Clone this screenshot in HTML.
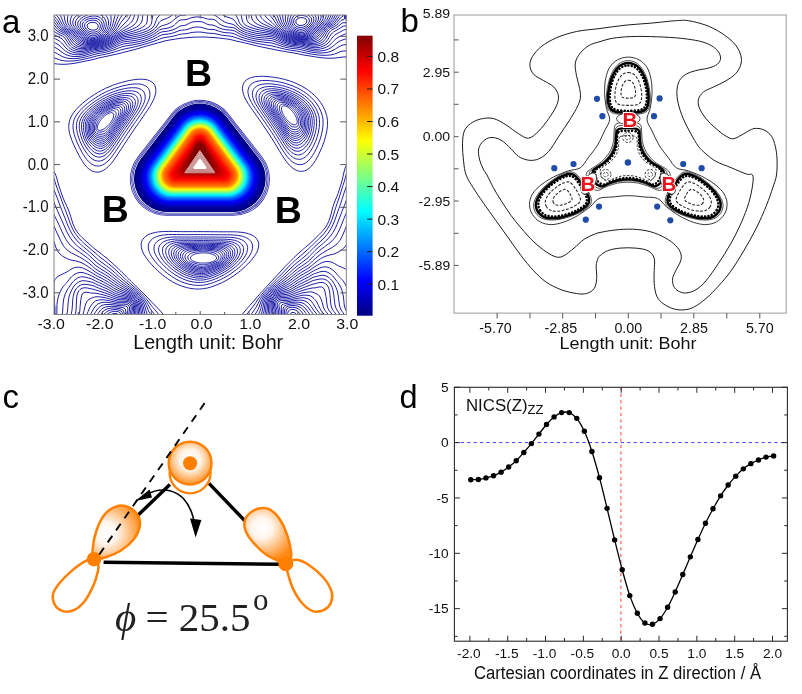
<!DOCTYPE html>
<html><head><meta charset="utf-8"><title>Figure</title>
<style>html,body{margin:0;padding:0;background:#fff;overflow:hidden}svg{display:block;position:absolute;left:0;top:0;will-change:transform;opacity:0.9999}</style>
</head><body>
<svg width="802" height="694" viewBox="0 0 802 694">
<rect width="802" height="694" fill="#fff"/>
<clipPath id="ca"><rect x="54.0" y="15.0" width="292.3" height="299.5"/></clipPath>
<g clip-path="url(#ca)" fill="none" stroke="#2020a8" stroke-width="1">
<path d="M99.69 121.5C99.86 121.24 100.02 121.02 100.17 120.8C100.33 120.58 100.47 120.38 100.62 120.19C100.76 120 100.9 119.82 101.04 119.65C101.18 119.48 101.31 119.32 101.44 119.16C101.58 119 101.71 118.84 101.84 118.69C101.97 118.54 102.11 118.39 102.24 118.24C102.38 118.09 102.52 117.95 102.66 117.8C102.8 117.65 102.95 117.5 103.1 117.35C103.26 117.19 103.42 117.04 103.59 116.88C103.76 116.72 103.93 116.55 104.13 116.38C104.32 116.21 104.53 116.03 104.75 115.84C104.98 115.65 105.22 115.45 105.5 115.25C105.78 115.04 106.07 114.82 106.41 114.59C106.75 114.36 107.12 114.11 107.54 113.88C107.96 113.65 108.44 113.38 108.94 113.19C109.45 112.99 110.04 112.77 110.58 112.69C111.13 112.62 111.75 112.59 112.22 112.75C112.68 112.9 113.11 113.23 113.37 113.63C113.62 114.04 113.72 114.64 113.74 115.18C113.76 115.72 113.62 116.35 113.5 116.88C113.37 117.42 113.16 117.94 112.98 118.4C112.8 118.86 112.59 119.27 112.39 119.65C112.2 120.03 112.01 120.36 111.83 120.67C111.65 120.97 111.47 121.24 111.31 121.5C111.14 121.76 110.98 121.98 110.83 122.2C110.67 122.42 110.53 122.62 110.38 122.81C110.24 123 110.1 123.18 109.96 123.35C109.82 123.52 109.69 123.68 109.56 123.84C109.42 124 109.29 124.16 109.16 124.31C109.03 124.46 108.89 124.61 108.76 124.76C108.62 124.91 108.48 125.05 108.34 125.2C108.2 125.35 108.05 125.5 107.9 125.65C107.74 125.81 107.58 125.96 107.41 126.12C107.24 126.28 107.07 126.45 106.87 126.62C106.68 126.79 106.47 126.97 106.25 127.16C106.02 127.35 105.78 127.55 105.5 127.75C105.22 127.96 104.93 128.18 104.59 128.41C104.25 128.64 103.88 128.89 103.46 129.12C103.04 129.35 102.56 129.62 102.06 129.81C101.55 130.01 100.96 130.23 100.42 130.31C99.87 130.38 99.25 130.41 98.78 130.25C98.32 130.1 97.89 129.77 97.63 129.37C97.38 128.96 97.28 128.36 97.26 127.82C97.24 127.28 97.38 126.65 97.5 126.12C97.63 125.58 97.84 125.06 98.02 124.6C98.2 124.14 98.41 123.73 98.61 123.35C98.8 122.97 98.99 122.64 99.17 122.33C99.35 122.03 99.53 121.76 99.69 121.5Z"/>
<path d="M97.87 121.5C98.05 121.17 98.24 120.86 98.42 120.57C98.61 120.28 98.8 120.01 98.99 119.75C99.18 119.5 99.36 119.26 99.55 119.04C99.74 118.81 99.92 118.6 100.11 118.39C100.29 118.18 100.48 117.98 100.66 117.79C100.85 117.59 101.03 117.4 101.22 117.22C101.41 117.03 101.59 116.85 101.79 116.66C101.98 116.48 102.18 116.3 102.39 116.11C102.6 115.92 102.81 115.74 103.03 115.54C103.26 115.35 103.49 115.15 103.74 114.95C104 114.74 104.26 114.54 104.55 114.32C104.85 114.1 105.15 113.87 105.5 113.63C105.85 113.39 106.21 113.15 106.63 112.89C107.05 112.64 107.5 112.37 108.02 112.11C108.53 111.85 109.1 111.56 109.71 111.34C110.32 111.11 111.02 110.87 111.7 110.77C112.37 110.67 113.14 110.6 113.76 110.74C114.37 110.88 114.99 111.18 115.39 111.61C115.79 112.04 116.05 112.68 116.16 113.32C116.27 113.95 116.17 114.73 116.03 115.42C115.9 116.1 115.6 116.81 115.35 117.42C115.09 118.03 114.77 118.59 114.5 119.09C114.23 119.59 113.96 120.02 113.71 120.42C113.46 120.82 113.23 121.17 113.01 121.5C112.79 121.83 112.58 122.12 112.39 122.41C112.19 122.69 112 122.94 111.82 123.19C111.63 123.44 111.46 123.67 111.29 123.9C111.12 124.12 110.95 124.34 110.78 124.55C110.62 124.76 110.45 124.97 110.29 125.17C110.12 125.38 109.95 125.58 109.78 125.78C109.61 125.99 109.44 126.19 109.26 126.4C109.08 126.61 108.9 126.82 108.7 127.04C108.5 127.27 108.3 127.49 108.08 127.74C107.86 127.98 107.63 128.23 107.38 128.5C107.12 128.77 106.85 129.06 106.53 129.35C106.22 129.64 105.88 129.95 105.5 130.23C105.12 130.51 104.7 130.79 104.25 131.03C103.79 131.26 103.3 131.47 102.78 131.64C102.26 131.81 101.71 131.95 101.13 132.04C100.56 132.13 99.93 132.21 99.34 132.17C98.75 132.13 98.1 132.04 97.61 131.79C97.11 131.53 96.65 131.12 96.36 130.64C96.07 130.15 95.94 129.49 95.87 128.89C95.81 128.28 95.89 127.6 95.98 127C96.06 126.4 96.22 125.82 96.36 125.29C96.5 124.76 96.68 124.27 96.84 123.82C97 123.37 97.17 122.96 97.35 122.57C97.52 122.19 97.69 121.83 97.87 121.5Z"/>
<path d="M96.02 121.5C96.22 121.09 96.43 120.7 96.64 120.33C96.86 119.97 97.1 119.63 97.33 119.31C97.56 118.99 97.8 118.69 98.04 118.41C98.28 118.13 98.51 117.86 98.75 117.6C98.99 117.35 99.22 117.1 99.46 116.87C99.7 116.63 99.93 116.4 100.17 116.17C100.41 115.95 100.65 115.73 100.9 115.51C101.15 115.29 101.4 115.07 101.66 114.85C101.92 114.63 102.19 114.41 102.47 114.18C102.75 113.96 103.04 113.73 103.35 113.49C103.67 113.26 103.99 113.02 104.35 112.77C104.71 112.52 105.08 112.26 105.5 111.99C105.92 111.73 106.36 111.45 106.86 111.17C107.36 110.89 107.9 110.59 108.5 110.3C109.1 110.02 109.77 109.71 110.49 109.46C111.21 109.21 112.02 108.93 112.83 108.81C113.63 108.68 114.55 108.58 115.32 108.7C116.09 108.82 116.9 109.09 117.45 109.55C118 110 118.43 110.7 118.63 111.43C118.82 112.16 118.76 113.1 118.61 113.93C118.47 114.76 118.08 115.66 117.75 116.42C117.42 117.19 116.99 117.89 116.64 118.52C116.28 119.14 115.94 119.67 115.62 120.17C115.3 120.67 115.02 121.09 114.74 121.5C114.47 121.91 114.21 122.27 113.97 122.62C113.73 122.96 113.5 123.28 113.28 123.58C113.06 123.89 112.85 124.18 112.64 124.46C112.43 124.74 112.23 125 112.03 125.27C111.83 125.54 111.63 125.79 111.43 126.05C111.23 126.31 111.03 126.57 110.83 126.83C110.62 127.09 110.41 127.35 110.2 127.62C109.98 127.89 109.76 128.17 109.52 128.46C109.28 128.75 109.04 129.05 108.76 129.38C108.49 129.71 108.21 130.05 107.89 130.42C107.57 130.78 107.22 131.19 106.83 131.57C106.43 131.96 105.99 132.4 105.5 132.75C105.01 133.1 104.46 133.45 103.9 133.69C103.33 133.93 102.71 134.1 102.1 134.2C101.48 134.3 100.84 134.33 100.2 134.31C99.55 134.28 98.88 134.23 98.24 134.07C97.61 133.91 96.94 133.7 96.41 133.34C95.88 132.99 95.4 132.49 95.07 131.93C94.75 131.37 94.57 130.64 94.46 129.97C94.35 129.3 94.39 128.56 94.42 127.9C94.46 127.23 94.57 126.58 94.67 125.98C94.78 125.39 94.91 124.83 95.04 124.3C95.18 123.77 95.33 123.28 95.49 122.82C95.65 122.35 95.83 121.91 96.02 121.5Z"/>
<path d="M94.48 121.5C94.68 121.02 94.91 120.57 95.16 120.14C95.4 119.71 95.67 119.31 95.94 118.94C96.21 118.56 96.5 118.22 96.77 117.89C97.05 117.55 97.34 117.25 97.62 116.95C97.9 116.65 98.18 116.37 98.46 116.1C98.74 115.82 99.02 115.56 99.3 115.3C99.59 115.04 99.87 114.79 100.16 114.54C100.45 114.29 100.75 114.05 101.05 113.8C101.36 113.55 101.67 113.3 102 113.05C102.33 112.79 102.67 112.54 103.03 112.28C103.39 112.01 103.77 111.75 104.18 111.47C104.59 111.19 105.02 110.91 105.5 110.62C105.98 110.33 106.48 110.03 107.05 109.73C107.62 109.42 108.22 109.1 108.9 108.8C109.59 108.49 110.33 108.16 111.14 107.89C111.95 107.62 112.86 107.32 113.77 107.17C114.69 107.02 115.73 106.88 116.63 106.99C117.53 107.1 118.5 107.35 119.18 107.82C119.85 108.3 120.42 109.04 120.69 109.85C120.95 110.66 120.92 111.73 120.77 112.68C120.62 113.64 120.16 114.7 119.76 115.59C119.37 116.48 118.85 117.31 118.43 118.04C118 118.76 117.59 119.38 117.22 119.96C116.85 120.53 116.51 121.03 116.19 121.5C115.87 121.97 115.58 122.39 115.3 122.79C115.01 123.19 114.75 123.56 114.5 123.91C114.24 124.27 114 124.6 113.77 124.92C113.53 125.25 113.3 125.56 113.07 125.87C112.84 126.18 112.62 126.48 112.39 126.79C112.16 127.09 111.93 127.39 111.7 127.7C111.46 128.01 111.23 128.32 110.98 128.64C110.73 128.96 110.48 129.29 110.2 129.64C109.93 130 109.65 130.36 109.33 130.75C109.02 131.15 108.69 131.57 108.32 132.02C107.94 132.46 107.54 132.96 107.07 133.44C106.6 133.91 106.08 134.44 105.5 134.85C104.92 135.27 104.27 135.67 103.6 135.91C102.94 136.16 102.22 136.3 101.52 136.34C100.82 136.39 100.11 136.31 99.41 136.2C98.71 136.08 98 135.91 97.33 135.65C96.66 135.39 95.97 135.09 95.41 134.64C94.86 134.2 94.35 133.63 93.99 133.01C93.64 132.38 93.43 131.6 93.28 130.88C93.14 130.15 93.13 129.36 93.13 128.64C93.12 127.93 93.19 127.23 93.26 126.57C93.33 125.91 93.43 125.29 93.54 124.7C93.66 124.11 93.79 123.56 93.94 123.02C94.1 122.49 94.27 121.98 94.48 121.5Z"/>
<path d="M93.11 121.5C93.32 120.96 93.58 120.45 93.84 119.97C94.11 119.48 94.42 119.03 94.72 118.61C95.02 118.19 95.34 117.8 95.66 117.42C95.98 117.05 96.3 116.71 96.62 116.37C96.94 116.04 97.25 115.72 97.57 115.42C97.89 115.11 98.21 114.82 98.53 114.53C98.85 114.24 99.18 113.97 99.51 113.69C99.84 113.41 100.17 113.14 100.52 112.87C100.86 112.59 101.21 112.32 101.58 112.05C101.95 111.77 102.33 111.49 102.74 111.2C103.15 110.92 103.57 110.63 104.03 110.33C104.49 110.03 104.97 109.72 105.5 109.41C106.03 109.1 106.59 108.78 107.22 108.45C107.84 108.13 108.51 107.79 109.26 107.47C110.01 107.14 110.82 106.79 111.71 106.5C112.6 106.21 113.6 105.89 114.61 105.72C115.62 105.55 116.77 105.39 117.79 105.49C118.8 105.59 119.91 105.81 120.7 106.3C121.48 106.8 122.18 107.57 122.5 108.45C122.83 109.33 122.83 110.52 122.67 111.59C122.51 112.65 121.98 113.85 121.54 114.86C121.1 115.86 120.49 116.79 120.01 117.61C119.52 118.43 119.05 119.12 118.63 119.77C118.21 120.42 117.83 120.97 117.47 121.5C117.11 122.03 116.78 122.49 116.47 122.94C116.15 123.39 115.86 123.8 115.58 124.2C115.29 124.6 115.03 124.97 114.76 125.34C114.5 125.7 114.24 126.05 113.99 126.4C113.73 126.75 113.49 127.09 113.23 127.43C112.98 127.78 112.73 128.12 112.47 128.47C112.21 128.82 111.95 129.17 111.67 129.54C111.39 129.91 111.11 130.28 110.8 130.69C110.5 131.09 110.19 131.51 109.83 131.96C109.48 132.42 109.12 132.91 108.7 133.43C108.27 133.95 107.82 134.53 107.29 135.08C106.75 135.62 106.16 136.24 105.5 136.71C104.84 137.18 104.09 137.62 103.34 137.88C102.6 138.13 101.79 138.24 101.02 138.23C100.25 138.23 99.47 138.07 98.72 137.87C97.97 137.67 97.22 137.4 96.52 137.05C95.82 136.7 95.11 136.31 94.53 135.79C93.95 135.28 93.42 134.65 93.04 133.96C92.66 133.27 92.42 132.45 92.24 131.68C92.06 130.9 92.02 130.07 91.98 129.31C91.94 128.54 91.98 127.79 92.02 127.08C92.06 126.38 92.13 125.71 92.22 125.06C92.31 124.41 92.42 123.8 92.57 123.2C92.72 122.61 92.9 122.04 93.11 121.5Z"/>
<path d="M91.69 121.5C91.91 120.9 92.18 120.32 92.47 119.79C92.77 119.25 93.1 118.74 93.44 118.27C93.78 117.79 94.14 117.36 94.49 116.94C94.85 116.52 95.21 116.14 95.57 115.77C95.93 115.4 96.29 115.05 96.65 114.71C97.01 114.37 97.37 114.05 97.73 113.73C98.09 113.41 98.45 113.1 98.82 112.8C99.19 112.49 99.57 112.2 99.96 111.9C100.34 111.6 100.74 111.3 101.15 111C101.56 110.7 101.99 110.39 102.44 110.08C102.89 109.77 103.36 109.46 103.87 109.13C104.38 108.81 104.91 108.48 105.5 108.15C106.09 107.81 106.7 107.47 107.39 107.13C108.08 106.78 108.81 106.42 109.63 106.08C110.45 105.73 111.34 105.37 112.31 105.05C113.29 104.74 114.37 104.4 115.48 104.21C116.59 104.02 117.86 103.83 118.99 103.92C120.13 104 121.38 104.2 122.29 104.71C123.19 105.23 124.01 106.04 124.4 106.99C124.8 107.95 124.83 109.26 124.66 110.44C124.49 111.62 123.89 112.97 123.39 114.09C122.89 115.21 122.2 116.26 121.66 117.17C121.11 118.09 120.58 118.86 120.1 119.58C119.63 120.3 119.21 120.91 118.8 121.5C118.4 122.09 118.04 122.6 117.69 123.1C117.34 123.6 117.02 124.06 116.7 124.5C116.39 124.95 116.09 125.36 115.8 125.77C115.51 126.18 115.23 126.56 114.95 126.96C114.67 127.35 114.4 127.73 114.12 128.11C113.84 128.5 113.56 128.88 113.27 129.27C112.99 129.67 112.7 130.06 112.39 130.48C112.08 130.9 111.77 131.32 111.43 131.78C111.1 132.24 110.75 132.71 110.36 133.23C109.97 133.75 109.57 134.31 109.09 134.9C108.62 135.5 108.11 136.17 107.51 136.79C106.91 137.42 106.24 138.13 105.5 138.65C104.76 139.17 103.91 139.67 103.07 139.93C102.24 140.19 101.33 140.26 100.49 140.21C99.64 140.16 98.8 139.9 98 139.61C97.2 139.33 96.41 138.95 95.68 138.51C94.95 138.07 94.22 137.59 93.61 136.99C93.01 136.4 92.46 135.7 92.05 134.95C91.64 134.21 91.36 133.34 91.15 132.51C90.94 131.68 90.86 130.81 90.79 130C90.71 129.18 90.71 128.38 90.72 127.62C90.73 126.86 90.77 126.13 90.84 125.43C90.91 124.72 91 124.05 91.14 123.39C91.28 122.74 91.46 122.1 91.69 121.5Z"/>
<path d="M90.32 121.5C90.55 120.84 90.85 120.21 91.16 119.61C91.48 119.02 91.85 118.46 92.22 117.94C92.59 117.42 92.99 116.94 93.38 116.48C93.77 116.02 94.17 115.6 94.57 115.19C94.97 114.78 95.37 114.4 95.76 114.03C96.16 113.66 96.56 113.31 96.96 112.96C97.36 112.61 97.76 112.28 98.17 111.95C98.58 111.62 98.99 111.29 99.42 110.97C99.85 110.64 100.28 110.32 100.73 110C101.19 109.67 101.65 109.34 102.15 109.01C102.65 108.67 103.16 108.33 103.72 107.99C104.28 107.64 104.86 107.29 105.5 106.94C106.14 106.58 106.81 106.22 107.56 105.85C108.31 105.49 109.1 105.11 109.99 104.75C110.88 104.38 111.83 104 112.89 103.67C113.94 103.34 115.1 102.98 116.31 102.77C117.52 102.56 118.9 102.34 120.15 102.41C121.4 102.48 122.79 102.66 123.81 103.19C124.82 103.73 125.76 104.58 126.22 105.6C126.68 106.62 126.74 108.05 126.56 109.34C126.39 110.63 125.72 112.12 125.17 113.35C124.61 114.59 123.84 115.74 123.23 116.75C122.62 117.75 122.04 118.6 121.51 119.39C120.99 120.18 120.52 120.86 120.08 121.5C119.64 122.14 119.24 122.71 118.86 123.26C118.47 123.81 118.12 124.3 117.78 124.79C117.44 125.28 117.11 125.73 116.8 126.18C116.48 126.63 116.17 127.06 115.87 127.49C115.56 127.92 115.27 128.33 114.96 128.76C114.66 129.19 114.36 129.61 114.04 130.04C113.73 130.48 113.42 130.92 113.08 131.38C112.75 131.84 112.41 132.31 112.04 132.82C111.67 133.33 111.29 133.86 110.86 134.44C110.43 135.02 109.99 135.65 109.47 136.31C108.95 136.98 108.39 137.74 107.73 138.43C107.07 139.13 106.32 139.93 105.5 140.51C104.68 141.08 103.74 141.63 102.82 141.89C101.9 142.16 100.9 142.2 99.98 142.1C99.06 142 98.16 141.65 97.3 141.28C96.45 140.92 95.63 140.43 94.87 139.91C94.11 139.39 93.36 138.81 92.73 138.14C92.1 137.48 91.53 136.71 91.09 135.91C90.66 135.1 90.35 134.18 90.11 133.31C89.87 132.43 89.75 131.52 89.64 130.66C89.53 129.79 89.5 128.95 89.47 128.14C89.45 127.33 89.46 126.54 89.51 125.78C89.56 125.02 89.64 124.28 89.77 123.57C89.91 122.86 90.09 122.16 90.32 121.5Z"/>
<path d="M88.96 121.5C89.2 120.78 89.51 120.09 89.85 119.44C90.19 118.79 90.59 118.18 90.99 117.61C91.4 117.04 91.83 116.52 92.26 116.02C92.69 115.52 93.13 115.06 93.57 114.61C94.01 114.17 94.44 113.75 94.88 113.35C95.32 112.95 95.75 112.56 96.19 112.19C96.63 111.81 97.07 111.45 97.52 111.09C97.96 110.74 98.42 110.39 98.88 110.04C99.35 109.69 99.82 109.34 100.32 108.99C100.82 108.64 101.32 108.29 101.86 107.93C102.41 107.58 102.96 107.21 103.57 106.85C104.18 106.48 104.81 106.1 105.5 105.73C106.19 105.35 106.92 104.97 107.73 104.58C108.53 104.2 109.39 103.8 110.34 103.42C111.3 103.04 112.33 102.63 113.46 102.28C114.59 101.93 115.84 101.55 117.15 101.32C118.46 101.09 119.94 100.85 121.3 100.91C122.66 100.96 124.2 101.12 125.33 101.67C126.45 102.22 127.52 103.11 128.04 104.2C128.56 105.3 128.65 106.84 128.46 108.24C128.28 109.64 127.55 111.27 126.94 112.62C126.34 113.96 125.48 115.23 124.81 116.33C124.14 117.42 123.5 118.34 122.92 119.21C122.35 120.07 121.84 120.8 121.36 121.5C120.88 122.2 120.44 122.82 120.03 123.41C119.61 124.01 119.23 124.55 118.86 125.08C118.48 125.61 118.14 126.1 117.79 126.59C117.45 127.08 117.12 127.55 116.79 128.02C116.46 128.49 116.14 128.94 115.81 129.41C115.48 129.87 115.15 130.33 114.81 130.81C114.47 131.29 114.13 131.77 113.77 132.28C113.41 132.79 113.04 133.3 112.64 133.87C112.24 134.43 111.83 135.01 111.36 135.65C110.9 136.3 110.42 136.99 109.85 137.73C109.28 138.46 108.67 139.3 107.95 140.08C107.22 140.85 106.4 141.73 105.5 142.36C104.6 142.99 103.56 143.58 102.56 143.85C101.55 144.12 100.47 144.14 99.47 143.99C98.48 143.84 97.51 143.4 96.61 142.96C95.71 142.51 94.86 141.92 94.06 141.31C93.27 140.7 92.5 140.03 91.85 139.29C91.19 138.55 90.6 137.72 90.14 136.86C89.68 136 89.34 135.03 89.07 134.11C88.79 133.19 88.64 132.23 88.5 131.32C88.36 130.41 88.28 129.52 88.23 128.65C88.18 127.79 88.16 126.96 88.19 126.14C88.22 125.32 88.28 124.52 88.41 123.75C88.53 122.98 88.71 122.22 88.96 121.5Z"/>
<path d="M87.44 121.5C87.69 120.72 88.02 119.96 88.39 119.25C88.76 118.54 89.19 117.87 89.63 117.25C90.07 116.62 90.55 116.05 91.02 115.5C91.49 114.96 91.98 114.45 92.46 113.97C92.94 113.49 93.42 113.04 93.9 112.6C94.38 112.16 94.85 111.74 95.33 111.33C95.82 110.93 96.3 110.54 96.79 110.15C97.28 109.76 97.78 109.38 98.29 109.01C98.8 108.63 99.32 108.26 99.86 107.88C100.4 107.5 100.95 107.12 101.55 106.74C102.14 106.36 102.74 105.97 103.4 105.58C104.06 105.18 104.75 104.78 105.5 104.38C106.25 103.98 107.04 103.58 107.91 103.17C108.79 102.76 109.71 102.35 110.74 101.94C111.77 101.54 112.88 101.11 114.1 100.74C115.32 100.37 116.66 99.97 118.08 99.72C119.49 99.47 121.1 99.19 122.59 99.23C124.07 99.28 125.77 99.42 127.01 99.99C128.26 100.56 129.47 101.48 130.06 102.65C130.65 103.83 130.77 105.5 130.58 107.02C130.39 108.55 129.58 110.33 128.92 111.8C128.25 113.27 127.3 114.66 126.57 115.86C125.83 117.06 125.12 118.06 124.49 119C123.86 119.94 123.31 120.74 122.78 121.5C122.25 122.26 121.78 122.93 121.33 123.58C120.87 124.23 120.46 124.82 120.05 125.4C119.65 125.98 119.27 126.51 118.9 127.05C118.52 127.58 118.17 128.09 117.81 128.61C117.45 129.12 117.1 129.62 116.75 130.13C116.39 130.64 116.04 131.14 115.67 131.67C115.3 132.19 114.93 132.72 114.54 133.28C114.15 133.84 113.75 134.41 113.31 135.03C112.87 135.65 112.43 136.29 111.92 137C111.41 137.71 110.89 138.48 110.27 139.3C109.65 140.11 108.98 141.05 108.19 141.9C107.39 142.76 106.49 143.74 105.5 144.43C104.51 145.12 103.37 145.76 102.27 146.03C101.17 146.31 99.98 146.29 98.91 146.09C97.84 145.88 96.8 145.35 95.84 144.81C94.89 144.27 94 143.57 93.17 142.86C92.34 142.15 91.55 141.39 90.87 140.57C90.19 139.74 89.58 138.85 89.08 137.92C88.59 136.99 88.22 135.98 87.91 135C87.6 134.02 87.4 133.01 87.22 132.05C87.05 131.09 86.93 130.15 86.85 129.23C86.76 128.31 86.71 127.41 86.72 126.53C86.72 125.65 86.76 124.79 86.88 123.95C87 123.11 87.19 122.28 87.44 121.5Z"/>
<path d="M85.89 121.5C86.15 120.65 86.51 119.82 86.9 119.05C87.3 118.28 87.77 117.56 88.25 116.88C88.72 116.2 89.25 115.57 89.76 114.98C90.27 114.39 90.8 113.84 91.32 113.32C91.85 112.79 92.37 112.3 92.89 111.83C93.42 111.35 93.94 110.9 94.46 110.46C94.99 110.02 95.51 109.6 96.05 109.18C96.58 108.76 97.12 108.36 97.68 107.95C98.24 107.55 98.8 107.15 99.39 106.74C99.98 106.34 100.58 105.93 101.22 105.52C101.86 105.11 102.52 104.7 103.23 104.28C103.95 103.86 104.69 103.44 105.5 103.01C106.31 102.59 107.16 102.16 108.1 101.73C109.04 101.3 110.04 100.86 111.14 100.43C112.25 100.01 113.44 99.56 114.75 99.17C116.06 98.78 117.5 98.35 119.02 98.08C120.55 97.81 122.27 97.5 123.89 97.53C125.51 97.56 127.37 97.67 128.74 98.26C130.11 98.85 131.46 99.82 132.12 101.07C132.79 102.33 132.93 104.13 132.73 105.78C132.53 107.43 131.66 109.37 130.93 110.97C130.2 112.57 129.16 114.07 128.35 115.38C127.55 116.68 126.78 117.77 126.09 118.79C125.4 119.81 124.8 120.67 124.23 121.5C123.66 122.33 123.14 123.05 122.65 123.76C122.16 124.46 121.71 125.1 121.27 125.73C120.84 126.35 120.43 126.94 120.03 127.52C119.62 128.1 119.24 128.65 118.85 129.21C118.46 129.77 118.09 130.31 117.7 130.86C117.32 131.42 116.94 131.97 116.54 132.54C116.14 133.11 115.75 133.69 115.32 134.3C114.9 134.91 114.47 135.53 113.99 136.21C113.52 136.89 113.04 137.59 112.49 138.37C111.94 139.16 111.37 140 110.7 140.9C110.02 141.79 109.3 142.82 108.43 143.76C107.56 144.7 106.58 145.78 105.5 146.53C104.42 147.28 103.17 147.98 101.98 148.26C100.78 148.54 99.49 148.49 98.34 148.23C97.18 147.97 96.07 147.34 95.06 146.7C94.05 146.07 93.12 145.25 92.25 144.45C91.39 143.64 90.58 142.78 89.87 141.87C89.16 140.96 88.53 139.99 88 139C87.48 138 87.08 136.94 86.73 135.9C86.38 134.87 86.14 133.82 85.93 132.8C85.71 131.79 85.56 130.79 85.44 129.81C85.32 128.83 85.23 127.88 85.22 126.93C85.2 125.99 85.22 125.06 85.33 124.15C85.45 123.25 85.63 122.35 85.89 121.5Z"/>
<path d="M84.04 121.5C84.31 120.57 84.7 119.66 85.12 118.82C85.55 117.97 86.07 117.18 86.59 116.43C87.11 115.69 87.68 115 88.25 114.35C88.81 113.7 89.39 113.11 89.97 112.53C90.54 111.96 91.12 111.42 91.69 110.91C92.27 110.39 92.84 109.9 93.42 109.42C94 108.94 94.57 108.48 95.16 108.03C95.75 107.57 96.34 107.13 96.95 106.69C97.56 106.25 98.18 105.82 98.82 105.38C99.47 104.95 100.13 104.51 100.83 104.07C101.53 103.63 102.25 103.18 103.03 102.73C103.81 102.28 104.62 101.83 105.5 101.37C106.38 100.92 107.31 100.46 108.33 100C109.35 99.55 110.43 99.08 111.63 98.63C112.83 98.18 114.11 97.71 115.53 97.29C116.95 96.87 118.5 96.42 120.15 96.12C121.81 95.82 123.69 95.47 125.46 95.49C127.23 95.5 129.28 95.59 130.8 96.2C132.32 96.82 133.83 97.83 134.59 99.18C135.34 100.53 135.52 102.49 135.31 104.29C135.1 106.09 134.14 108.22 133.33 109.97C132.53 111.72 131.38 113.37 130.49 114.8C129.61 116.23 128.75 117.42 128 118.54C127.24 119.65 126.59 120.6 125.96 121.5C125.33 122.4 124.78 123.2 124.24 123.97C123.7 124.74 123.21 125.43 122.73 126.12C122.26 126.8 121.81 127.44 121.37 128.08C120.93 128.71 120.52 129.32 120.1 129.93C119.68 130.54 119.27 131.13 118.85 131.74C118.43 132.35 118.02 132.96 117.58 133.58C117.15 134.21 116.72 134.85 116.26 135.52C115.79 136.19 115.33 136.88 114.81 137.63C114.3 138.38 113.77 139.15 113.17 140.02C112.57 140.88 111.95 141.82 111.21 142.81C110.47 143.81 109.68 144.95 108.72 145.99C107.77 147.03 106.68 148.23 105.5 149.05C104.32 149.87 102.93 150.63 101.63 150.92C100.32 151.21 98.9 151.12 97.65 150.79C96.4 150.47 95.2 149.71 94.12 148.97C93.04 148.23 92.07 147.27 91.16 146.34C90.25 145.42 89.42 144.44 88.68 143.43C87.93 142.42 87.27 141.36 86.71 140.29C86.15 139.21 85.71 138.09 85.32 136.99C84.93 135.89 84.64 134.78 84.37 133.7C84.11 132.62 83.91 131.56 83.75 130.51C83.59 129.46 83.47 128.43 83.42 127.42C83.38 126.4 83.38 125.39 83.48 124.4C83.58 123.41 83.77 122.43 84.04 121.5Z"/>
<path d="M82.1 121.5C82.39 120.49 82.8 119.49 83.26 118.57C83.72 117.65 84.28 116.78 84.85 115.97C85.42 115.15 86.04 114.41 86.66 113.7C87.28 112.99 87.92 112.34 88.54 111.71C89.17 111.08 89.81 110.5 90.43 109.94C91.06 109.38 91.69 108.84 92.32 108.32C92.96 107.8 93.59 107.31 94.23 106.81C94.88 106.32 95.52 105.85 96.19 105.37C96.86 104.9 97.53 104.43 98.23 103.96C98.94 103.49 99.66 103.02 100.42 102.54C101.18 102.06 101.97 101.59 102.81 101.1C103.66 100.62 104.54 100.14 105.5 99.65C106.46 99.17 107.46 98.68 108.57 98.19C109.67 97.71 110.84 97.22 112.13 96.74C113.43 96.26 114.81 95.77 116.34 95.32C117.88 94.87 119.55 94.39 121.34 94.06C123.13 93.74 125.17 93.35 127.1 93.35C129.04 93.34 131.28 93.4 132.96 94.04C134.64 94.68 136.33 95.75 137.17 97.2C138.01 98.65 138.24 100.77 138.02 102.73C137.8 104.68 136.74 107.01 135.86 108.93C134.98 110.84 133.71 112.64 132.74 114.2C131.76 115.76 130.83 117.06 130.01 118.27C129.18 119.49 128.46 120.51 127.78 121.5C127.1 122.49 126.49 123.35 125.9 124.19C125.32 125.02 124.78 125.78 124.27 126.53C123.75 127.27 123.27 127.97 122.79 128.66C122.31 129.35 121.86 130.01 121.4 130.68C120.95 131.35 120.5 132 120.05 132.67C119.6 133.33 119.15 133.99 118.68 134.68C118.21 135.37 117.74 136.06 117.24 136.8C116.74 137.54 116.23 138.29 115.67 139.11C115.11 139.94 114.54 140.79 113.88 141.74C113.23 142.69 112.56 143.72 111.75 144.82C110.94 145.92 110.07 147.18 109.03 148.32C107.99 149.47 106.8 150.79 105.5 151.69C104.2 152.59 102.69 153.41 101.26 153.71C99.83 154.01 98.28 153.87 96.93 153.48C95.58 153.09 94.29 152.2 93.14 151.34C91.98 150.49 90.96 149.38 90.01 148.33C89.06 147.28 88.2 146.18 87.42 145.06C86.65 143.95 85.96 142.8 85.36 141.64C84.76 140.49 84.27 139.29 83.83 138.12C83.4 136.96 83.06 135.78 82.75 134.64C82.44 133.49 82.18 132.36 81.98 131.24C81.78 130.12 81.61 129.02 81.54 127.92C81.46 126.82 81.44 125.73 81.53 124.66C81.63 123.59 81.81 122.51 82.1 121.5Z"/>
<path d="M79.79 121.5C80.1 120.39 80.54 119.29 81.04 118.28C81.54 117.27 82.16 116.31 82.78 115.41C83.4 114.52 84.1 113.7 84.78 112.92C85.45 112.14 86.16 111.42 86.85 110.73C87.55 110.05 88.25 109.41 88.94 108.79C89.64 108.17 90.33 107.59 91.02 107.02C91.72 106.45 92.42 105.91 93.13 105.38C93.84 104.84 94.55 104.32 95.28 103.8C96.02 103.29 96.76 102.78 97.53 102.27C98.31 101.75 99.1 101.24 99.93 100.73C100.77 100.21 101.63 99.69 102.56 99.17C103.49 98.65 104.45 98.13 105.5 97.61C106.55 97.09 107.65 96.56 108.85 96.05C110.06 95.53 111.33 95.01 112.74 94.49C114.15 93.98 115.64 93.46 117.31 92.98C118.98 92.5 120.79 91.99 122.75 91.62C124.71 91.26 126.92 90.83 129.05 90.81C131.18 90.78 133.66 90.8 135.53 91.47C137.39 92.14 139.29 93.27 140.24 94.84C141.19 96.41 141.46 98.73 141.23 100.87C141 103.01 139.83 105.58 138.86 107.68C137.89 109.79 136.48 111.77 135.41 113.49C134.33 115.2 133.3 116.62 132.39 117.96C131.48 119.3 130.69 120.42 129.94 121.5C129.19 122.58 128.52 123.53 127.88 124.45C127.23 125.37 126.65 126.2 126.09 127.02C125.52 127.83 124.99 128.6 124.47 129.36C123.95 130.12 123.45 130.84 122.96 131.58C122.46 132.31 121.97 133.03 121.48 133.76C120.98 134.49 120.49 135.22 119.98 135.98C119.47 136.74 118.95 137.5 118.41 138.32C117.86 139.13 117.3 139.96 116.69 140.88C116.07 141.79 115.45 142.73 114.73 143.79C114.02 144.84 113.28 145.99 112.39 147.2C111.5 148.42 110.54 149.83 109.4 151.1C108.25 152.37 106.93 153.84 105.5 154.83C104.07 155.82 102.39 156.72 100.82 157.03C99.25 157.33 97.55 157.15 96.08 156.67C94.6 156.2 93.21 155.16 91.97 154.17C90.73 153.17 89.65 151.89 88.65 150.69C87.64 149.5 86.75 148.24 85.93 147C85.12 145.76 84.39 144.5 83.75 143.25C83.11 142 82.56 140.72 82.08 139.47C81.59 138.22 81.18 136.98 80.81 135.75C80.45 134.53 80.13 133.32 79.88 132.11C79.63 130.91 79.41 129.71 79.3 128.52C79.19 127.33 79.14 126.13 79.22 124.96C79.3 123.79 79.49 122.61 79.79 121.5Z"/>
<path d="M77 121.5C77.32 120.27 77.81 119.05 78.36 117.93C78.9 116.8 79.59 115.73 80.28 114.74C80.97 113.75 81.74 112.84 82.49 111.97C83.25 111.11 84.04 110.31 84.81 109.55C85.58 108.79 86.36 108.09 87.13 107.4C87.9 106.72 88.67 106.08 89.45 105.45C90.23 104.82 91 104.22 91.79 103.63C92.58 103.04 93.37 102.47 94.19 101.9C95 101.33 95.82 100.78 96.68 100.22C97.54 99.65 98.42 99.1 99.35 98.53C100.27 97.97 101.23 97.4 102.25 96.84C103.28 96.27 104.34 95.7 105.5 95.13C106.66 94.57 107.87 94 109.19 93.45C110.52 92.89 111.92 92.33 113.46 91.78C115.01 91.23 116.66 90.66 118.49 90.15C120.32 89.63 122.3 89.07 124.46 88.67C126.61 88.27 129.05 87.78 131.41 87.73C133.78 87.68 136.55 87.65 138.64 88.36C140.73 89.07 142.88 90.28 143.96 91.99C145.04 93.7 145.36 96.26 145.12 98.63C144.87 100.99 143.57 103.85 142.48 106.18C141.4 108.51 139.83 110.72 138.63 112.62C137.43 114.52 136.28 116.1 135.27 117.58C134.26 119.06 133.39 120.3 132.55 121.5C131.72 122.7 130.98 123.74 130.27 124.76C129.56 125.78 128.92 126.7 128.29 127.61C127.66 128.51 127.08 129.36 126.51 130.2C125.93 131.04 125.39 131.85 124.83 132.66C124.28 133.48 123.75 134.27 123.21 135.09C122.66 135.9 122.12 136.71 121.55 137.55C120.99 138.4 120.42 139.25 119.82 140.16C119.21 141.07 118.6 141.99 117.92 143.01C117.24 144.03 116.55 145.09 115.76 146.27C114.97 147.45 114.15 148.73 113.16 150.09C112.17 151.45 111.12 153.03 109.84 154.45C108.56 155.88 107.09 157.53 105.5 158.62C103.91 159.72 102.04 160.72 100.29 161.04C98.55 161.36 96.66 161.11 95.04 160.54C93.42 159.96 91.9 158.75 90.55 157.58C89.21 156.42 88.07 154.92 87 153.55C85.92 152.18 85 150.74 84.13 149.35C83.27 147.96 82.5 146.57 81.8 145.2C81.11 143.82 80.5 142.46 79.95 141.11C79.39 139.76 78.91 138.43 78.47 137.1C78.04 135.78 77.65 134.48 77.34 133.17C77.02 131.86 76.75 130.55 76.6 129.24C76.44 127.94 76.36 126.62 76.42 125.33C76.49 124.04 76.68 122.73 77 121.5Z"/>
<path d="M73.6 121.5C73.95 120.12 74.49 118.76 75.09 117.5C75.7 116.23 76.46 115.04 77.23 113.93C78.01 112.81 78.87 111.79 79.72 110.82C80.57 109.85 81.45 108.97 82.32 108.12C83.19 107.26 84.06 106.48 84.93 105.71C85.8 104.95 86.66 104.23 87.53 103.53C88.41 102.83 89.28 102.17 90.16 101.51C91.05 100.85 91.94 100.22 92.85 99.59C93.77 98.96 94.69 98.34 95.65 97.72C96.61 97.1 97.59 96.48 98.63 95.86C99.67 95.24 100.73 94.61 101.88 93.99C103.02 93.37 104.21 92.74 105.5 92.12C106.79 91.5 108.14 90.89 109.61 90.28C111.09 89.67 112.63 89.06 114.35 88.47C116.07 87.87 117.89 87.26 119.92 86.7C121.95 86.13 124.14 85.52 126.53 85.07C128.93 84.62 131.64 84.06 134.29 83.98C136.94 83.9 140.05 83.82 142.42 84.58C144.79 85.34 147.25 86.63 148.48 88.52C149.72 90.4 150.12 93.25 149.85 95.89C149.59 98.53 148.12 101.74 146.9 104.35C145.69 106.96 143.91 109.44 142.56 111.57C141.21 113.7 139.92 115.46 138.78 117.12C137.64 118.77 136.67 120.16 135.73 121.5C134.8 122.84 133.97 124.01 133.18 125.14C132.39 126.28 131.67 127.31 130.97 128.32C130.27 129.34 129.62 130.28 128.98 131.23C128.34 132.17 127.73 133.07 127.12 133.98C126.51 134.9 125.92 135.79 125.31 136.7C124.7 137.61 124.1 138.52 123.47 139.47C122.84 140.42 122.21 141.37 121.54 142.4C120.86 143.42 120.17 144.46 119.42 145.61C118.67 146.76 117.89 147.95 117.01 149.28C116.12 150.61 115.21 152.06 114.1 153.6C113 155.15 111.81 156.93 110.38 158.54C108.94 160.15 107.29 162.02 105.5 163.25C103.71 164.48 101.6 165.59 99.65 165.92C97.7 166.26 95.58 165.94 93.78 165.24C91.98 164.54 90.3 163.11 88.83 161.74C87.37 160.37 86.14 158.62 84.99 157.03C83.84 155.44 82.86 153.79 81.94 152.21C81.01 150.63 80.2 149.09 79.43 147.57C78.67 146.05 77.99 144.57 77.35 143.1C76.72 141.63 76.14 140.19 75.62 138.75C75.1 137.31 74.63 135.89 74.24 134.45C73.85 133.01 73.5 131.57 73.3 130.13C73.1 128.68 72.97 127.21 73.02 125.78C73.07 124.34 73.26 122.88 73.6 121.5Z"/>
<path d="M69.36 121.5C69.73 119.94 70.33 118.39 71.01 116.96C71.69 115.53 72.55 114.17 73.43 112.91C74.3 111.64 75.28 110.48 76.25 109.38C77.21 108.29 78.22 107.28 79.2 106.32C80.19 105.35 81.19 104.47 82.18 103.6C83.16 102.74 84.15 101.93 85.14 101.14C86.13 100.35 87.12 99.6 88.13 98.86C89.14 98.12 90.14 97.41 91.18 96.7C92.22 95.99 93.27 95.3 94.36 94.6C95.45 93.91 96.56 93.21 97.73 92.52C98.91 91.82 100.12 91.13 101.41 90.43C102.7 89.74 104.05 89.04 105.5 88.36C106.95 87.67 108.47 86.99 110.13 86.32C111.79 85.65 113.53 84.99 115.46 84.33C117.39 83.67 119.42 83.01 121.7 82.38C123.98 81.76 126.43 81.09 129.13 80.57C131.82 80.06 134.88 79.42 137.88 79.3C140.88 79.18 144.44 79.04 147.15 79.85C149.86 80.66 152.7 82.07 154.14 84.18C155.58 86.28 156.06 89.49 155.77 92.48C155.49 95.46 153.81 99.1 152.42 102.06C151.04 105.03 149.01 107.84 147.47 110.25C145.93 112.67 144.46 114.67 143.17 116.54C141.87 118.42 140.77 119.99 139.71 121.5C138.65 123.01 137.72 124.34 136.82 125.62C135.92 126.91 135.11 128.07 134.32 129.22C133.53 130.37 132.8 131.44 132.08 132.51C131.36 133.58 130.67 134.6 129.98 135.63C129.29 136.67 128.62 137.68 127.94 138.72C127.25 139.76 126.57 140.79 125.87 141.87C125.16 142.95 124.45 144.03 123.68 145.2C122.92 146.36 122.15 147.55 121.3 148.86C120.44 150.17 119.57 151.53 118.57 153.05C117.57 154.58 116.53 156.23 115.28 158C114.03 159.76 112.68 161.81 111.05 163.65C109.42 165.49 107.53 167.63 105.5 169.02C103.47 170.42 101.06 171.68 98.85 172.03C96.63 172.38 94.23 171.97 92.2 171.12C90.18 170.27 88.3 168.56 86.68 166.94C85.06 165.31 83.72 163.24 82.47 161.38C81.23 159.52 80.19 157.59 79.19 155.78C78.19 153.97 77.32 152.23 76.47 150.53C75.62 148.83 74.85 147.21 74.11 145.59C73.38 143.96 72.69 142.39 72.06 140.81C71.44 139.22 70.85 137.65 70.37 136.05C69.89 134.46 69.45 132.85 69.18 131.23C68.91 129.61 68.73 127.96 68.76 126.34C68.79 124.72 68.98 123.06 69.36 121.5Z"/>
<path d="M283.65 115.3C283.51 115.05 283.36 114.78 283.21 114.49C283.06 114.19 282.9 113.87 282.74 113.52C282.58 113.16 282.41 112.77 282.26 112.34C282.1 111.91 281.93 111.43 281.81 110.92C281.69 110.4 281.55 109.82 281.53 109.26C281.5 108.7 281.5 108.06 281.66 107.56C281.81 107.05 282.09 106.55 282.46 106.26C282.83 105.96 283.38 105.81 283.9 105.78C284.42 105.75 285.04 105.91 285.58 106.07C286.11 106.24 286.65 106.52 287.12 106.77C287.58 107.03 288 107.32 288.38 107.58C288.77 107.85 289.09 108.12 289.4 108.37C289.71 108.62 289.97 108.86 290.22 109.08C290.47 109.31 290.69 109.52 290.89 109.73C291.1 109.93 291.29 110.13 291.46 110.32C291.64 110.51 291.8 110.69 291.96 110.86C292.12 111.04 292.27 111.21 292.41 111.38C292.55 111.55 292.69 111.71 292.82 111.88C292.95 112.05 293.08 112.21 293.21 112.38C293.34 112.55 293.46 112.71 293.58 112.88C293.71 113.06 293.83 113.23 293.96 113.41C294.08 113.59 294.21 113.78 294.34 113.98C294.47 114.17 294.6 114.38 294.73 114.6C294.87 114.82 295 115.05 295.15 115.3C295.29 115.55 295.44 115.82 295.59 116.11C295.74 116.41 295.9 116.73 296.06 117.08C296.22 117.44 296.39 117.83 296.54 118.26C296.7 118.69 296.87 119.17 296.99 119.68C297.11 120.2 297.25 120.78 297.27 121.34C297.3 121.9 297.3 122.54 297.14 123.04C296.99 123.55 296.71 124.05 296.34 124.34C295.97 124.64 295.42 124.79 294.9 124.82C294.38 124.85 293.76 124.69 293.22 124.53C292.69 124.36 292.15 124.08 291.68 123.83C291.22 123.57 290.8 123.28 290.42 123.02C290.03 122.75 289.71 122.48 289.4 122.23C289.09 121.98 288.83 121.74 288.58 121.52C288.33 121.29 288.11 121.08 287.91 120.87C287.7 120.67 287.51 120.47 287.34 120.28C287.16 120.09 287 119.91 286.84 119.74C286.68 119.56 286.53 119.39 286.39 119.22C286.25 119.05 286.11 118.89 285.98 118.72C285.85 118.55 285.72 118.39 285.59 118.22C285.46 118.05 285.34 117.89 285.22 117.72C285.09 117.54 284.97 117.37 284.84 117.19C284.72 117.01 284.59 116.82 284.46 116.62C284.33 116.43 284.2 116.22 284.07 116C283.93 115.78 283.8 115.55 283.65 115.3Z"/>
<path d="M282.01 115.3C281.81 114.97 281.61 114.63 281.39 114.25C281.17 113.86 280.93 113.44 280.69 112.97C280.46 112.49 280.19 111.97 279.98 111.4C279.77 110.83 279.55 110.19 279.45 109.55C279.34 108.92 279.27 108.21 279.33 107.58C279.4 106.94 279.56 106.27 279.85 105.75C280.14 105.23 280.57 104.75 281.08 104.46C281.59 104.17 282.26 104.04 282.89 104.02C283.52 104 284.23 104.17 284.86 104.34C285.49 104.52 286.11 104.8 286.66 105.06C287.21 105.32 287.7 105.62 288.16 105.9C288.62 106.17 289.02 106.45 289.4 106.72C289.78 106.98 290.11 107.24 290.43 107.48C290.75 107.73 291.03 107.96 291.3 108.19C291.58 108.42 291.83 108.64 292.07 108.86C292.31 109.08 292.53 109.29 292.75 109.5C292.97 109.71 293.17 109.91 293.37 110.12C293.58 110.33 293.77 110.53 293.96 110.74C294.15 110.95 294.33 111.16 294.51 111.38C294.69 111.6 294.87 111.82 295.04 112.04C295.21 112.27 295.38 112.51 295.55 112.75C295.72 113 295.89 113.25 296.06 113.52C296.22 113.78 296.39 114.06 296.55 114.36C296.71 114.66 296.88 114.97 297.03 115.3C297.19 115.63 297.35 115.98 297.5 116.37C297.65 116.75 297.8 117.15 297.94 117.59C298.09 118.03 298.23 118.5 298.36 119.01C298.49 119.53 298.63 120.08 298.71 120.68C298.8 121.27 298.89 121.93 298.88 122.57C298.86 123.21 298.82 123.93 298.62 124.52C298.43 125.11 298.11 125.71 297.7 126.11C297.28 126.52 296.7 126.8 296.13 126.96C295.56 127.12 294.89 127.11 294.27 127.06C293.66 127.01 293.02 126.85 292.44 126.65C291.86 126.45 291.3 126.17 290.79 125.86C290.28 125.56 289.82 125.17 289.4 124.81C288.98 124.45 288.62 124.05 288.29 123.7C287.96 123.35 287.68 123.01 287.42 122.7C287.15 122.39 286.92 122.11 286.69 121.84C286.47 121.56 286.27 121.31 286.07 121.07C285.87 120.82 285.69 120.59 285.51 120.36C285.34 120.14 285.17 119.92 285 119.7C284.84 119.48 284.68 119.26 284.52 119.05C284.36 118.83 284.2 118.62 284.04 118.39C283.88 118.17 283.73 117.95 283.57 117.72C283.41 117.48 283.25 117.25 283.08 116.99C282.91 116.74 282.75 116.48 282.57 116.2C282.39 115.92 282.21 115.63 282.01 115.3Z"/>
<path d="M280.34 115.3C280.09 114.9 279.82 114.48 279.53 114C279.25 113.52 278.92 113 278.61 112.41C278.3 111.82 277.93 111.15 277.67 110.44C277.41 109.73 277.14 108.93 277.04 108.17C276.95 107.4 276.95 106.58 277.11 105.87C277.27 105.16 277.58 104.45 278.01 103.91C278.44 103.37 279.04 102.91 279.68 102.63C280.32 102.35 281.12 102.25 281.86 102.24C282.6 102.23 283.41 102.4 284.13 102.58C284.86 102.77 285.56 103.05 286.19 103.32C286.82 103.59 287.4 103.89 287.94 104.18C288.47 104.46 288.95 104.76 289.4 105.04C289.85 105.32 290.26 105.59 290.64 105.86C291.03 106.12 291.38 106.38 291.72 106.63C292.06 106.89 292.38 107.13 292.68 107.38C292.99 107.63 293.27 107.87 293.55 108.11C293.83 108.35 294.1 108.59 294.36 108.84C294.62 109.09 294.87 109.33 295.11 109.59C295.36 109.84 295.6 110.1 295.83 110.36C296.07 110.63 296.29 110.9 296.52 111.19C296.74 111.48 296.96 111.77 297.17 112.08C297.39 112.39 297.6 112.71 297.8 113.05C298.01 113.39 298.21 113.74 298.4 114.12C298.59 114.49 298.78 114.88 298.96 115.3C299.13 115.72 299.29 116.16 299.44 116.62C299.59 117.09 299.73 117.58 299.86 118.1C299.99 118.63 300.11 119.18 300.21 119.78C300.31 120.37 300.41 121.01 300.46 121.69C300.51 122.36 300.56 123.1 300.51 123.82C300.45 124.54 300.36 125.34 300.12 126.02C299.89 126.71 299.54 127.4 299.08 127.91C298.62 128.43 298.01 128.84 297.39 129.13C296.76 129.42 296.04 129.58 295.34 129.64C294.65 129.71 293.91 129.68 293.21 129.53C292.52 129.38 291.81 129.11 291.17 128.76C290.54 128.41 289.93 127.9 289.4 127.43C288.87 126.96 288.42 126.4 288 125.92C287.59 125.45 287.24 124.98 286.92 124.57C286.59 124.15 286.31 123.77 286.04 123.42C285.77 123.06 285.52 122.74 285.29 122.42C285.05 122.11 284.84 121.82 284.62 121.53C284.41 121.24 284.21 120.97 284.01 120.69C283.81 120.42 283.62 120.16 283.42 119.89C283.23 119.62 283.04 119.35 282.85 119.08C282.66 118.81 282.47 118.54 282.27 118.25C282.08 117.97 281.88 117.68 281.68 117.37C281.47 117.06 281.26 116.75 281.04 116.4C280.82 116.06 280.59 115.7 280.34 115.3Z"/>
<path d="M278.94 115.3C278.64 114.84 278.33 114.36 277.98 113.8C277.64 113.24 277.24 112.64 276.87 111.94C276.5 111.25 276.04 110.46 275.74 109.64C275.43 108.82 275.12 107.87 275.04 107.01C274.96 106.14 275.01 105.21 275.25 104.44C275.49 103.67 275.93 102.93 276.47 102.37C277.02 101.82 277.75 101.38 278.51 101.11C279.26 100.83 280.16 100.75 281 100.75C281.83 100.75 282.72 100.93 283.52 101.11C284.32 101.3 285.1 101.59 285.8 101.86C286.5 102.14 287.15 102.45 287.75 102.74C288.35 103.04 288.89 103.34 289.4 103.63C289.91 103.92 290.38 104.21 290.82 104.5C291.27 104.78 291.68 105.05 292.07 105.33C292.47 105.6 292.84 105.87 293.19 106.14C293.55 106.41 293.89 106.68 294.22 106.95C294.55 107.22 294.87 107.49 295.18 107.77C295.49 108.05 295.79 108.33 296.08 108.62C296.37 108.91 296.66 109.21 296.94 109.52C297.22 109.83 297.49 110.14 297.75 110.48C298.02 110.81 298.28 111.16 298.53 111.52C298.78 111.88 299.02 112.26 299.26 112.66C299.5 113.06 299.73 113.47 299.95 113.91C300.16 114.35 300.37 114.81 300.56 115.3C300.75 115.79 300.92 116.3 301.07 116.84C301.22 117.37 301.35 117.93 301.46 118.53C301.57 119.13 301.67 119.75 301.75 120.42C301.83 121.08 301.9 121.79 301.92 122.53C301.94 123.27 301.96 124.07 301.87 124.87C301.78 125.66 301.65 126.52 301.38 127.28C301.11 128.04 300.73 128.81 300.23 129.42C299.74 130.03 299.1 130.55 298.43 130.95C297.77 131.35 297 131.63 296.23 131.8C295.47 131.96 294.65 132.04 293.86 131.94C293.07 131.83 292.23 131.56 291.49 131.18C290.75 130.79 290.02 130.18 289.4 129.62C288.78 129.05 288.24 128.36 287.76 127.78C287.27 127.2 286.88 126.63 286.5 126.12C286.12 125.62 285.8 125.17 285.49 124.74C285.18 124.31 284.9 123.93 284.64 123.55C284.37 123.18 284.12 122.84 283.88 122.5C283.63 122.16 283.4 121.84 283.18 121.52C282.95 121.21 282.73 120.9 282.51 120.59C282.29 120.28 282.07 119.97 281.85 119.66C281.63 119.34 281.42 119.03 281.19 118.7C280.97 118.37 280.74 118.04 280.5 117.68C280.26 117.33 280.02 116.97 279.76 116.57C279.5 116.17 279.23 115.76 278.94 115.3Z"/>
<path d="M277.7 115.3C277.37 114.78 277.01 114.25 276.62 113.62C276.22 112.99 275.76 112.31 275.33 111.53C274.9 110.75 274.38 109.86 274.03 108.93C273.69 108.01 273.34 106.94 273.27 105.98C273.19 105.03 273.3 104.01 273.6 103.18C273.91 102.35 274.47 101.59 275.12 101.02C275.76 100.45 276.62 100.02 277.47 99.76C278.33 99.49 279.32 99.42 280.24 99.43C281.16 99.44 282.12 99.63 282.99 99.82C283.86 100.01 284.69 100.3 285.46 100.58C286.22 100.86 286.92 101.17 287.58 101.48C288.24 101.78 288.83 102.09 289.4 102.39C289.97 102.7 290.48 103 290.98 103.3C291.48 103.59 291.94 103.89 292.38 104.18C292.82 104.47 293.24 104.76 293.65 105.05C294.05 105.34 294.44 105.63 294.81 105.93C295.19 106.22 295.55 106.52 295.9 106.83C296.26 107.13 296.6 107.44 296.93 107.77C297.27 108.09 297.59 108.42 297.91 108.77C298.23 109.11 298.54 109.47 298.84 109.85C299.15 110.22 299.44 110.61 299.72 111.02C300.01 111.44 300.28 111.86 300.55 112.31C300.81 112.76 301.07 113.23 301.31 113.73C301.55 114.23 301.78 114.75 301.98 115.3C302.18 115.85 302.35 116.42 302.5 117.02C302.65 117.63 302.77 118.25 302.87 118.91C302.98 119.57 303.06 120.25 303.11 120.98C303.17 121.71 303.22 122.47 303.21 123.27C303.2 124.08 303.19 124.94 303.07 125.79C302.95 126.64 302.79 127.56 302.49 128.39C302.18 129.21 301.77 130.05 301.25 130.75C300.73 131.44 300.07 132.06 299.36 132.55C298.66 133.04 297.84 133.45 297.02 133.7C296.2 133.95 295.3 134.12 294.43 134.06C293.55 133.99 292.61 133.73 291.77 133.31C290.93 132.9 290.11 132.2 289.4 131.55C288.69 130.9 288.09 130.09 287.54 129.42C287 128.74 286.55 128.08 286.13 127.5C285.71 126.91 285.35 126.39 285.01 125.9C284.66 125.41 284.36 124.98 284.06 124.55C283.76 124.13 283.49 123.74 283.22 123.36C282.95 122.98 282.69 122.62 282.44 122.26C282.19 121.9 281.95 121.56 281.7 121.21C281.46 120.86 281.22 120.52 280.97 120.16C280.73 119.81 280.49 119.46 280.24 119.1C279.99 118.73 279.73 118.36 279.47 117.96C279.2 117.57 278.93 117.16 278.64 116.72C278.34 116.27 278.04 115.82 277.7 115.3Z"/>
<path d="M276.42 115.3C276.04 114.73 275.64 114.13 275.19 113.43C274.74 112.73 274.22 111.97 273.73 111.1C273.24 110.23 272.64 109.23 272.25 108.2C271.86 107.17 271.48 105.97 271.42 104.92C271.36 103.86 271.51 102.75 271.89 101.86C272.27 100.98 272.95 100.19 273.7 99.6C274.45 99.02 275.44 98.61 276.39 98.35C277.35 98.09 278.44 98.04 279.44 98.06C280.45 98.08 281.48 98.27 282.43 98.46C283.37 98.66 284.27 98.96 285.1 99.24C285.93 99.52 286.69 99.84 287.41 100.15C288.12 100.46 288.78 100.78 289.4 101.1C290.02 101.41 290.6 101.73 291.15 102.04C291.7 102.35 292.21 102.66 292.7 102.98C293.2 103.29 293.66 103.6 294.12 103.91C294.57 104.22 295.01 104.54 295.43 104.86C295.85 105.18 296.26 105.5 296.66 105.84C297.06 106.18 297.44 106.52 297.82 106.88C298.2 107.23 298.57 107.6 298.93 107.99C299.29 108.37 299.64 108.77 299.98 109.19C300.32 109.61 300.65 110.05 300.97 110.51C301.29 110.97 301.6 111.45 301.89 111.95C302.19 112.46 302.48 112.99 302.74 113.54C303 114.1 303.25 114.69 303.46 115.3C303.67 115.91 303.85 116.55 304 117.22C304.15 117.89 304.26 118.58 304.35 119.31C304.44 120.03 304.5 120.78 304.54 121.57C304.57 122.36 304.59 123.19 304.56 124.05C304.52 124.92 304.48 125.84 304.32 126.75C304.17 127.67 303.98 128.65 303.64 129.54C303.31 130.44 302.87 131.35 302.32 132.13C301.77 132.92 301.07 133.63 300.33 134.23C299.58 134.82 298.73 135.35 297.85 135.69C296.96 136.03 295.98 136.3 295.02 136.27C294.06 136.25 293 136 292.07 135.54C291.13 135.09 290.19 134.3 289.4 133.57C288.61 132.83 287.92 131.9 287.32 131.13C286.71 130.36 286.22 129.6 285.75 128.93C285.28 128.26 284.89 127.68 284.5 127.12C284.12 126.56 283.79 126.07 283.46 125.59C283.13 125.12 282.83 124.68 282.53 124.25C282.23 123.83 281.95 123.43 281.67 123.03C281.4 122.63 281.13 122.24 280.86 121.85C280.59 121.47 280.33 121.09 280.06 120.69C279.79 120.3 279.52 119.92 279.24 119.51C278.96 119.1 278.68 118.69 278.39 118.25C278.09 117.81 277.79 117.36 277.46 116.87C277.13 116.38 276.79 115.87 276.42 115.3Z"/>
<path d="M275.18 115.3C274.76 114.67 274.32 114.02 273.82 113.25C273.32 112.48 272.74 111.65 272.19 110.69C271.65 109.73 270.97 108.62 270.54 107.49C270.12 106.36 269.69 105.04 269.64 103.89C269.59 102.75 269.8 101.54 270.25 100.6C270.7 99.66 271.49 98.85 272.35 98.25C273.2 97.65 274.3 97.25 275.36 97C276.42 96.75 277.6 96.71 278.68 96.74C279.77 96.77 280.88 96.96 281.89 97.17C282.9 97.37 283.86 97.67 284.75 97.95C285.64 98.24 286.46 98.57 287.24 98.89C288.01 99.2 288.72 99.53 289.4 99.86C290.08 100.19 290.7 100.51 291.3 100.84C291.91 101.17 292.47 101.5 293.01 101.83C293.56 102.15 294.07 102.48 294.57 102.82C295.07 103.15 295.55 103.49 296.02 103.83C296.49 104.18 296.94 104.53 297.38 104.9C297.83 105.26 298.26 105.63 298.68 106.02C299.1 106.41 299.51 106.81 299.91 107.24C300.31 107.66 300.7 108.1 301.07 108.56C301.45 109.02 301.81 109.5 302.17 110.01C302.52 110.52 302.86 111.05 303.18 111.61C303.5 112.17 303.82 112.75 304.1 113.36C304.38 113.98 304.65 114.63 304.87 115.3C305.1 115.97 305.29 116.68 305.43 117.41C305.58 118.14 305.69 118.9 305.76 119.68C305.84 120.47 305.88 121.28 305.9 122.13C305.91 122.99 305.91 123.87 305.85 124.8C305.79 125.72 305.71 126.7 305.53 127.67C305.34 128.65 305.12 129.69 304.75 130.65C304.39 131.62 303.92 132.6 303.34 133.46C302.75 134.33 302.04 135.14 301.25 135.83C300.47 136.52 299.58 137.16 298.63 137.59C297.69 138.02 296.64 138.38 295.59 138.4C294.54 138.41 293.38 138.16 292.35 137.68C291.32 137.2 290.27 136.32 289.4 135.5C288.53 134.68 287.77 133.63 287.1 132.77C286.43 131.9 285.89 131.05 285.38 130.31C284.87 129.56 284.44 128.9 284.02 128.28C283.61 127.67 283.24 127.12 282.88 126.59C282.52 126.06 282.19 125.58 281.87 125.11C281.55 124.64 281.24 124.2 280.94 123.76C280.64 123.32 280.35 122.9 280.05 122.47C279.76 122.05 279.47 121.63 279.18 121.2C278.88 120.77 278.59 120.35 278.29 119.9C277.98 119.46 277.68 119.01 277.35 118.53C277.02 118.05 276.69 117.56 276.33 117.02C275.97 116.48 275.6 115.93 275.18 115.3Z"/>
<path d="M273.95 115.3C273.49 114.62 273 113.91 272.45 113.07C271.9 112.23 271.26 111.33 270.66 110.28C270.05 109.23 269.3 108.02 268.84 106.78C268.37 105.55 267.91 104.11 267.87 102.87C267.83 101.63 268.08 100.34 268.6 99.34C269.12 98.35 270.04 97.51 270.99 96.89C271.95 96.28 273.17 95.9 274.33 95.66C275.48 95.41 276.75 95.39 277.92 95.42C279.1 95.46 280.27 95.66 281.35 95.87C282.43 96.08 283.45 96.38 284.41 96.67C285.36 96.96 286.24 97.29 287.07 97.62C287.9 97.94 288.67 98.28 289.4 98.62C290.13 98.96 290.81 99.3 291.46 99.64C292.11 99.98 292.73 100.33 293.32 100.67C293.91 101.02 294.47 101.37 295.02 101.73C295.57 102.08 296.1 102.44 296.61 102.81C297.12 103.18 297.62 103.56 298.11 103.95C298.59 104.35 299.07 104.75 299.53 105.17C299.99 105.59 300.45 106.03 300.88 106.49C301.32 106.95 301.75 107.43 302.16 107.93C302.58 108.44 302.98 108.96 303.36 109.52C303.74 110.07 304.12 110.65 304.47 111.26C304.82 111.87 305.16 112.51 305.47 113.18C305.77 113.86 306.06 114.56 306.29 115.3C306.52 116.04 306.72 116.81 306.87 117.6C307.02 118.39 307.11 119.21 307.18 120.06C307.24 120.91 307.27 121.79 307.26 122.7C307.25 123.61 307.23 124.56 307.14 125.54C307.05 126.52 306.94 127.56 306.73 128.6C306.51 129.63 306.25 130.73 305.86 131.76C305.46 132.79 304.97 133.85 304.36 134.79C303.74 135.74 303 136.65 302.18 137.43C301.36 138.22 300.42 138.98 299.42 139.49C298.42 140.01 297.29 140.46 296.16 140.52C295.02 140.57 293.75 140.33 292.63 139.82C291.5 139.3 290.36 138.33 289.4 137.43C288.44 136.53 287.62 135.37 286.88 134.41C286.15 133.45 285.57 132.51 285.01 131.68C284.45 130.85 283.99 130.13 283.54 129.45C283.09 128.77 282.69 128.17 282.3 127.59C281.92 127.01 281.56 126.49 281.21 125.97C280.86 125.45 280.53 124.97 280.21 124.49C279.88 124.01 279.56 123.56 279.25 123.09C278.93 122.63 278.62 122.18 278.3 121.71C277.98 121.24 277.66 120.78 277.33 120.3C277 119.82 276.67 119.33 276.31 118.81C275.96 118.28 275.6 117.75 275.21 117.17C274.81 116.58 274.41 115.98 273.95 115.3Z"/>
<path d="M272.58 115.3C272.07 114.56 271.54 113.78 270.93 112.87C270.33 111.96 269.62 110.97 268.95 109.82C268.28 108.68 267.45 107.35 266.94 106C266.44 104.65 265.93 103.08 265.9 101.73C265.88 100.39 266.18 99 266.78 97.94C267.38 96.88 268.42 96.02 269.49 95.39C270.55 94.75 271.91 94.4 273.18 94.16C274.44 93.92 275.82 93.92 277.08 93.96C278.34 94.01 279.6 94.21 280.75 94.43C281.91 94.64 283 94.94 284.03 95.24C285.05 95.54 285.99 95.88 286.89 96.21C287.78 96.54 288.61 96.89 289.4 97.24C290.19 97.59 290.93 97.95 291.64 98.31C292.35 98.67 293.01 99.03 293.66 99.4C294.31 99.76 294.92 100.13 295.53 100.51C296.13 100.89 296.7 101.28 297.27 101.67C297.83 102.07 298.38 102.48 298.91 102.9C299.45 103.33 299.97 103.76 300.48 104.22C300.99 104.68 301.49 105.15 301.97 105.66C302.45 106.16 302.92 106.68 303.38 107.23C303.83 107.78 304.27 108.36 304.69 108.97C305.11 109.58 305.52 110.21 305.9 110.88C306.28 111.55 306.66 112.25 306.98 112.99C307.31 113.72 307.62 114.5 307.87 115.3C308.11 116.1 308.31 116.95 308.46 117.81C308.61 118.67 308.69 119.56 308.75 120.48C308.8 121.4 308.8 122.34 308.78 123.33C308.75 124.31 308.69 125.32 308.57 126.37C308.45 127.42 308.31 128.52 308.06 129.62C307.81 130.72 307.52 131.88 307.09 132.99C306.66 134.1 306.14 135.23 305.49 136.27C304.84 137.3 304.07 138.32 303.21 139.21C302.34 140.1 301.37 141 300.3 141.61C299.23 142.22 298.01 142.78 296.79 142.87C295.56 142.97 294.17 142.74 292.94 142.19C291.71 141.64 290.45 140.57 289.4 139.58C288.35 138.58 287.44 137.29 286.64 136.23C285.85 135.17 285.21 134.12 284.6 133.21C284 132.29 283.49 131.5 283 130.74C282.51 129.99 282.08 129.34 281.66 128.7C281.24 128.06 280.86 127.49 280.48 126.92C280.1 126.36 279.75 125.83 279.39 125.31C279.04 124.79 278.69 124.29 278.35 123.78C278 123.27 277.67 122.78 277.32 122.27C276.97 121.77 276.63 121.27 276.27 120.74C275.91 120.21 275.55 119.68 275.16 119.11C274.78 118.55 274.39 117.97 273.95 117.33C273.52 116.7 273.08 116.04 272.58 115.3Z"/>
<path d="M271.18 115.3C270.63 114.49 270.05 113.66 269.38 112.66C268.72 111.67 267.94 110.6 267.21 109.35C266.48 108.11 265.56 106.66 265.01 105.2C264.46 103.73 263.91 102.02 263.9 100.58C263.88 99.13 264.24 97.63 264.92 96.51C265.59 95.39 266.77 94.5 267.95 93.85C269.13 93.2 270.63 92.86 272.01 92.63C273.38 92.4 274.86 92.42 276.22 92.47C277.58 92.52 278.91 92.74 280.15 92.96C281.38 93.18 282.54 93.48 283.64 93.79C284.73 94.09 285.74 94.43 286.7 94.77C287.66 95.12 288.55 95.48 289.4 95.84C290.25 96.2 291.05 96.57 291.82 96.95C292.58 97.32 293.31 97.7 294.01 98.09C294.71 98.48 295.38 98.87 296.04 99.27C296.69 99.68 297.32 100.09 297.94 100.51C298.55 100.94 299.15 101.38 299.73 101.83C300.32 102.29 300.89 102.76 301.44 103.26C302 103.75 302.55 104.26 303.07 104.81C303.6 105.35 304.12 105.92 304.61 106.52C305.11 107.12 305.59 107.74 306.04 108.41C306.5 109.07 306.95 109.76 307.36 110.49C307.77 111.22 308.18 111.98 308.53 112.78C308.88 113.58 309.21 114.43 309.47 115.3C309.73 116.17 309.94 117.09 310.09 118.02C310.23 118.96 310.31 119.92 310.35 120.91C310.39 121.9 310.37 122.92 310.32 123.97C310.27 125.01 310.18 126.1 310.03 127.21C309.88 128.33 309.7 129.49 309.42 130.66C309.14 131.84 308.81 133.06 308.35 134.25C307.88 135.43 307.32 136.64 306.64 137.77C305.96 138.9 305.16 140.03 304.25 141.03C303.35 142.03 302.33 143.05 301.19 143.76C300.05 144.47 298.75 145.14 297.43 145.28C296.11 145.42 294.6 145.19 293.26 144.61C291.92 144.02 290.54 142.86 289.4 141.77C288.26 140.68 287.27 139.25 286.4 138.08C285.53 136.92 284.84 135.77 284.19 134.76C283.53 133.76 282.98 132.89 282.46 132.06C281.93 131.24 281.46 130.53 281.01 129.83C280.56 129.14 280.14 128.51 279.74 127.9C279.33 127.28 278.94 126.71 278.56 126.14C278.18 125.57 277.81 125.03 277.43 124.48C277.06 123.93 276.7 123.4 276.32 122.85C275.95 122.3 275.58 121.76 275.19 121.19C274.8 120.62 274.41 120.04 273.99 119.43C273.57 118.81 273.15 118.19 272.68 117.5C272.21 116.81 271.73 116.11 271.18 115.3Z"/>
<path d="M269.51 115.3C268.9 114.42 268.26 113.5 267.53 112.42C266.8 111.34 265.93 110.16 265.13 108.8C264.32 107.43 263.3 105.84 262.7 104.24C262.09 102.64 261.5 100.76 261.49 99.19C261.49 97.62 261.92 96 262.69 94.8C263.46 93.61 264.79 92.68 266.11 92.01C267.43 91.34 269.09 91.02 270.6 90.8C272.12 90.58 273.72 90.62 275.19 90.69C276.66 90.75 278.09 90.97 279.42 91.2C280.75 91.43 281.99 91.74 283.17 92.04C284.34 92.35 285.43 92.7 286.47 93.06C287.51 93.41 288.47 93.78 289.4 94.16C290.33 94.54 291.19 94.93 292.03 95.32C292.87 95.72 293.66 96.12 294.43 96.53C295.2 96.94 295.93 97.36 296.65 97.79C297.37 98.23 298.06 98.67 298.74 99.13C299.41 99.59 300.07 100.06 300.71 100.55C301.36 101.05 301.99 101.56 302.6 102.1C303.21 102.64 303.82 103.2 304.4 103.79C304.98 104.39 305.55 105.01 306.09 105.66C306.63 106.32 307.16 107.01 307.66 107.74C308.17 108.46 308.65 109.22 309.11 110.02C309.56 110.82 310 111.66 310.38 112.54C310.76 113.42 311.12 114.34 311.39 115.3C311.67 116.26 311.88 117.26 312.03 118.28C312.17 119.3 312.24 120.35 312.26 121.43C312.29 122.5 312.25 123.6 312.17 124.73C312.09 125.86 311.97 127.02 311.78 128.22C311.6 129.42 311.37 130.66 311.05 131.91C310.73 133.17 310.35 134.47 309.85 135.75C309.34 137.02 308.75 138.33 308.02 139.57C307.3 140.81 306.47 142.07 305.51 143.2C304.55 144.33 303.48 145.52 302.26 146.34C301.04 147.17 299.64 147.96 298.2 148.16C296.77 148.35 295.11 148.13 293.64 147.5C292.17 146.88 290.66 145.59 289.4 144.39C288.14 143.19 287.06 141.6 286.11 140.31C285.16 139.01 284.4 137.73 283.69 136.62C282.97 135.51 282.38 134.55 281.8 133.64C281.23 132.74 280.72 131.95 280.23 131.18C279.74 130.42 279.29 129.73 278.84 129.06C278.4 128.38 277.98 127.76 277.56 127.14C277.15 126.51 276.75 125.92 276.34 125.32C275.94 124.72 275.54 124.14 275.13 123.54C274.72 122.94 274.32 122.34 273.89 121.72C273.47 121.1 273.04 120.48 272.59 119.81C272.13 119.14 271.66 118.45 271.15 117.7C270.64 116.95 270.11 116.18 269.51 115.3Z"/>
<path d="M267.75 115.3C267.09 114.34 266.39 113.35 265.58 112.16C264.78 110.98 263.83 109.7 262.94 108.21C262.06 106.72 260.93 104.98 260.27 103.23C259.61 101.49 258.96 99.44 258.98 97.73C258.99 96.03 259.49 94.29 260.35 93.01C261.22 91.74 262.72 90.77 264.18 90.08C265.65 89.4 267.48 89.1 269.13 88.89C270.79 88.68 272.52 88.74 274.11 88.81C275.7 88.89 277.22 89.12 278.65 89.35C280.08 89.59 281.42 89.9 282.68 90.22C283.94 90.53 285.11 90.89 286.23 91.26C287.35 91.62 288.4 92 289.4 92.4C290.4 92.79 291.34 93.2 292.25 93.61C293.17 94.03 294.03 94.46 294.87 94.89C295.71 95.33 296.51 95.78 297.29 96.24C298.08 96.7 298.84 97.18 299.58 97.67C300.32 98.17 301.04 98.68 301.75 99.21C302.45 99.75 303.14 100.3 303.81 100.89C304.49 101.47 305.15 102.08 305.78 102.73C306.42 103.37 307.04 104.05 307.64 104.77C308.24 105.49 308.81 106.24 309.36 107.03C309.91 107.82 310.44 108.65 310.94 109.53C311.43 110.4 311.91 111.32 312.32 112.28C312.73 113.24 313.12 114.26 313.41 115.3C313.7 116.34 313.92 117.44 314.07 118.55C314.21 119.66 314.27 120.8 314.28 121.97C314.28 123.13 314.21 124.31 314.1 125.53C313.99 126.75 313.84 128 313.62 129.28C313.39 130.56 313.13 131.89 312.76 133.23C312.4 134.57 311.97 135.95 311.42 137.32C310.87 138.7 310.24 140.1 309.47 141.46C308.71 142.82 307.84 144.22 306.83 145.48C305.81 146.75 304.68 148.1 303.38 149.05C302.08 150 300.57 150.92 299.01 151.17C297.46 151.42 295.64 151.22 294.04 150.54C292.44 149.87 290.77 148.45 289.4 147.14C288.03 145.82 286.84 144.06 285.8 142.64C284.76 141.21 283.94 139.8 283.16 138.58C282.38 137.36 281.74 136.3 281.12 135.3C280.49 134.31 279.94 133.44 279.41 132.6C278.88 131.77 278.39 131.02 277.91 130.28C277.43 129.54 276.97 128.86 276.52 128.18C276.07 127.5 275.63 126.85 275.19 126.2C274.75 125.55 274.32 124.91 273.88 124.26C273.44 123.61 273 122.96 272.54 122.29C272.08 121.61 271.61 120.93 271.11 120.2C270.61 119.47 270.11 118.73 269.55 117.91C268.99 117.1 268.41 116.26 267.75 115.3Z"/>
<path d="M265.67 115.3C264.94 114.25 264.16 113.16 263.28 111.86C262.39 110.56 261.33 109.15 260.35 107.52C259.37 105.88 258.12 103.96 257.39 102.04C256.66 100.12 255.95 97.87 255.98 96.01C256.02 94.15 256.59 92.25 257.58 90.88C258.56 89.51 260.26 88.51 261.89 87.79C263.53 87.08 265.56 86.81 267.39 86.61C269.21 86.41 271.1 86.5 272.83 86.59C274.55 86.68 276.2 86.92 277.75 87.16C279.29 87.41 280.73 87.72 282.1 88.05C283.47 88.37 284.74 88.74 285.95 89.12C287.17 89.49 288.31 89.89 289.4 90.3C290.49 90.72 291.52 91.15 292.52 91.59C293.52 92.03 294.47 92.48 295.39 92.95C296.31 93.42 297.19 93.9 298.06 94.4C298.92 94.89 299.76 95.41 300.58 95.94C301.39 96.48 302.19 97.03 302.97 97.62C303.75 98.2 304.51 98.8 305.25 99.45C306 100.09 306.73 100.75 307.43 101.46C308.14 102.17 308.82 102.92 309.48 103.71C310.14 104.49 310.78 105.32 311.38 106.2C311.99 107.07 312.57 107.98 313.11 108.95C313.65 109.91 314.18 110.92 314.63 111.98C315.07 113.04 315.49 114.15 315.8 115.3C316.11 116.45 316.35 117.65 316.49 118.87C316.63 120.08 316.68 121.33 316.66 122.6C316.65 123.87 316.55 125.16 316.41 126.49C316.26 127.81 316.06 129.16 315.79 130.54C315.52 131.92 315.21 133.34 314.79 134.78C314.37 136.22 313.89 137.71 313.29 139.19C312.69 140.68 312.01 142.2 311.19 143.7C310.38 145.2 309.47 146.76 308.39 148.19C307.31 149.62 306.11 151.17 304.71 152.26C303.31 153.36 301.67 154.44 299.97 154.76C298.27 155.07 296.28 154.88 294.51 154.15C292.75 153.42 290.91 151.86 289.4 150.4C287.89 148.94 286.58 146.99 285.44 145.4C284.29 143.82 283.4 142.25 282.54 140.9C281.68 139.54 280.98 138.37 280.3 137.27C279.62 136.17 279.02 135.21 278.44 134.29C277.85 133.36 277.32 132.54 276.8 131.73C276.27 130.92 275.77 130.17 275.28 129.42C274.79 128.67 274.31 127.96 273.83 127.25C273.35 126.53 272.88 125.83 272.4 125.12C271.91 124.4 271.43 123.69 270.92 122.95C270.42 122.21 269.91 121.47 269.36 120.67C268.82 119.87 268.26 119.06 267.65 118.16C267.03 117.27 266.4 116.35 265.67 115.3Z"/>
<path d="M263.15 115.3C262.34 114.14 261.47 112.93 260.48 111.49C259.49 110.05 258.3 108.49 257.21 106.67C256.11 104.86 254.71 102.72 253.9 100.6C253.1 98.47 252.31 95.96 252.36 93.92C252.41 91.87 253.09 89.79 254.22 88.31C255.35 86.82 257.28 85.76 259.12 85.02C260.96 84.28 263.25 84.04 265.27 83.86C267.3 83.67 269.38 83.79 271.27 83.9C273.17 84.01 274.96 84.26 276.65 84.51C278.33 84.77 279.9 85.09 281.39 85.42C282.89 85.76 284.28 86.13 285.61 86.53C286.95 86.92 288.19 87.34 289.4 87.77C290.61 88.21 291.74 88.66 292.84 89.13C293.95 89.61 295 90.09 296.02 90.6C297.04 91.1 298.02 91.62 298.98 92.16C299.94 92.71 300.87 93.26 301.78 93.85C302.69 94.44 303.58 95.05 304.45 95.69C305.32 96.33 306.17 96.99 307 97.7C307.83 98.41 308.64 99.15 309.43 99.93C310.21 100.72 310.98 101.54 311.71 102.42C312.45 103.29 313.15 104.21 313.82 105.18C314.5 106.15 315.15 107.17 315.74 108.24C316.34 109.31 316.92 110.44 317.42 111.61C317.91 112.79 318.36 114.03 318.7 115.3C319.03 116.57 319.28 117.91 319.42 119.25C319.56 120.6 319.59 121.98 319.55 123.38C319.51 124.78 319.38 126.19 319.19 127.64C319 129.09 318.75 130.56 318.43 132.06C318.11 133.57 317.73 135.1 317.25 136.67C316.77 138.23 316.22 139.83 315.56 141.46C314.9 143.08 314.16 144.75 313.28 146.42C312.4 148.09 311.44 149.84 310.28 151.47C309.12 153.09 307.84 154.88 306.32 156.15C304.8 157.42 303.01 158.7 301.13 159.1C299.26 159.49 297.05 159.31 295.09 158.52C293.13 157.72 291.08 155.98 289.4 154.35C287.72 152.72 286.26 150.53 285 148.75C283.73 146.98 282.74 145.22 281.79 143.71C280.84 142.19 280.07 140.88 279.31 139.65C278.56 138.42 277.9 137.36 277.26 136.33C276.61 135.3 276.03 134.38 275.45 133.48C274.87 132.58 274.32 131.75 273.78 130.92C273.24 130.09 272.71 129.31 272.18 128.51C271.65 127.72 271.13 126.95 270.6 126.16C270.06 125.36 269.53 124.58 268.97 123.76C268.41 122.94 267.85 122.12 267.25 121.24C266.64 120.35 266.03 119.46 265.34 118.47C264.66 117.48 263.96 116.46 263.15 115.3Z"/>
<path d="M260.08 115.3C259.16 114 258.19 112.65 257.08 111.04C255.96 109.44 254.62 107.68 253.38 105.65C252.15 103.61 250.56 101.22 249.66 98.84C248.75 96.46 247.87 93.65 247.95 91.37C248.03 89.09 248.83 86.79 250.13 85.17C251.43 83.55 253.65 82.43 255.75 81.65C257.84 80.87 260.43 80.67 262.7 80.5C264.97 80.33 267.28 80.5 269.38 80.63C271.48 80.76 273.45 81.02 275.31 81.28C277.17 81.55 278.89 81.88 280.54 82.23C282.19 82.57 283.72 82.96 285.2 83.37C286.67 83.78 288.06 84.23 289.4 84.69C290.74 85.15 292.01 85.64 293.24 86.15C294.47 86.65 295.64 87.18 296.79 87.73C297.93 88.28 299.03 88.85 300.11 89.45C301.19 90.04 302.23 90.65 303.25 91.3C304.28 91.95 305.27 92.62 306.25 93.34C307.23 94.05 308.19 94.79 309.12 95.58C310.05 96.37 310.97 97.19 311.86 98.07C312.74 98.95 313.6 99.87 314.43 100.85C315.25 101.83 316.05 102.86 316.8 103.95C317.55 105.04 318.28 106.18 318.95 107.38C319.62 108.58 320.27 109.84 320.81 111.16C321.36 112.48 321.86 113.87 322.22 115.3C322.59 116.73 322.85 118.22 322.99 119.72C323.13 121.23 323.14 122.77 323.07 124.32C323 125.88 322.82 127.45 322.58 129.04C322.34 130.64 322.03 132.26 321.64 133.91C321.25 135.57 320.79 137.25 320.24 138.96C319.68 140.68 319.05 142.42 318.32 144.22C317.58 146.01 316.77 147.85 315.81 149.72C314.86 151.6 313.84 153.6 312.58 155.46C311.33 157.32 309.95 159.4 308.28 160.88C306.61 162.37 304.63 163.88 302.55 164.38C300.47 164.87 297.98 164.7 295.79 163.83C293.6 162.96 291.29 160.99 289.4 159.16C287.51 157.32 285.88 154.84 284.46 152.83C283.04 150.83 281.93 148.84 280.87 147.13C279.81 145.41 278.95 143.94 278.11 142.55C277.27 141.17 276.54 139.97 275.82 138.81C275.11 137.66 274.46 136.63 273.81 135.62C273.17 134.61 272.56 133.67 271.95 132.75C271.35 131.82 270.76 130.94 270.17 130.05C269.58 129.16 269 128.3 268.41 127.42C267.81 126.53 267.22 125.66 266.6 124.75C265.97 123.83 265.34 122.91 264.67 121.93C263.99 120.94 263.3 119.94 262.54 118.84C261.77 117.73 260.99 116.6 260.08 115.3Z"/>
<path d="M256.24 115.3C255.2 113.83 254.09 112.31 252.82 110.48C251.55 108.66 250.01 106.68 248.6 104.37C247.19 102.06 245.38 99.34 244.35 96.64C243.33 93.94 242.33 90.75 242.44 88.19C242.55 85.62 243.51 83.04 245.02 81.25C246.54 79.46 249.12 78.25 251.53 77.43C253.94 76.61 256.9 76.46 259.48 76.31C262.06 76.16 264.66 76.37 267.02 76.53C269.38 76.69 271.56 76.97 273.64 77.25C275.71 77.53 277.63 77.87 279.47 78.23C281.31 78.59 283.02 79 284.68 79.43C286.33 79.86 287.89 80.34 289.4 80.83C290.91 81.33 292.34 81.86 293.73 82.41C295.12 82.97 296.45 83.55 297.75 84.15C299.04 84.76 300.29 85.39 301.52 86.05C302.74 86.71 303.93 87.39 305.09 88.12C306.26 88.85 307.39 89.6 308.51 90.4C309.62 91.2 310.71 92.04 311.77 92.93C312.84 93.82 313.88 94.75 314.89 95.74C315.9 96.73 316.88 97.78 317.82 98.89C318.76 100 319.66 101.17 320.52 102.41C321.37 103.65 322.2 104.94 322.96 106.31C323.71 107.67 324.45 109.11 325.06 110.61C325.67 112.1 326.23 113.68 326.63 115.3C327.03 116.92 327.31 118.61 327.45 120.31C327.59 122.01 327.57 123.75 327.47 125.5C327.36 127.25 327.12 129.01 326.82 130.8C326.52 132.59 326.13 134.39 325.65 136.23C325.18 138.07 324.62 139.93 323.97 141.83C323.33 143.74 322.59 145.66 321.76 147.66C320.93 149.67 320.03 151.73 318.98 153.86C317.93 155.99 316.84 158.28 315.46 160.44C314.09 162.6 312.59 165.05 310.73 166.8C308.88 168.56 306.66 170.37 304.32 170.98C301.97 171.59 299.15 171.44 296.66 170.48C294.18 169.51 291.55 167.26 289.4 165.17C287.25 163.08 285.4 160.22 283.79 157.93C282.18 155.63 280.92 153.36 279.73 151.4C278.53 149.44 277.56 147.76 276.61 146.18C275.66 144.6 274.84 143.23 274.03 141.92C273.22 140.6 272.49 139.43 271.76 138.29C271.04 137.14 270.35 136.08 269.67 135.03C268.99 133.98 268.33 132.98 267.66 131.98C267 130.97 266.35 130 265.67 129C265 128 264.33 127.01 263.63 125.98C262.92 124.94 262.21 123.9 261.45 122.79C260.68 121.68 259.9 120.55 259.03 119.3C258.16 118.05 257.27 116.77 256.24 115.3Z"/>
<path d="M190.4 258C190.4 257.46 190.71 256.85 191.09 256.37C191.48 255.88 192.14 255.46 192.71 255.11C193.28 254.76 193.95 254.51 194.53 254.28C195.11 254.06 195.67 253.91 196.18 253.77C196.68 253.63 197.14 253.54 197.57 253.45C198 253.36 198.38 253.3 198.75 253.25C199.11 253.19 199.44 253.15 199.75 253.11C200.06 253.08 200.35 253.05 200.63 253.02C200.9 253 201.16 252.98 201.41 252.97C201.67 252.95 201.91 252.94 202.14 252.93C202.38 252.92 202.6 252.91 202.83 252.91C203.06 252.9 203.28 252.9 203.5 252.9C203.72 252.9 203.94 252.9 204.17 252.91C204.4 252.91 204.62 252.92 204.86 252.93C205.09 252.94 205.33 252.95 205.59 252.97C205.84 252.98 206.1 253 206.37 253.02C206.65 253.05 206.94 253.08 207.25 253.11C207.56 253.15 207.89 253.19 208.25 253.25C208.62 253.3 209 253.36 209.43 253.45C209.86 253.54 210.32 253.63 210.82 253.77C211.33 253.91 211.89 254.06 212.47 254.28C213.05 254.51 213.72 254.76 214.29 255.11C214.86 255.46 215.52 255.88 215.91 256.37C216.29 256.85 216.6 257.46 216.6 258C216.6 258.54 216.29 259.15 215.91 259.63C215.52 260.12 214.86 260.54 214.29 260.89C213.72 261.24 213.05 261.49 212.47 261.72C211.89 261.94 211.33 262.09 210.82 262.23C210.32 262.37 209.86 262.46 209.43 262.55C209 262.64 208.62 262.7 208.25 262.75C207.89 262.81 207.56 262.85 207.25 262.89C206.94 262.92 206.65 262.95 206.37 262.98C206.1 263 205.84 263.02 205.59 263.03C205.33 263.05 205.09 263.06 204.86 263.07C204.62 263.08 204.4 263.09 204.17 263.09C203.94 263.1 203.72 263.1 203.5 263.1C203.28 263.1 203.06 263.1 202.83 263.09C202.6 263.09 202.38 263.08 202.14 263.07C201.91 263.06 201.67 263.05 201.41 263.03C201.16 263.02 200.9 263 200.63 262.98C200.35 262.95 200.06 262.92 199.75 262.89C199.44 262.85 199.11 262.81 198.75 262.75C198.38 262.7 198 262.64 197.57 262.55C197.14 262.46 196.68 262.37 196.18 262.23C195.67 262.09 195.11 261.94 194.53 261.72C193.95 261.49 193.28 261.24 192.71 260.89C192.14 260.54 191.48 260.12 191.09 259.63C190.71 259.15 190.4 258.54 190.4 258Z"/>
<path d="M187.76 258C187.66 257.34 187.83 256.6 188.14 255.98C188.46 255.36 189.05 254.76 189.65 254.29C190.24 253.81 191.01 253.43 191.72 253.12C192.43 252.82 193.22 252.63 193.91 252.46C194.59 252.3 195.26 252.22 195.85 252.13C196.44 252.04 196.96 252 197.45 251.95C197.93 251.9 198.36 251.86 198.76 251.83C199.17 251.79 199.53 251.76 199.89 251.74C200.24 251.72 200.57 251.7 200.88 251.68C201.2 251.67 201.5 251.66 201.8 251.65C202.09 251.64 202.38 251.63 202.66 251.63C202.94 251.62 203.22 251.62 203.5 251.62C203.78 251.62 204.05 251.63 204.34 251.63C204.62 251.64 204.9 251.64 205.2 251.65C205.5 251.66 205.8 251.68 206.11 251.69C206.43 251.71 206.76 251.72 207.11 251.75C207.46 251.77 207.83 251.8 208.23 251.83C208.64 251.87 209.06 251.91 209.54 251.96C210.02 252.02 210.54 252.07 211.11 252.16C211.68 252.26 212.32 252.36 212.97 252.53C213.62 252.71 214.34 252.92 215.01 253.23C215.67 253.54 216.39 253.93 216.95 254.4C217.52 254.86 218.09 255.44 218.4 256.04C218.7 256.64 218.88 257.36 218.79 258C218.69 258.64 218.29 259.33 217.83 259.89C217.37 260.45 216.65 260.94 216.01 261.35C215.38 261.76 214.66 262.08 214.02 262.36C213.39 262.64 212.78 262.84 212.22 263.03C211.65 263.22 211.14 263.36 210.66 263.49C210.17 263.62 209.74 263.72 209.32 263.82C208.9 263.92 208.52 263.99 208.15 264.06C207.78 264.13 207.44 264.19 207.11 264.25C206.77 264.3 206.46 264.35 206.15 264.39C205.84 264.43 205.54 264.47 205.24 264.5C204.95 264.54 204.66 264.56 204.37 264.59C204.08 264.61 203.79 264.63 203.5 264.64C203.21 264.65 202.92 264.65 202.62 264.65C202.33 264.65 202.03 264.64 201.72 264.62C201.42 264.61 201.11 264.59 200.78 264.56C200.46 264.53 200.13 264.5 199.78 264.45C199.43 264.4 199.07 264.35 198.68 264.28C198.29 264.21 197.89 264.14 197.46 264.04C197.02 263.95 196.57 263.84 196.07 263.7C195.57 263.57 195.04 263.42 194.46 263.22C193.89 263.02 193.26 262.8 192.61 262.51C191.97 262.22 191.23 261.89 190.59 261.46C189.94 261.03 189.21 260.52 188.74 259.94C188.26 259.37 187.86 258.66 187.76 258Z"/>
<path d="M185.07 258C184.87 257.22 184.9 256.34 185.15 255.58C185.39 254.83 185.91 254.06 186.54 253.45C187.16 252.85 188.03 252.33 188.87 251.94C189.72 251.55 190.73 251.32 191.6 251.13C192.47 250.94 193.34 250.87 194.1 250.79C194.85 250.7 195.51 250.67 196.12 250.62C196.73 250.58 197.26 250.55 197.76 250.52C198.26 250.48 198.7 250.46 199.13 250.44C199.56 250.41 199.96 250.4 200.34 250.38C200.73 250.37 201.09 250.36 201.45 250.35C201.81 250.34 202.15 250.33 202.49 250.33C202.83 250.33 203.16 250.33 203.5 250.33C203.84 250.33 204.17 250.33 204.51 250.34C204.85 250.34 205.19 250.35 205.55 250.36C205.9 250.37 206.26 250.38 206.65 250.4C207.03 250.41 207.43 250.43 207.86 250.45C208.29 250.47 208.73 250.5 209.23 250.53C209.73 250.57 210.25 250.6 210.85 250.65C211.45 250.71 212.1 250.75 212.82 250.85C213.53 250.96 214.35 251.06 215.15 251.28C215.94 251.49 216.83 251.77 217.58 252.17C218.34 252.57 219.1 253.08 219.66 253.67C220.21 254.26 220.7 254.98 220.93 255.71C221.15 256.43 221.2 257.26 221.01 258C220.82 258.74 220.33 259.51 219.79 260.14C219.24 260.78 218.46 261.34 217.76 261.82C217.07 262.3 216.29 262.68 215.6 263.01C214.91 263.35 214.25 263.61 213.63 263.85C213.01 264.09 212.45 264.28 211.91 264.45C211.37 264.63 210.88 264.77 210.41 264.91C209.93 265.04 209.5 265.15 209.07 265.26C208.64 265.36 208.25 265.45 207.85 265.54C207.46 265.62 207.09 265.7 206.72 265.77C206.35 265.84 205.99 265.9 205.63 265.96C205.27 266.01 204.92 266.06 204.57 266.11C204.21 266.15 203.86 266.18 203.5 266.2C203.14 266.22 202.78 266.23 202.42 266.23C202.05 266.23 201.68 266.22 201.3 266.2C200.92 266.18 200.54 266.15 200.14 266.11C199.74 266.07 199.34 266.02 198.91 265.95C198.49 265.88 198.05 265.8 197.59 265.7C197.13 265.6 196.65 265.49 196.14 265.36C195.64 265.22 195.11 265.07 194.54 264.88C193.97 264.69 193.37 264.48 192.72 264.22C192.08 263.96 191.38 263.68 190.67 263.32C189.95 262.95 189.15 262.55 188.43 262.04C187.71 261.53 186.9 260.93 186.34 260.26C185.78 259.59 185.27 258.78 185.07 258Z"/>
<path d="M182.82 258C182.54 257.12 182.46 256.13 182.64 255.25C182.83 254.38 183.29 253.47 183.93 252.76C184.57 252.04 185.53 251.41 186.49 250.95C187.44 250.5 188.64 250.23 189.67 250.01C190.69 249.8 191.74 249.74 192.63 249.66C193.52 249.58 194.3 249.56 195.02 249.52C195.73 249.48 196.34 249.45 196.92 249.42C197.5 249.39 198.01 249.37 198.5 249.35C199 249.33 199.45 249.31 199.89 249.29C200.34 249.28 200.75 249.27 201.16 249.26C201.57 249.25 201.96 249.25 202.35 249.24C202.74 249.24 203.12 249.24 203.5 249.24C203.88 249.24 204.26 249.25 204.65 249.25C205.04 249.26 205.43 249.27 205.84 249.28C206.25 249.29 206.66 249.3 207.1 249.31C207.54 249.33 207.99 249.34 208.48 249.37C208.98 249.39 209.49 249.41 210.06 249.44C210.64 249.48 211.25 249.51 211.94 249.56C212.64 249.61 213.41 249.65 214.24 249.76C215.08 249.87 216.05 249.97 216.97 250.22C217.89 250.48 218.92 250.8 219.74 251.27C220.56 251.75 221.37 252.37 221.92 253.06C222.47 253.76 222.89 254.6 223.04 255.43C223.2 256.25 223.14 257.18 222.87 258C222.6 258.82 222.03 259.66 221.42 260.36C220.81 261.06 219.98 261.68 219.23 262.21C218.48 262.75 217.66 263.17 216.92 263.56C216.19 263.95 215.47 264.25 214.81 264.53C214.15 264.81 213.54 265.04 212.95 265.25C212.37 265.47 211.83 265.65 211.31 265.81C210.79 265.98 210.31 266.12 209.84 266.26C209.36 266.39 208.92 266.51 208.48 266.62C208.04 266.73 207.61 266.83 207.19 266.92C206.77 267.01 206.37 267.1 205.96 267.17C205.55 267.25 205.14 267.32 204.73 267.37C204.32 267.43 203.92 267.48 203.5 267.51C203.08 267.54 202.67 267.55 202.24 267.55C201.82 267.56 201.39 267.55 200.95 267.52C200.51 267.5 200.06 267.46 199.6 267.41C199.14 267.35 198.68 267.29 198.19 267.2C197.7 267.11 197.2 267.01 196.68 266.89C196.16 266.76 195.62 266.62 195.05 266.45C194.48 266.28 193.89 266.09 193.26 265.86C192.63 265.63 191.97 265.38 191.27 265.06C190.56 264.75 189.81 264.41 189.04 263.99C188.27 263.57 187.41 263.1 186.63 262.52C185.85 261.94 184.98 261.28 184.34 260.52C183.71 259.77 183.11 258.88 182.82 258Z"/>
<path d="M180.84 258C180.48 257.03 180.3 255.94 180.43 254.96C180.57 253.99 180.98 252.96 181.64 252.14C182.3 251.33 183.33 250.6 184.39 250.08C185.44 249.56 186.81 249.27 187.96 249.03C189.12 248.8 190.33 248.75 191.34 248.67C192.35 248.59 193.24 248.58 194.04 248.54C194.85 248.51 195.52 248.48 196.18 248.45C196.83 248.43 197.39 248.4 197.95 248.38C198.5 248.36 199 248.35 199.5 248.33C199.99 248.32 200.45 248.31 200.9 248.3C201.35 248.29 201.79 248.29 202.22 248.29C202.65 248.28 203.07 248.28 203.5 248.29C203.93 248.29 204.35 248.29 204.78 248.3C205.21 248.3 205.64 248.31 206.09 248.32C206.55 248.33 207 248.34 207.49 248.36C207.98 248.37 208.49 248.39 209.04 248.41C209.59 248.43 210.16 248.45 210.8 248.48C211.45 248.52 212.12 248.54 212.91 248.59C213.69 248.64 214.56 248.67 215.5 248.79C216.45 248.91 217.55 249.01 218.58 249.29C219.6 249.58 220.75 249.95 221.64 250.49C222.53 251.02 223.37 251.75 223.91 252.53C224.46 253.31 224.81 254.27 224.91 255.18C225.01 256.09 224.86 257.11 224.51 258C224.17 258.89 223.53 259.79 222.86 260.55C222.2 261.31 221.31 261.98 220.52 262.56C219.72 263.14 218.86 263.61 218.09 264.04C217.31 264.47 216.56 264.81 215.86 265.13C215.16 265.45 214.5 265.72 213.88 265.96C213.25 266.21 212.67 266.42 212.11 266.61C211.55 266.81 211.03 266.98 210.51 267.14C210 267.3 209.51 267.44 209.03 267.57C208.54 267.71 208.08 267.82 207.62 267.94C207.15 268.05 206.7 268.15 206.24 268.24C205.79 268.34 205.34 268.43 204.88 268.5C204.42 268.56 203.97 268.62 203.5 268.66C203.03 268.7 202.57 268.72 202.09 268.72C201.61 268.73 201.13 268.72 200.64 268.69C200.14 268.66 199.64 268.62 199.13 268.55C198.62 268.49 198.09 268.41 197.55 268.3C197.01 268.2 196.46 268.08 195.88 267.93C195.3 267.79 194.7 267.62 194.08 267.42C193.45 267.22 192.81 267 192.13 266.73C191.44 266.46 190.74 266.16 189.98 265.8C189.23 265.45 188.43 265.06 187.6 264.58C186.78 264.11 185.88 263.58 185.04 262.95C184.2 262.31 183.28 261.58 182.58 260.75C181.88 259.93 181.2 258.97 180.84 258Z"/>
<path d="M178.77 258C178.33 256.94 178.05 255.74 178.13 254.66C178.2 253.58 178.56 252.41 179.24 251.5C179.92 250.59 181.03 249.76 182.19 249.17C183.35 248.59 184.89 248.26 186.19 248C187.49 247.75 188.85 247.71 189.99 247.63C191.13 247.55 192.12 247.55 193.02 247.52C193.92 247.49 194.68 247.47 195.4 247.44C196.13 247.42 196.75 247.4 197.37 247.38C197.98 247.36 198.54 247.34 199.08 247.33C199.62 247.31 200.13 247.3 200.63 247.3C201.13 247.29 201.61 247.29 202.09 247.28C202.57 247.28 203.03 247.28 203.5 247.29C203.97 247.29 204.43 247.29 204.91 247.3C205.39 247.31 205.86 247.31 206.36 247.32C206.86 247.33 207.37 247.34 207.91 247.36C208.45 247.37 209 247.39 209.61 247.41C210.22 247.43 210.85 247.45 211.57 247.48C212.29 247.51 213.04 247.54 213.92 247.58C214.79 247.63 215.76 247.66 216.82 247.78C217.88 247.9 219.12 248.01 220.26 248.33C221.39 248.64 222.67 249.06 223.63 249.66C224.58 250.27 225.46 251.09 226 251.97C226.54 252.85 226.82 253.92 226.86 254.92C226.9 255.93 226.64 257.03 226.23 258C225.81 258.97 225.1 259.93 224.37 260.75C223.64 261.57 222.71 262.29 221.87 262.92C221.02 263.55 220.12 264.07 219.3 264.55C218.48 265.02 217.69 265.4 216.95 265.76C216.2 266.12 215.51 266.42 214.84 266.7C214.17 266.98 213.55 267.22 212.95 267.45C212.35 267.68 211.78 267.88 211.22 268.06C210.66 268.25 210.13 268.41 209.6 268.57C209.07 268.73 208.56 268.86 208.06 269C207.55 269.13 207.05 269.25 206.54 269.36C206.04 269.48 205.54 269.58 205.04 269.67C204.53 269.75 204.02 269.82 203.5 269.87C202.98 269.91 202.46 269.94 201.93 269.94C201.4 269.95 200.86 269.94 200.31 269.9C199.76 269.87 199.21 269.82 198.63 269.75C198.06 269.67 197.48 269.58 196.88 269.46C196.29 269.34 195.68 269.2 195.04 269.03C194.4 268.86 193.75 268.66 193.07 268.43C192.39 268.2 191.69 267.94 190.95 267.63C190.21 267.32 189.45 266.98 188.64 266.58C187.83 266.18 186.98 265.74 186.1 265.21C185.23 264.67 184.27 264.09 183.38 263.39C182.48 262.69 181.5 261.9 180.74 261C179.97 260.1 179.2 259.06 178.77 258Z"/>
<path d="M176.79 258C176.28 256.86 175.89 255.55 175.92 254.37C175.94 253.18 176.25 251.9 176.94 250.88C177.64 249.87 178.83 248.95 180.09 248.3C181.34 247.66 183.05 247.3 184.48 247.02C185.92 246.74 187.44 246.72 188.7 246.64C189.96 246.56 191.05 246.57 192.05 246.55C193.04 246.52 193.86 246.5 194.66 246.48C195.45 246.46 196.14 246.44 196.81 246.42C197.48 246.4 198.09 246.38 198.68 246.37C199.28 246.35 199.83 246.34 200.37 246.34C200.92 246.33 201.44 246.33 201.96 246.33C202.48 246.32 202.99 246.33 203.5 246.33C204.01 246.33 204.52 246.34 205.03 246.34C205.55 246.35 206.07 246.36 206.62 246.37C207.16 246.38 207.71 246.39 208.3 246.4C208.9 246.42 209.5 246.43 210.17 246.45C210.83 246.47 211.52 246.49 212.31 246.52C213.09 246.55 213.92 246.57 214.88 246.62C215.84 246.67 216.92 246.68 218.08 246.81C219.24 246.94 220.62 247.05 221.86 247.4C223.11 247.74 224.51 248.2 225.53 248.88C226.55 249.55 227.46 250.47 227.99 251.44C228.53 252.4 228.75 253.58 228.73 254.68C228.71 255.77 228.36 256.96 227.87 258C227.38 259.04 226.6 260.06 225.81 260.94C225.02 261.82 224.05 262.59 223.16 263.27C222.27 263.95 221.33 264.51 220.47 265.03C219.61 265.55 218.77 265.97 217.99 266.37C217.21 266.76 216.47 267.1 215.76 267.41C215.06 267.72 214.39 267.99 213.75 268.25C213.11 268.51 212.5 268.73 211.9 268.94C211.3 269.16 210.72 269.34 210.15 269.52C209.58 269.7 209.03 269.86 208.48 270.01C207.92 270.17 207.38 270.31 206.83 270.44C206.28 270.56 205.74 270.69 205.18 270.79C204.63 270.88 204.07 270.96 203.5 271.02C202.93 271.07 202.36 271.1 201.77 271.11C201.19 271.12 200.6 271.1 200 271.07C199.4 271.03 198.79 270.97 198.16 270.89C197.54 270.81 196.9 270.7 196.25 270.56C195.59 270.43 194.93 270.27 194.24 270.07C193.54 269.88 192.84 269.66 192.1 269.4C191.36 269.14 190.61 268.85 189.82 268.5C189.03 268.15 188.21 267.77 187.36 267.32C186.5 266.87 185.6 266.38 184.67 265.8C183.74 265.22 182.74 264.58 181.79 263.82C180.84 263.06 179.8 262.2 178.97 261.23C178.14 260.26 177.29 259.14 176.79 258Z"/>
<path d="M174.8 258C174.22 256.77 173.73 255.37 173.71 254.08C173.68 252.79 173.94 251.38 174.65 250.27C175.36 249.16 176.63 248.14 177.98 247.43C179.34 246.72 181.21 246.33 182.78 246.04C184.35 245.74 186.02 245.73 187.41 245.65C188.79 245.57 189.98 245.59 191.07 245.57C192.16 245.55 193.05 245.53 193.92 245.51C194.78 245.49 195.53 245.47 196.26 245.45C196.98 245.44 197.64 245.42 198.28 245.41C198.93 245.39 199.53 245.38 200.12 245.38C200.71 245.37 201.27 245.37 201.84 245.37C202.4 245.37 202.95 245.37 203.5 245.37C204.05 245.38 204.6 245.38 205.16 245.39C205.72 245.39 206.28 245.4 206.87 245.41C207.46 245.42 208.06 245.43 208.7 245.45C209.34 245.46 209.99 245.48 210.72 245.5C211.44 245.52 212.19 245.54 213.04 245.56C213.9 245.59 214.8 245.61 215.85 245.65C216.9 245.7 218.07 245.71 219.34 245.85C220.61 245.98 222.12 246.09 223.47 246.47C224.82 246.84 226.34 247.35 227.43 248.09C228.52 248.83 229.46 249.84 229.99 250.9C230.52 251.96 230.67 253.25 230.59 254.43C230.51 255.62 230.07 256.88 229.51 258C228.95 259.12 228.1 260.19 227.25 261.13C226.41 262.06 225.39 262.88 224.45 263.61C223.51 264.34 222.54 264.95 221.63 265.51C220.73 266.07 219.86 266.53 219.03 266.97C218.21 267.4 217.43 267.77 216.69 268.12C215.94 268.46 215.24 268.77 214.55 269.05C213.87 269.34 213.22 269.59 212.57 269.83C211.93 270.06 211.32 270.28 210.7 270.48C210.09 270.68 209.49 270.86 208.9 271.03C208.3 271.2 207.71 271.36 207.12 271.51C206.53 271.65 205.93 271.79 205.33 271.91C204.73 272.02 204.12 272.11 203.5 272.17C202.88 272.23 202.26 272.27 201.62 272.28C200.98 272.29 200.34 272.27 199.69 272.23C199.03 272.19 198.37 272.13 197.69 272.03C197.01 271.94 196.32 271.82 195.61 271.67C194.9 271.51 194.18 271.34 193.43 271.12C192.69 270.9 191.92 270.66 191.13 270.37C190.34 270.08 189.53 269.75 188.69 269.37C187.84 268.98 186.98 268.56 186.07 268.06C185.16 267.57 184.21 267.03 183.23 266.4C182.25 265.76 181.2 265.07 180.2 264.24C179.19 263.42 178.1 262.5 177.21 261.46C176.31 260.42 175.39 259.23 174.8 258Z"/>
<path d="M172.6 258C171.93 256.67 171.33 255.16 171.25 253.75C171.17 252.35 171.36 250.8 172.1 249.59C172.83 248.37 174.18 247.24 175.65 246.46C177.11 245.69 179.17 245.26 180.89 244.94C182.61 244.63 184.45 244.63 185.97 244.55C187.49 244.47 188.8 244.5 189.99 244.49C191.17 244.47 192.15 244.46 193.09 244.44C194.04 244.42 194.85 244.4 195.64 244.39C196.43 244.37 197.14 244.35 197.84 244.34C198.54 244.33 199.19 244.32 199.83 244.31C200.47 244.3 201.09 244.3 201.7 244.3C202.31 244.3 202.9 244.31 203.5 244.31C204.1 244.31 204.69 244.32 205.3 244.33C205.91 244.33 206.52 244.34 207.16 244.35C207.8 244.36 208.44 244.37 209.14 244.39C209.83 244.4 210.55 244.41 211.33 244.43C212.12 244.45 212.93 244.47 213.86 244.5C214.79 244.52 215.77 244.54 216.92 244.58C218.06 244.63 219.35 244.63 220.74 244.77C222.13 244.91 223.79 245.03 225.26 245.44C226.73 245.84 228.39 246.4 229.54 247.21C230.7 248.02 231.69 249.15 232.21 250.31C232.73 251.47 232.81 252.88 232.67 254.16C232.52 255.44 231.97 256.8 231.33 258C230.7 259.2 229.76 260.34 228.85 261.34C227.95 262.34 226.87 263.21 225.88 264C224.9 264.78 223.88 265.44 222.93 266.05C221.98 266.65 221.06 267.16 220.19 267.64C219.32 268.11 218.5 268.52 217.71 268.9C216.92 269.29 216.17 269.62 215.44 269.94C214.71 270.26 214.01 270.54 213.33 270.81C212.64 271.07 211.98 271.31 211.31 271.54C210.65 271.76 210.01 271.96 209.36 272.16C208.72 272.35 208.08 272.53 207.44 272.7C206.79 272.87 206.15 273.02 205.49 273.15C204.84 273.28 204.17 273.38 203.5 273.45C202.83 273.52 202.14 273.56 201.45 273.57C200.76 273.58 200.06 273.57 199.34 273.52C198.63 273.48 197.9 273.41 197.16 273.31C196.42 273.2 195.67 273.07 194.9 272.9C194.13 272.72 193.35 272.52 192.54 272.28C191.73 272.04 190.91 271.77 190.06 271.44C189.21 271.12 188.34 270.75 187.43 270.33C186.53 269.9 185.61 269.43 184.64 268.89C183.68 268.34 182.67 267.75 181.64 267.06C180.6 266.36 179.5 265.61 178.43 264.72C177.36 263.83 176.22 262.84 175.24 261.72C174.27 260.6 173.27 259.33 172.6 258Z"/>
<path d="M170.35 258C169.6 256.57 168.89 254.94 168.74 253.42C168.6 251.91 168.74 250.21 169.5 248.89C170.25 247.56 171.68 246.32 173.26 245.47C174.84 244.63 177.08 244.17 178.96 243.83C180.83 243.49 182.85 243.5 184.51 243.42C186.16 243.35 187.59 243.39 188.88 243.38C190.17 243.37 191.23 243.36 192.25 243.34C193.28 243.33 194.15 243.31 195.01 243.3C195.87 243.28 196.64 243.26 197.39 243.25C198.15 243.24 198.85 243.23 199.54 243.22C200.23 243.22 200.89 243.22 201.55 243.22C202.21 243.22 202.85 243.22 203.5 243.22C204.15 243.23 204.78 243.24 205.44 243.24C206.1 243.25 206.76 243.26 207.45 243.27C208.14 243.28 208.84 243.29 209.59 243.3C210.34 243.32 211.11 243.33 211.96 243.35C212.81 243.37 213.69 243.39 214.7 243.41C215.71 243.43 216.77 243.44 218.01 243.49C219.26 243.53 220.66 243.53 222.17 243.67C223.68 243.82 225.49 243.94 227.08 244.39C228.67 244.83 230.47 245.43 231.7 246.32C232.93 247.21 233.95 248.44 234.47 249.7C234.98 250.96 235 252.5 234.78 253.88C234.57 255.26 233.91 256.72 233.19 258C232.48 259.28 231.46 260.49 230.49 261.55C229.51 262.62 228.39 263.55 227.35 264.39C226.31 265.23 225.24 265.94 224.25 266.59C223.25 267.25 222.29 267.8 221.38 268.32C220.46 268.84 219.59 269.29 218.76 269.71C217.92 270.13 217.13 270.5 216.35 270.85C215.57 271.2 214.83 271.51 214.09 271.81C213.36 272.1 212.65 272.37 211.94 272.62C211.23 272.87 210.54 273.09 209.84 273.31C209.15 273.53 208.46 273.73 207.76 273.92C207.07 274.1 206.37 274.28 205.66 274.42C204.95 274.56 204.23 274.68 203.5 274.76C202.77 274.84 202.03 274.88 201.28 274.9C200.52 274.91 199.76 274.89 198.99 274.84C198.21 274.8 197.42 274.72 196.62 274.6C195.82 274.49 195.01 274.34 194.18 274.15C193.35 273.96 192.5 273.74 191.63 273.47C190.76 273.2 189.87 272.9 188.96 272.54C188.05 272.18 187.12 271.78 186.15 271.31C185.19 270.84 184.21 270.32 183.19 269.73C182.16 269.13 181.1 268.48 180.01 267.73C178.92 266.98 177.75 266.16 176.63 265.2C175.5 264.24 174.29 263.18 173.24 261.98C172.2 260.78 171.1 259.43 170.35 258Z"/>
<path d="M167.67 258C166.82 256.46 165.96 254.69 165.75 253.03C165.54 251.37 165.61 249.51 166.38 248.05C167.16 246.6 168.7 245.22 170.41 244.29C172.12 243.37 174.59 242.87 176.65 242.5C178.71 242.13 180.94 242.15 182.75 242.08C184.57 242.01 186.14 242.06 187.56 242.06C188.97 242.05 190.13 242.04 191.25 242.03C192.37 242.02 193.32 242.01 194.26 241.99C195.19 241.98 196.03 241.96 196.85 241.95C197.67 241.94 198.44 241.93 199.19 241.92C199.95 241.92 200.66 241.92 201.38 241.92C202.1 241.92 202.79 241.92 203.5 241.93C204.21 241.93 204.9 241.94 205.61 241.95C206.33 241.96 207.04 241.96 207.79 241.97C208.55 241.98 209.31 242 210.12 242.01C210.94 242.02 211.78 242.03 212.71 242.05C213.64 242.07 214.59 242.09 215.69 242.11C216.8 242.13 217.96 242.14 219.32 242.18C220.68 242.22 222.22 242.21 223.88 242.36C225.53 242.52 227.53 242.65 229.26 243.13C230.99 243.61 232.96 244.28 234.28 245.25C235.6 246.23 236.67 247.59 237.17 248.98C237.68 250.36 237.61 252.04 237.31 253.55C237.02 255.05 236.23 256.62 235.42 258C234.61 259.38 233.5 260.67 232.44 261.81C231.39 262.95 230.2 263.95 229.1 264.86C227.99 265.77 226.88 266.53 225.83 267.25C224.78 267.96 223.76 268.57 222.79 269.14C221.82 269.71 220.9 270.2 220.01 270.67C219.11 271.13 218.27 271.54 217.43 271.93C216.6 272.32 215.8 272.67 215.01 273C214.22 273.33 213.45 273.63 212.68 273.91C211.92 274.19 211.17 274.44 210.41 274.69C209.66 274.93 208.91 275.16 208.15 275.37C207.4 275.58 206.64 275.78 205.86 275.94C205.09 276.1 204.3 276.23 203.5 276.32C202.7 276.41 201.89 276.46 201.07 276.48C200.24 276.49 199.41 276.48 198.56 276.42C197.72 276.37 196.86 276.28 195.98 276.15C195.11 276.02 194.22 275.86 193.31 275.64C192.41 275.43 191.49 275.19 190.54 274.89C189.6 274.59 188.63 274.25 187.65 273.85C186.66 273.45 185.66 273.01 184.62 272.49C183.59 271.97 182.54 271.39 181.45 270.73C180.35 270.07 179.23 269.36 178.06 268.54C176.9 267.71 175.67 266.82 174.47 265.78C173.27 264.74 171.99 263.59 170.85 262.3C169.72 261 168.52 259.54 167.67 258Z"/>
<path d="M164.85 258C163.89 256.33 162.89 254.42 162.61 252.62C162.32 250.81 162.32 248.77 163.12 247.18C163.92 245.59 165.57 244.07 167.42 243.05C169.27 242.04 171.98 241.5 174.23 241.1C176.48 240.7 178.93 240.74 180.92 240.67C182.91 240.6 184.62 240.67 186.17 240.67C187.71 240.67 188.98 240.67 190.19 240.66C191.41 240.65 192.45 240.64 193.47 240.62C194.48 240.61 195.39 240.59 196.29 240.58C197.18 240.57 198.01 240.56 198.83 240.56C199.65 240.55 200.42 240.55 201.2 240.55C201.98 240.56 202.74 240.56 203.5 240.57C204.26 240.57 205.02 240.58 205.79 240.59C206.57 240.6 207.34 240.61 208.16 240.62C208.97 240.63 209.8 240.64 210.69 240.65C211.58 240.66 212.48 240.68 213.49 240.69C214.5 240.71 215.54 240.72 216.74 240.74C217.94 240.76 219.21 240.77 220.69 240.81C222.18 240.85 223.86 240.82 225.67 240.99C227.48 241.16 229.66 241.28 231.55 241.81C233.43 242.33 235.57 243.06 236.98 244.13C238.39 245.2 239.51 246.71 240.01 248.22C240.51 249.73 240.34 251.57 239.97 253.2C239.59 254.83 238.67 256.52 237.75 258C236.84 259.48 235.63 260.86 234.49 262.08C233.36 263.31 232.1 264.38 230.93 265.35C229.77 266.33 228.59 267.16 227.48 267.93C226.37 268.71 225.3 269.37 224.28 270C223.25 270.62 222.27 271.16 221.32 271.67C220.37 272.19 219.46 272.64 218.57 273.07C217.68 273.5 216.82 273.89 215.97 274.26C215.12 274.62 214.29 274.95 213.47 275.26C212.64 275.58 211.83 275.86 211.01 276.13C210.19 276.4 209.39 276.66 208.56 276.89C207.74 277.13 206.92 277.35 206.07 277.53C205.23 277.71 204.37 277.86 203.5 277.96C202.63 278.06 201.75 278.12 200.85 278.14C199.95 278.16 199.04 278.14 198.12 278.08C197.2 278.02 196.26 277.92 195.31 277.78C194.35 277.64 193.39 277.45 192.41 277.22C191.42 276.98 190.42 276.71 189.4 276.38C188.38 276.04 187.33 275.67 186.27 275.23C185.21 274.79 184.12 274.29 183.02 273.72C181.91 273.14 180.79 272.51 179.62 271.79C178.45 271.06 177.26 270.28 176.02 269.38C174.79 268.48 173.49 267.51 172.21 266.38C170.93 265.26 169.57 264.03 168.34 262.63C167.11 261.23 165.8 259.67 164.85 258Z"/>
<path d="M161.5 258C160.42 256.18 159.25 254.1 158.87 252.12C158.5 250.15 158.41 247.9 159.24 246.14C160.07 244.38 161.85 242.7 163.87 241.58C165.89 240.47 168.87 239.87 171.35 239.44C173.83 239.01 176.54 239.07 178.73 239C180.93 238.93 182.82 239.01 184.52 239.02C186.22 239.03 187.61 239.03 188.94 239.03C190.28 239.02 191.42 239.01 192.53 239C193.64 238.99 194.64 238.97 195.61 238.96C196.59 238.95 197.5 238.94 198.39 238.94C199.29 238.93 200.14 238.93 200.99 238.94C201.84 238.94 202.66 238.94 203.5 238.95C204.34 238.96 205.16 238.97 206 238.97C206.85 238.98 207.7 238.99 208.59 239C209.48 239.01 210.38 239.02 211.36 239.04C212.33 239.05 213.32 239.06 214.43 239.07C215.53 239.09 216.67 239.1 217.99 239.12C219.3 239.14 220.69 239.14 222.32 239.18C223.96 239.22 225.81 239.18 227.8 239.36C229.79 239.53 232.2 239.66 234.26 240.24C236.33 240.81 238.67 241.62 240.19 242.8C241.71 243.98 242.89 245.65 243.38 247.31C243.87 248.98 243.6 251 243.12 252.78C242.65 254.56 241.56 256.4 240.53 258C239.49 259.6 238.16 261.08 236.93 262.4C235.69 263.72 234.36 264.88 233.11 265.94C231.87 266.99 230.63 267.9 229.45 268.75C228.27 269.59 227.13 270.33 226.04 271.01C224.94 271.7 223.9 272.3 222.88 272.87C221.86 273.44 220.88 273.95 219.92 274.42C218.96 274.9 218.04 275.34 217.12 275.75C216.2 276.15 215.3 276.52 214.4 276.88C213.5 277.23 212.61 277.54 211.72 277.85C210.83 278.15 209.95 278.44 209.05 278.71C208.15 278.97 207.25 279.22 206.32 279.42C205.4 279.62 204.46 279.8 203.5 279.91C202.54 280.03 201.57 280.09 200.59 280.11C199.6 280.13 198.61 280.11 197.59 280.04C196.58 279.98 195.55 279.87 194.51 279.71C193.46 279.55 192.41 279.34 191.33 279.08C190.25 278.82 189.16 278.51 188.04 278.14C186.93 277.77 185.79 277.36 184.64 276.86C183.48 276.37 182.31 275.82 181.11 275.18C179.91 274.54 178.7 273.84 177.45 273.04C176.2 272.24 174.92 271.38 173.6 270.39C172.28 269.4 170.9 268.33 169.52 267.1C168.15 265.88 166.7 264.54 165.36 263.02C164.02 261.5 162.58 259.82 161.5 258Z"/>
<path d="M157.44 258C156.21 256.01 154.84 253.72 154.36 251.53C153.87 249.34 153.68 246.84 154.55 244.88C155.42 242.93 157.35 241.04 159.57 239.8C161.79 238.56 165.12 237.9 167.87 237.43C170.62 236.96 173.65 237.04 176.09 236.97C178.53 236.9 180.64 237.01 182.52 237.02C184.41 237.04 185.95 237.05 187.43 237.05C188.9 237.05 190.16 237.04 191.39 237.03C192.62 237.02 193.72 237 194.8 236.99C195.88 236.99 196.88 236.98 197.87 236.97C198.85 236.97 199.79 236.97 200.73 236.98C201.67 236.98 202.58 236.99 203.5 236.99C204.42 237 205.33 237.01 206.26 237.02C207.2 237.03 208.13 237.04 209.11 237.05C210.1 237.06 211.09 237.07 212.16 237.08C213.24 237.09 214.33 237.11 215.56 237.12C216.78 237.13 218.03 237.14 219.49 237.16C220.95 237.17 222.48 237.17 224.3 237.2C226.11 237.24 228.17 237.19 230.37 237.38C232.58 237.57 235.27 237.71 237.55 238.34C239.84 238.98 242.43 239.88 244.08 241.19C245.73 242.5 246.99 244.37 247.46 246.22C247.94 248.07 247.53 250.32 246.94 252.28C246.34 254.24 245.06 256.25 243.88 258C242.7 259.75 241.23 261.35 239.88 262.79C238.52 264.23 237.1 265.48 235.75 266.64C234.41 267.8 233.09 268.8 231.83 269.73C230.57 270.67 229.35 271.48 228.17 272.24C227 273.01 225.87 273.68 224.76 274.32C223.66 274.95 222.61 275.52 221.56 276.06C220.52 276.6 219.51 277.09 218.5 277.55C217.49 278.01 216.51 278.43 215.52 278.82C214.54 279.22 213.56 279.58 212.58 279.93C211.6 280.27 210.63 280.6 209.64 280.9C208.64 281.2 207.64 281.48 206.62 281.71C205.6 281.94 204.56 282.14 203.5 282.27C202.44 282.4 201.37 282.47 200.27 282.5C199.18 282.52 198.08 282.5 196.96 282.42C195.83 282.35 194.69 282.23 193.54 282.05C192.38 281.87 191.21 281.64 190.02 281.34C188.83 281.05 187.63 280.7 186.4 280.28C185.17 279.87 183.92 279.4 182.66 278.84C181.39 278.29 180.11 277.67 178.8 276.95C177.49 276.24 176.18 275.45 174.82 274.56C173.47 273.66 172.09 272.7 170.66 271.6C169.24 270.51 167.76 269.33 166.27 267.98C164.79 266.62 163.22 265.16 161.75 263.5C160.28 261.83 158.68 259.99 157.44 258Z"/>
<path d="M152.51 258C151.09 255.79 149.47 253.25 148.86 250.81C148.24 248.36 147.92 245.55 148.83 243.35C149.75 241.16 151.87 239.03 154.33 237.63C156.8 236.24 160.54 235.5 163.63 234.98C166.72 234.46 170.13 234.56 172.87 234.5C175.62 234.44 177.98 234.57 180.1 234.6C182.21 234.62 183.93 234.64 185.58 234.65C187.23 234.65 188.64 234.64 190.01 234.64C191.38 234.63 192.61 234.61 193.81 234.6C195.01 234.6 196.12 234.59 197.23 234.59C198.33 234.58 199.37 234.59 200.42 234.59C201.46 234.6 202.47 234.6 203.5 234.61C204.53 234.62 205.53 234.63 206.58 234.64C207.62 234.65 208.66 234.66 209.75 234.67C210.85 234.68 211.95 234.69 213.15 234.7C214.35 234.71 215.57 234.73 216.93 234.74C218.29 234.75 219.7 234.76 221.32 234.77C222.95 234.78 224.67 234.77 226.7 234.8C228.73 234.83 231.04 234.77 233.51 234.97C235.99 235.18 239 235.32 241.55 236.03C244.1 236.74 247 237.75 248.81 239.23C250.63 240.71 251.97 242.82 252.43 244.89C252.89 246.96 252.33 249.48 251.58 251.67C250.84 253.85 249.32 256.07 247.97 258C246.61 259.93 244.96 261.68 243.46 263.26C241.96 264.85 240.42 266.22 238.97 267.5C237.51 268.78 236.1 269.9 234.73 270.94C233.36 271.98 232.05 272.89 230.77 273.74C229.49 274.6 228.26 275.36 227.06 276.08C225.86 276.8 224.7 277.44 223.55 278.05C222.41 278.67 221.3 279.22 220.19 279.75C219.08 280.27 217.99 280.75 216.89 281.2C215.8 281.65 214.72 282.06 213.63 282.46C212.54 282.85 211.46 283.23 210.35 283.57C209.24 283.91 208.13 284.24 206.99 284.5C205.85 284.76 204.68 284.99 203.5 285.14C202.32 285.29 201.11 285.37 199.89 285.4C198.67 285.43 197.43 285.41 196.18 285.32C194.92 285.24 193.65 285.1 192.36 284.9C191.07 284.69 189.76 284.43 188.44 284.09C187.11 283.76 185.77 283.36 184.4 282.89C183.04 282.41 181.65 281.88 180.25 281.25C178.84 280.62 177.43 279.92 175.99 279.11C174.55 278.3 173.11 277.41 171.63 276.4C170.14 275.4 168.64 274.31 167.09 273.08C165.53 271.86 163.93 270.54 162.31 269.04C160.69 267.53 158.99 265.91 157.36 264.07C155.72 262.24 153.93 260.21 152.51 258Z"/>
<path d="M146.34 258C144.69 255.52 142.75 252.66 141.98 249.9C141.2 247.14 140.72 243.93 141.69 241.44C142.66 238.94 145.01 236.51 147.79 234.92C150.56 233.34 154.82 232.51 158.33 231.92C161.84 231.34 165.73 231.48 168.85 231.41C171.97 231.35 174.66 231.52 177.06 231.56C179.46 231.6 181.4 231.63 183.27 231.64C185.14 231.65 186.73 231.65 188.28 231.64C189.83 231.64 191.21 231.62 192.57 231.61C193.93 231.61 195.18 231.6 196.43 231.6C197.67 231.6 198.85 231.6 200.03 231.61C201.2 231.62 202.34 231.63 203.5 231.64C204.66 231.65 205.79 231.66 206.97 231.67C208.14 231.68 209.31 231.69 210.55 231.7C211.78 231.71 213.03 231.72 214.38 231.73C215.73 231.74 217.11 231.75 218.65 231.76C220.19 231.77 221.77 231.78 223.62 231.78C225.46 231.79 227.4 231.77 229.7 231.8C232 231.83 234.62 231.74 237.43 231.96C240.24 232.19 243.67 232.34 246.55 233.14C249.44 233.94 252.72 235.1 254.73 236.78C256.74 238.46 258.19 240.87 258.64 243.23C259.08 245.58 258.32 248.44 257.39 250.91C256.46 253.37 254.65 255.84 253.07 258C251.5 260.16 249.63 262.09 247.95 263.85C246.27 265.62 244.59 267.15 242.99 268.58C241.39 270.01 239.85 271.26 238.35 272.44C236.86 273.61 235.42 274.64 234.02 275.62C232.61 276.59 231.26 277.46 229.93 278.28C228.6 279.1 227.32 279.84 226.05 280.55C224.77 281.25 223.53 281.89 222.29 282.49C221.05 283.09 219.83 283.64 218.61 284.16C217.38 284.69 216.17 285.16 214.94 285.62C213.71 286.07 212.49 286.51 211.24 286.9C210 287.3 208.74 287.68 207.45 287.99C206.16 288.29 204.84 288.55 203.5 288.73C202.16 288.9 200.8 289 199.41 289.03C198.03 289.07 196.63 289.04 195.21 288.94C193.79 288.85 192.34 288.69 190.88 288.46C189.42 288.22 187.95 287.91 186.45 287.53C184.96 287.14 183.44 286.69 181.9 286.14C180.37 285.6 178.81 284.99 177.23 284.27C175.66 283.54 174.08 282.73 172.48 281.81C170.87 280.88 169.27 279.86 167.63 278.71C165.99 277.56 164.33 276.32 162.62 274.93C160.91 273.54 159.16 272.05 157.36 270.36C155.57 268.67 153.7 266.86 151.87 264.8C150.03 262.74 147.99 260.48 146.34 258Z"/>
<path d="M340.67 0L341 1.39L341.7 3L342.16 4L343 5.85L343.56 7L344 8.05L344.79 10L345.12 11L345.86 13L346.32 14L347 15.5L347.71 17L348.18 18L349 19.8L349.57 21L350.02 22L350.93 24L351.4 25L352 26.35L352.74 28L353.2 29L353.98 31L354.29 32L354.92 34L355.31 35L356 36.65L356.54 38L357 39.05L357.81 41L358.33 42L359.12 43L360 43.57"/>
<path d="M40 37.73L41 36.47L41.72 35L42.2 34L43 32L43.32 31L44 29.05L44.41 28L45 26.42L45.46 25L46 23.65L46.72 22L47.18 21L47.92 19L48.25 18L49 16.16L49.49 15L50 13.89L50.66 12L51.02 11L51.78 9L52.21 8L53 6.38L54 5.31L55 4.84L57 4.57L59 4.54L61 4.53L63 4.52L65 4.51L67 4.5L69 4.49L71 4.48L73 4.47L75 4.46L77 4.45L79 4.44L81 4.43L83 4.42L85 4.41L87 4.4L89 4.39L91 4.39L93 4.38L95 4.36L97 4.21L98.13 4L100 3.57L102 3.44L104 3.43L106 3.43L108 3.43L110 3.42L112 3.42L114 3.43L116 3.44L118 3.46L120 3.48L122 3.5L124 3.52L126 3.53L128 3.54L130 3.54L132 3.55L134 3.56L136 3.57L138 3.58L140 3.54L142 3.22L143 2.98L145 2.66L147 2.62L149 2.62L151 2.62L153 2.61L155 2.61L157 2.61L159 2.61L161 2.61L163 2.61L165 2.61L167 2.61L169 2.62L171 2.62L173 2.63L175 2.63L177 2.64L179 2.64L181 2.65L183 2.65L185 2.47L187 2L188 1.78L190 1.64L192 1.63L194 1.62L196 1.62L198 1.62L200 1.62L202 1.62L204 1.62L206 1.62L208 1.62L210 1.62L212 1.62L214 1.62L216 1.63L218 1.63L220 1.63L222 1.63L224 1.63L226 1.63L228 1.58L230 1.22L231 0.93L233 0.5L235 0.44L237 0.43L239 0.43L241 0.42L243 0.41L245 0.4L247 0.39L249 0.38L251 0.38L253 0.37L255 0.36L257 0.36L259 0.36L261 0.35L263 0.33L265 0.31L267 0.29L269 0.27L271 0.23L272.62 0"/>
<path d="M360 55.9L358.23 56L357 56.1L355 56.28L353 56.45L351 56.61L349 56.75L347 56.86L345 56.95L343.91 57L342 57.13L340 57.38L338 57.67L336 57.92L335 58.02L333 58.15L331 58.22L329 58.22L327 58.16L325 58.04L324 57.96L322 57.77L320 57.53L318 57.26L316.32 57L315 56.8L313 56.48L311 56.14L310 55.98L308 55.68L306 55.38L304 55.07L303 54.9L301 54.49L299 54.02L298 53.8L296 53.38L294 53.01L293 52.85L291 52.53L289 52.19L287.88 52L286 51.68L284 51.34L282.08 51L281 50.82L279 50.47L277 50.1L276 49.9L274 49.48L272 49.06L271 48.85L269 48.45L267 48.06L266 47.86L264 47.46L262 47.03L261 46.81L259 46.34L257.6 46L256 45.61L254 45.12L253 44.87L251 44.39L249.41 44L248 43.67L246 43.2L245 42.96L243 42.5L241 42.05L240 41.83L238 41.39L236.28 41L235 40.69L233 40.18L232 39.93L230 39.51L228 39.16L226.89 39L225 38.75L223 38.51L221 38.28L219 38.05L218 37.94L216 37.72L214 37.55L212 37.42L210 37.33L208 37.23L206 37.12L204 37.03L202.02 37L201.99 37L200 37.03L198 37.09L196 37.13L194 37.16L192 37.24L190 37.38L188 37.58L186 37.78L184 37.97L183 38.06L181 38.26L179 38.52L177 38.82L175.88 39L174 39.3L172 39.62L170 39.96L169 40.13L167 40.5L165 40.93L164 41.17L162 41.73L161 42.03L159 42.63L157.7 43L156 43.46L154 43.99L153 44.27L151 44.82L150 45.1L148 45.67L146.81 46L145 46.52L143.34 47L142 47.4L140 47.99L139 48.29L137 48.87L136 49.16L134 49.72L132.96 50L131 50.51L129.04 51L128 51.26L126 51.74L124.94 52L123 52.49L121.05 53L120 53.28L118 53.77L117 54L115 54.45L113 54.89L112 55.11L110 55.55L108 55.99L107 56.21L105 56.64L103.23 57L102 57.27L100 57.71L98.76 58L97 58.46L95.03 59L94 59.29L92 59.78L90.94 60L89 60.4L87 60.79L85.92 61L84 61.41L82 61.83L81 62.03L79 62.45L77 62.83L76 63.01L74 63.35L72 63.65L70 63.89L68.91 64L67 64.15L65 64.25L63 64.28L61 64.25L59 64.14L57.3 64L56 63.87L54 63.69L52 63.62L50 63.62L48 63.62L46 63.6L44 63.54L42 63.48L40 63.43"/>
<path d="M40 159.78L41 160.17L42.15 161L43.29 162L44.4 163L45.55 164L46.74 165L47.98 166L49 166.81L50 167.61L51 168.43L52 169.32L53 170.35L54 171.65L54.8 173L55.28 174L56 175.81L56.41 177L57 178.94L57.3 180L57.84 182L58.11 183L58.65 185L59 186.17L59.55 188L60 189.31L60.58 191L61 192.12L61.68 194L62.05 195L62.78 197L63.16 198L63.94 200L64.35 201L65 202.47L65.74 204L66.24 205L67 206.55L67.67 208L68.09 209L68.88 211L69.24 212L69.92 214L70.25 215L70.86 217L71.16 218L71.76 220L72.08 221L72.74 223L73.1 224L73.9 226L74.35 227L75 228.32L75.93 230L76.55 231L77.23 232L78 233.04L79 234.27L80 235.39L81 236.44L82 237.44L83 238.4L84 239.35L85 240.28L86 241.19L87 242.09L88.01 243L89.13 244L90.26 245L91.38 246L92.51 247L93.68 248L94.89 249L96 249.88L97 250.65L98 251.4L99 252.14L100.14 253L101.42 254L102.67 255L103.92 256L105 256.86L106 257.67L107 258.49L108 259.33L109 260.19L110 261.07L111.02 262L112.1 263L113.17 264L114.25 265L115.33 266L116.43 267L117.54 268L118.64 269L119.7 270L120.73 271L121.72 272L122.7 273L123.69 274L124.69 275L125.7 276L126.7 277L127.71 278L128.72 279L129.72 280L130.73 281L131.74 282L132.76 283L133.77 284L134.79 285L135.81 286L136.84 287L137.87 288L138.9 289L139.94 290L140.97 291L141.99 292L143 293L144 293.99L145 295L145.98 296L146.94 297L147.89 298L148.84 299L149.78 300L150.73 301L151.68 302L152.63 303L153.59 304L154.56 305L155.54 306L156.53 307L157.51 308L158.48 309L159.43 310L160.35 311L161.25 312L162.14 313L163.05 314L164 315.01L165 316.03L166 317.01L167.02 318L168 319.01L169 320.53L169 321.25L168 322.12L166 322.65L164.55 323L163 323.19L161 323.41L159 323.61L157 323.8L155 323.97L154 324.04L152 324.18L150 324.33L148 324.49L146 324.65L144 324.8L142 324.93L140.83 325L139 325.11L137 325.22L135 325.32L133 325.41L131 325.48L129 325.55L127 325.61L125 325.67L123 325.72L121 325.77L119 325.81L117 325.84L115 325.86L113 325.86L111 325.85L109 325.83L107 325.81L105 325.79L103 325.77L101 325.75L99 325.72L97 325.7L95 325.67L93 325.65L91 325.62L89 325.59L87 325.56L85 325.53L83 325.5L81 325.46L79 325.42L77 325.39L75 325.35L73 325.3L71 325.26L69 325.21L67 325.16L65 325.1L63 325.05L61.53 325L60 324.96L58 324.91L56 324.87L54 324.13L53.42 323L53.22 321L53.2 319L53.06 317L52.84 316L52.4 314L52.27 312L52.26 310L52.21 308L52 306.51L51.63 305L51.34 303L51.3 301L51.29 299L51.15 297L50.94 296L50.48 294L50.35 292L50.34 290L50.29 288L50 286.11L49.71 285L49.41 283L49.37 281L49.36 279L49.21 277L49 275.97L48.55 274L48.41 272L48.41 270L48.36 268L48.07 266L47.82 265L47.52 263L47.48 261L47.47 259L47.34 257L47 255.37L46.71 254L46.57 252L46.57 250L46.53 248L46.25 246L46 244.95L45.71 243L45.67 241L45.66 239L45.54 237L45.13 235L44.92 234L44.78 232L44.78 230L44.74 228L44.48 226L44.05 224L43.94 223L43.9 221L43.9 219L43.78 217L43.4 215L43.09 213L43.04 211L43.04 209L43 207.9L42.77 206L42.36 204L42.21 202L42.21 200L42.18 198L42 196.55L41.65 195L41.26 193L41.2 191L41.2 189L41 187.2L40.32 186L40 185.7"/>
<path d="M360 200.73L359.49 202L359.39 204L359.42 206L359.45 208L359.48 210L359.52 212L359.52 214L359.23 216L358.89 217L358.38 219L358.25 221L358.25 223L358.27 225L358.29 227L358.3 229L358.31 231L358.28 233L358 234.83L357.72 236L357.45 238L357.42 240L357.43 242L357.44 244L357.46 246L357.47 248L357.48 250L357.44 252L357.15 254L356.9 255L356.61 257L356.58 259L356.58 261L356.59 263L356.6 265L356.61 267L356.6 269L356.46 271L356.01 273L355.8 274L355.65 276L355.65 278L355.65 280L355.66 282L355.66 284L355.67 286L355.66 288L355.53 290L355.08 292L354.87 293L354.73 295L354.72 297L354.73 299L354.73 301L354.74 303L354.74 305L354.7 307L354.41 309L354 310.73L353.84 312L353.8 314L353.72 316L353 317.79L352 318.51L350 318.88L348 318.95L346.19 319L345 319.04L343 319.09L341 319.15L339 319.2L337 319.25L335 319.34L333 319.63L331.04 320L330 320.17L328 320.36L326 320.46L324 320.51L322 320.54L320 320.57L318 320.6L316 320.63L314 320.65L312 320.68L310 320.7L308 320.75L306 320.92L305 321.06L303 321.31L301 321.45L299 321.57L297 321.68L295 321.77L293 321.83L291 321.84L289 321.82L287 321.78L285 321.73L283 321.68L281 321.65L279 321.73L277 321.9L275 321.98L274 322.01L272 322.1L270 322.14L268 322.07L266.81 322L265 321.89L263 321.75L261 321.6L259 321.43L257 321.26L255 321.14L253 321.21L251 321.48L249 321.57L247 321.45L245 321.23L243.07 321L242 320.74L240 320.21L239 319.66L238.93 318L239.72 317L240.62 316L241.57 315L242.49 314L243.38 313L244.23 312L245.05 311L246 309.83L247 308.63L248 307.45L249 306.31L250 305.2L251 304.09L251.97 303L252.86 302L253.74 301L254.61 300L255.47 299L256.34 298L257.2 297L258.07 296L259 294.92L260 293.77L261 292.64L262 291.53L263 290.44L264 289.36L265 288.29L266 287.23L267 286.17L268 285.11L269 284.05L269.99 283L270.92 282L271.85 281L272.78 280L273.7 279L274.62 278L275.55 277L276.47 276L277.39 275L278.31 274L279.23 273L280.15 272L281.06 271L282 269.97L283 268.86L284 267.74L285 266.66L286 265.62L287 264.61L288 263.62L289 262.62L290 261.62L291 260.6L292 259.58L293 258.56L294 257.56L295 256.57L296 255.61L297 254.68L298 253.77L299 252.88L300 252L301.14 251L302.28 250L303.43 249L304.61 248L305.82 247L307 246.04L308 245.2L309 244.34L310 243.45L311 242.52L312 241.56L313 240.59L314 239.61L315 238.64L316 237.66L317 236.68L318 235.69L319 234.68L320 233.66L321 232.62L322 231.55L323 230.44L324 229.25L324.96 228L325.67 227L326.33 226L327 224.86L327.97 223L328.43 222L329 220.59L329.59 219L330 217.73L330.52 216L331 214.17L331.3 213L331.8 211L332.05 210L332.59 208L333 206.6L333.5 205L334 203.53L334.56 202L335 200.91L335.82 199L336.26 198L337 196.26L337.49 195L338 193.58L338.54 192L339 190.54L339.5 189L340 187.38L340.45 186L341 184.18L341.37 183L341.92 181L342.18 180L342.66 178L343 176.42L343.32 175L343.77 173L344 172L344.52 170L345 168.41L345.51 167L346 165.92L347 164.27L348 163.05L349 162.04L350 161.13L351 160.26L352 159.39L353 158.52L354 157.62L355 156.7L356 155.75L357 154.77L358 153.84L359.28 153L360 152.72"/>
<path d="M340.45 0L340.99 2L341.46 3L342 4.23L342.82 6L343.29 7L344 8.66L344.53 10L345 11.46L345.58 13L346.01 14L346.93 16L347.41 17L348 18.31L348.77 20L349.24 21L350 22.69L350.59 24L351.05 25L351.93 27L352.37 28L353 29.47L353.56 31L354 32.41L354.45 34L355 35.43L355.57 37L356 38L356.71 40L357.11 41L358 42.92L358.85 44L360 44.69"/>
<path d="M40 38.5L41 37.37L41.66 36L42.13 35L42.97 33L43.34 32L43.97 30L44.35 29L45 27.3L45.43 26L46 24.38L46.57 23L47.03 22L47.85 20L48.2 19L48.9 17L49.33 16L50 14.5L50.57 13L51 11.79L51.61 10L52.05 9L52.91 7L53.57 6L55 5.1L56 4.88L58 4.78L60 4.76L62 4.75L64 4.74L66 4.73L68 4.72L70 4.71L72 4.7L74 4.69L76 4.67L78 4.66L80 4.65L82 4.63L84 4.62L86 4.61L88 4.6L90 4.59L92 4.58L94 4.58L96 4.52L98 4.22L99.01 4L101 3.69L103 3.64L105 3.64L107 3.64L109 3.63L111 3.63L113 3.64L115 3.65L117 3.66L119 3.68L121 3.71L123 3.73L125 3.75L127 3.76L129 3.77L131 3.78L133 3.79L135 3.8L137 3.82L139 3.82L141 3.66L143 3.21L144.24 3L146 2.87L148 2.86L150 2.86L152 2.86L154 2.86L156 2.86L158 2.86L160 2.86L162 2.85L164 2.85L166 2.86L168 2.86L170 2.87L172 2.88L174 2.88L176 2.89L178 2.9L180 2.91L182 2.92L184 2.86L186 2.5L188 2.04L189 1.93L191 1.88L193 1.87L195 1.87L197 1.87L199 1.87L201 1.87L203 1.87L205 1.87L207 1.87L209 1.87L211 1.88L213 1.88L215 1.88L217 1.88L219 1.88L221 1.89L223 1.89L225 1.89L227 1.88L229 1.7L231 1.19L232 0.98L234 0.77L236 0.75L238 0.75L240 0.74L242 0.73L244 0.72L246 0.71L248 0.7L250 0.69L252 0.68L254 0.67L256 0.67L258 0.66L260 0.66L262 0.64L264 0.61L266 0.58L268 0.56L270 0.54L272 0.42L273.46 0"/>
<path d="M360 51.1L358 51.19L356 51.29L354 51.35L352 51.34L350 51.26L348 51.11L346.5 51L345 50.92L343.11 51L342 51.18L340 51.81L339 52.22L337.25 53L336 53.5L334.54 54L333 54.42L331 54.82L329.77 55L328 55.18L326 55.29L324 55.31L322 55.26L320 55.14L318.38 55L317 54.86L315 54.6L313 54.3L311.31 54L310 53.77L308 53.39L306.06 53L305 52.8L303 52.38L301.35 52L300 51.69L298 51.26L296.55 51L295 50.77L293 50.5L291 50.22L289.61 50L288 49.74L286 49.36L284.33 49L283 48.71L281 48.22L280 47.96L278 47.43L276.44 47L275 46.62L273 46.13L272 45.91L270 45.55L268 45.23L266.45 45L265 44.79L263 44.47L261 44.1L260 43.91L258 43.52L256 43.12L255 42.91L253 42.48L251 42.03L250 41.8L248 41.32L246.77 41L245 40.54L243.07 40L242 39.69L240 39.07L239 38.74L237 38.04L236 37.68L234.01 37L233 36.71L231 36.28L229 36.01L228 35.91L226 35.71L224 35.47L222 35.18L220.98 35L219 34.59L217 34.1L216 33.86L214 33.48L212 33.32L210 33.27L208 33.13L207 33L205 32.65L203 32.3L201 32.1L199 32.04L197 32.06L195 32.15L193 32.32L191 32.64L189.43 33L188 33.33L186 33.68L184 33.88L182.38 34L181 34.15L179 34.57L177.5 35L176 35.44L174 35.97L173 36.21L171 36.61L169 36.94L168 37.09L166 37.39L164 37.73L162.8 38L161 38.54L159.76 39L158 39.71L157 40.12L155 40.91L154 41.28L152 41.98L151 42.31L149 42.95L148 43.26L146 43.86L145 44.15L143 44.71L141.9 45L140 45.51L138.02 46L137 46.26L135 46.75L133.94 47L132 47.45L130 47.86L129 48.05L127 48.44L125 48.85L124 49.07L122 49.58L120.55 50L119 50.49L117.41 51L116 51.46L114.22 52L113 52.37L111 52.92L110 53.18L108 53.67L106.51 54L105 54.32L103 54.7L101.31 55L100 55.25L98 55.66L96.58 56L95 56.43L93 56.98L92 57.25L90 57.76L89 58.01L87 58.5L85 58.97L84 59.2L82 59.64L80.08 60L79 60.2L77 60.51L75 60.76L73 60.94L72 61.01L70 61.1L68 61.11L66 61.01L65 60.92L63 60.64L61 60.21L60 59.94L58 59.24L57 58.85L55 58.12L54 57.85L52 57.58L50 57.64L48 57.86L46.9 58L45 58.21L43 58.37L41 58.45L40 58.47"/>
<path d="M40 164.51L41.22 165L42.84 166L44 166.82L45 167.57L46 168.34L47 169.12L48.09 170L49.24 171L50.27 172L51.15 173L52 174.18L53 175.99L53.44 177L54 178.49L54.48 180L55 181.7L55.38 183L56 184.94L56.34 186L57 187.85L57.41 189L58 190.51L58.56 192L59 193.09L59.7 195L60.08 196L60.78 198L61.13 199L61.82 201L62.18 202L62.94 204L63.33 205L64 206.63L64.55 208L65 209.11L65.73 211L66.11 212L66.86 214L67.22 215L67.94 217L68.29 218L69 219.98L69.36 221L70 222.72L70.48 224L71 225.27L71.74 227L72.2 228L73 229.61L73.75 231L74.33 232L75 233.05L76 234.51L77 235.84L77.93 237L78.77 238L79.66 239L80.6 240L81.58 241L82.61 242L83.68 243L84.79 244L85.92 245L87 245.93L88 246.79L89 247.65L90 248.5L91 249.37L92 250.24L93 251.1L94.05 252L95.25 253L96.44 254L97.62 255L98.79 256L99.96 257L101 257.86L102 258.66L103 259.44L104 260.2L105.04 261L106.35 262L107.63 263L108.89 264L110 264.91L111 265.74L112 266.59L113 267.45L114 268.32L115 269.22L116 270.13L117 271.07L118 272.03L119 273.01L120 274L121.03 275L122.08 276L123.15 277L124.24 278L125.33 279L126.43 280L127.53 281L128.63 282L129.73 283L130.85 284L131.97 285L133 285.91L134 286.8L135 287.68L136 288.58L137 289.48L138 290.4L139 291.33L140 292.27L141 293.24L142 294.24L143 295.27L144 296.34L145 297.46L146 298.64L147 299.87L147.9 301L148.67 302L149.43 303L150.18 304L151 305.09L152 306.38L153 307.63L154 308.82L155 309.97L155.89 311L156.75 312L157.6 313L158.44 314L159.32 315L160.26 316L161.23 317L162.22 318L163.16 319L164 320.15L164 321.28L163 322.07L161 322.57L159.14 323L158 323.13L156 323.33L154 323.53L152 323.73L150 323.95L149 324.06L147 324.25L145 324.43L143 324.59L141 324.73L139 324.86L137 324.96L136 325.01L134 325.12L132 325.21L130 325.3L128 325.37L126 325.44L124 325.51L122 325.57L120 325.62L118 325.66L116 325.69L114 325.7L112 325.7L110 325.68L108 325.66L106 325.63L104 325.61L102 325.58L100 325.55L98 325.52L96 325.5L94 325.47L92 325.43L90 325.4L88 325.37L86 325.33L84 325.29L82 325.25L80 325.21L78 325.17L76 325.12L74 325.07L72 325.02L71 325L69 324.95L67 324.9L65 324.85L63 324.79L61 324.73L59 324.67L57 324.62L55 324.36L54 323.51L53.56 322L53.49 320L53.45 318L53.16 316L52.9 315L52.6 313L52.55 311L52.54 309L52.4 307L52 305.2L51.75 304L51.6 302L51.6 300L51.55 298L51.26 296L51 294.98L50.69 293L50.65 291L50.64 289L50.5 287L50.05 285L49.84 284L49.69 282L49.68 280L49.63 278L49.34 276L49 274.6L48.77 273L48.72 271L48.72 269L48.59 267L48.17 265L47.95 264L47.81 262L47.81 260L47.77 258L47.5 256L47.06 254L46.95 253L46.91 251L46.9 249L46.79 247L46.39 245L46.08 243L46.03 241L46.02 239L45.99 238L45.74 236L45.33 234L45.18 232L45.18 230L45.15 228L45 226.72L44.68 225L44.38 223L44.34 221L44.34 219L44.23 217L44 215.79L43.66 214L43.52 212L43.53 210L43.51 208L43.27 206L43 204.86L42.75 203L42.72 201L42.73 199L42.65 197L42.27 195L42 193.77L41.87 192L41.88 190L41.85 188L41.46 186L40.77 185L40 184.41"/>
<path d="M360 199.56L359 200.85L358.77 202L358.72 204L358.75 206L358.78 208L358.81 210L358.84 212L358.85 214L358.65 216L358.14 218L357.96 219L357.84 221L357.85 223L357.87 225L357.89 227L357.91 229L357.93 231L357.89 233L357.58 235L357.19 237L357.08 239L357.08 241L357.1 243L357.11 245L357.13 247L357.14 249L357.14 251L357 253L356.8 254L356.38 256L356.26 258L356.26 260L356.27 262L356.28 264L356.29 266L356.29 268L356.25 270L356 271.69L355.67 273L355.38 275L355.34 277L355.34 279L355.35 281L355.35 283L355.36 285L355.36 287L355.32 289L355.01 291L354.76 292L354.46 294L354.42 296L354.43 298L354.44 300L354.44 302L354.45 304L354.44 306L354.3 308L354 309.4L353.65 311L353.52 313L353.5 315L353.15 317L352.28 318L351 318.48L349 318.66L347 318.72L345 318.78L343 318.84L341 318.89L339 318.94L337 318.99L336 319.02L334 319.2L332 319.61L330 319.92L329 320.02L327 320.18L325 320.26L323 320.31L321 320.34L319 320.38L317 320.41L315 320.44L313 320.47L311 320.5L309 320.54L307 320.64L305 320.87L303.75 321L302 321.16L300 321.31L298 321.44L296 321.55L294 321.64L292 321.68L290 321.67L288 321.63L286 321.58L284 321.52L282 321.46L280 321.47L278 321.62L276 321.75L274 321.8L272 321.86L270 321.88L268 321.82L266 321.69L264 321.54L262 321.37L260 321.18L258.21 321L257 320.86L255 320.67L253 320.68L251 320.94L250 321.01L249 321L247 320.67L245 320.18L244 319.69L243.61 318L244.34 317L245.2 316L246.11 315L247 314L248 312.82L249 311.56L250 310.26L250.98 309L251.77 308L252.56 307L253.34 306L254.09 305L255 303.75L256 302.31L256.89 301L257.57 300L258.27 299L259 297.98L260 296.61L261 295.29L262 294.04L262.87 293L263.74 292L264.64 291L265.57 290L266.53 289L267.5 288L268.49 287L269.5 286L270.51 285L271.54 284L272.57 283L273.6 282L274.62 281L275.64 280L276.65 279L277.66 278L278.66 277L279.66 276L280.66 275L281.66 274L282.65 273L283.62 272L284.58 271L285.51 270L286.43 269L287.36 268L288.32 267L289.3 266L290.31 265L291.34 264L292.38 263L293.45 262L294.54 261L295.65 260L296.79 259L297.95 258L299 257.11L300 256.27L301 255.44L302 254.59L303 253.73L304 252.84L305 251.92L306 250.98L307.05 250L308.12 249L309.21 248L310.29 247L311.35 246L312.41 245L313.47 244L314.54 243L315.6 242L316.67 241L317.73 240L318.77 239L319.79 238L320.78 237L321.73 236L322.65 235L323.53 234L324.37 233L325.16 232L326 230.89L327 229.47L327.95 228L328.56 227L329.11 226L330 224.24L330.58 223L331 221.99L331.79 220L332.15 219L332.83 217L333.15 216L333.77 214L334.08 213L334.68 211L335 209.95L335.62 208L336 206.8L336.6 205L337 203.8L337.63 202L338 200.93L338.69 199L339.03 198L339.69 196L340 194.96L340.6 193L341 191.59L341.5 190L342 188.33L342.45 187L343 185.3L343.46 184L344 182.29L344.43 181L345 179L345.29 178L345.81 176L346.05 175L346.56 173L347 171.43L347.48 170L348 168.71L348.92 167L349.62 166L350.46 165L351.44 164L352.52 163L353.67 162L354.84 161L356 160.02L357 159.21L358 158.45L359 157.77L360 157.35"/>
<path d="M340.22 0L340.77 2L341.21 3L342 4.75L342.58 6L343.02 7L343.89 9L344.27 10L344.92 12L345.31 13L346 14.6L346.64 16L347.1 17L348 18.97L348.45 20L349 21.2L349.79 23L350.24 24L351 25.73L351.53 27L352 28.04L352.78 30L353.14 31L353.65 33L354 34.12L354.55 36L355 37.21L355.45 39L356 40.91L356.14 42L356 43.96L355 44.37L353 44.43L351 44.41L349 44.41L347 44.47L345 44.65L343.13 45L342 45.32L340.33 46L339 46.69L338 47.3L336.92 48L335.4 49L334 49.84L333 50.39L331.7 51L330 51.65L328.87 52L327 52.44L325 52.74L323 52.91L321 52.99L319 52.97L317 52.87L315 52.68L313 52.4L311 52.05L310 51.85L308 51.43L306.2 51L305 50.72L303 50.22L302 49.96L300 49.51L298 49.14L297 48.99L295 48.76L293 48.54L291 48.28L289.24 48L288 47.78L286 47.36L284.55 47L283 46.59L281.07 46L280 45.66L278.09 45L277 44.62L275.18 44L274 43.64L272 43.15L271 42.96L269 42.69L267 42.48L265 42.28L263 42.04L262 41.9L260 41.6L258 41.3L256.08 41L255 40.81L253 40.4L251.25 40L250 39.7L248 39.18L247 38.9L245 38.32L244 38L242 37.3L241 36.92L239 36.05L238 35.58L236.83 35L235 34.11L234 33.71L232 33.18L230.67 33L229 32.87L227 32.75L225 32.55L223 32.24L221.85 32L220 31.51L218.46 31L217 30.46L215.7 30L214 29.56L212 29.43L210 29.43L208 29.22L206.97 29L205 28.39L203.83 28L202 27.48L200 27.16L198.07 27L197 26.99L196 27.05L194 27.31L192 27.76L191 28.07L189 28.83L188 29.21L186 29.77L184.36 30L183 30.08L181 30.21L179 30.69L178 31.08L176 31.93L175 32.32L173 32.99L172 33.27L170 33.71L168.18 34L167 34.15L165 34.37L163 34.65L161.57 35L160 35.6L159 36.09L157.36 37L156 37.74L155 38.25L153.42 39L152 39.61L151 40L149 40.73L148 41.07L146 41.71L145 42.02L143 42.6L141.5 43L140 43.38L138 43.82L137 44.03L135 44.43L133 44.82L131.99 45L130 45.33L128 45.63L126 45.92L125 46.09L123 46.52L121.34 47L120 47.47L118.61 48L117 48.65L116 49.04L114 49.81L113 50.16L111 50.83L110 51.13L108 51.69L106.68 52L105 52.37L103 52.74L101.31 53L100 53.22L98 53.56L96 53.96L95 54.22L93 54.79L92 55.09L90 55.68L88.89 56L87 56.54L85.19 57L84 57.29L82 57.72L80.39 58L79 58.21L77 58.44L75 58.57L73 58.61L71 58.55L69 58.38L67 58.05L66 57.82L64 57.2L63 56.81L61.27 56L60 55.31L59 54.72L57.78 54L56 53.01L55 52.54L53.53 52L52 51.61L50 51.34L48 51.25L46 51.28L44 51.38L42 51.48L40 51.55"/>
<path d="M40 39.3L41 38.38L41.67 37L42.1 36L42.94 34L43.36 33L43.98 31L44.31 30L45 28.14L45.43 27L46 25.17L46.45 24L47 22.72L47.74 21L48.13 20L48.78 18L49.17 17L50 15.08L50.45 14L51 12.5L51.47 11L52 9.67L52.68 8L53.16 7L54 5.89L56 5.11L58 5.01L59 5L61 4.98L63 4.97L65 4.96L67 4.95L69 4.93L71 4.92L73 4.91L75 4.9L77 4.88L79 4.87L81 4.85L83 4.84L85 4.82L87 4.81L89 4.8L91 4.79L93 4.78L95 4.76L97 4.6L99 4.18L100.13 4L102 3.86L104 3.85L106 3.84L108 3.84L110 3.84L112 3.84L114 3.85L116 3.87L118 3.89L120 3.91L122 3.94L124 3.97L126 3.98L128 3.99L129 4L131 4.01L133 4.02L135 4.04L137 4.05L139 4.06L140.21 4L142 3.68L144 3.24L146 3.1L148 3.09L150 3.09L152 3.09L154 3.09L156 3.09L158 3.09L160 3.09L162 3.09L164 3.09L166 3.1L168 3.11L170 3.11L172 3.12L174 3.13L176 3.14L178 3.15L180 3.16L182 3.17L184 3.13L185 2.99L187 2.47L189 2.16L191 2.11L193 2.11L195 2.11L197 2.11L199 2.11L201 2.11L203 2.12L205 2.11L207 2.11L209 2.12L211 2.12L213 2.13L215 2.13L217 2.13L219 2.13L221 2.13L223 2.14L225 2.14L227 2.14L228.69 2L230 1.71L232 1.22L234 1.06L236 1.05L238 1.04L240 1.04L242 1.03L244 1.02L246 1.01L248 1L249 1L251 0.98L253 0.98L255 0.97L257 0.97L259 0.96L261 0.95L263 0.92L265 0.89L267 0.86L269 0.83L271 0.79L273 0.48L274.11 0"/>
<path d="M43.61 172L44.19 172L46 172.98L47 173.85L48 174.88L48.91 176L49.57 177L50.14 178L51 179.96L51.36 181L51.97 183L52.25 184L52.8 186L53.09 187L53.71 189L54.05 190L54.8 192L55.2 193L56 194.93L56.43 196L57 197.38L57.61 199L58 200.01L58.71 202L59.08 203L59.8 205L60.18 206L60.94 208L61.33 209L62 210.68L62.52 212L63 213.18L63.74 215L64.14 216L64.94 218L65.33 219L66 220.68L66.51 222L67 223.22L67.72 225L68.14 226L69 227.97L69.47 229L70 230.09L70.99 232L71.54 233L72.14 234L73 235.36L74 236.81L74.88 238L75.66 239L76.48 240L77.34 241L78.26 242L79.24 243L80.29 244L81.4 245L82.56 246L83.74 247L84.95 248L86 248.86L87 249.69L88 250.53L89 251.38L90 252.25L91 253.15L92 254.07L93 255.01L94.05 256L95.13 257L96.24 258L97.38 259L98.57 260L99.82 261L101 261.9L102 262.63L103 263.35L104 264.06L105.32 265L106.71 266L108 266.96L109 267.74L110 268.54L111 269.34L112 270.17L113 271.01L114.15 272L115.28 273L116.38 274L117.47 275L118.56 276L119.67 277L120.8 278L121.96 279L123 279.87L124 280.71L125 281.54L126 282.37L127 283.19L128 284.01L129.22 285L130.45 286L131.68 287L132.92 288L134 288.87L135 289.69L136 290.54L137 291.4L138 292.3L139 293.22L140 294.17L141 295.17L142 296.23L143 297.37L144 298.59L145 299.93L145.75 301L146.4 302L147.02 303L148 304.69L148.75 306L149.31 307L150 308.22L151 309.83L151.81 311L152.56 312L153.33 313L154.11 314L155 315.15L156 316.42L157 317.63L158 318.79L158.99 320L159.39 321L158.42 322L157 322.34L155 322.8L154 323.01L152 323.24L150 323.49L148 323.76L146.27 324L145 324.13L143 324.31L141 324.48L139 324.62L137 324.74L135 324.85L133 324.94L131.63 325L130 325.08L128 325.17L126 325.25L124 325.32L122 325.39L120 325.45L118 325.5L116 325.53L114 325.54L112 325.53L110 325.51L108 325.49L106 325.46L104 325.43L102 325.4L100 325.37L98 325.34L96 325.3L94 325.27L92 325.23L90 325.2L88 325.16L86 325.12L84 325.07L82 325.03L80.86 325L79 324.96L77 324.92L75 324.88L73 324.83L71 324.78L69 324.72L67 324.67L65 324.61L63 324.54L61 324.48L59 324.4L57 324.34L55 324.01L54.1 323L53.85 322L53.78 320L53.74 318L53.47 316L53 314L52.89 313L52.84 311L52.83 309L52.7 307L52.28 305L52 303.55L51.9 302L51.89 300L51.86 298L51.58 296L51.13 294L51 293L50.95 291L50.94 289L50.82 287L50.39 285L50.05 283L50 282L49.99 280L49.95 278L49.68 276L49.23 274L49.06 272L49.05 270L49 268L48.92 267L48.52 265L48.2 263L48.15 261L48.15 259L48.02 257L47.85 256L47.45 254L47.29 252L47.29 250L47.26 248L47 246.11L46.78 245L46.48 243L46.44 241L46.44 239L46.34 237L46 235.35L45.75 234L45.61 232L45.61 230L45.59 228L45.37 226L45 224.41L44.83 223L44.8 221L44.8 219L44.73 217L44.39 215L44.05 213L44 211L44.02 209L44 207.95L43.84 206L43.51 204L43.36 202L43.38 200L43.38 198L43.2 196L42.99 195L42.75 193L42.74 191L42.77 189L42.72 187L42.3 185L41.89 184L41.24 182L41.33 180L41.56 178L41.81 176L42 174.85L42.52 173L43.61 172"/>
<path d="M360 198.42L359 199.2L358.24 201L358.12 203L358.14 205L358.18 207L358.22 209L358.25 211L358.28 213L358.24 215L358 216.56L357.64 218L357.41 220L357.4 222L357.42 224L357.45 226L357.47 228L357.49 230L357.5 232L357.37 234L357 235.91L356.8 237L356.69 239L356.7 241L356.72 243L356.74 245L356.76 247L356.77 249L356.78 251L356.63 253L356.22 255L356 256.62L355.93 258L355.93 260L355.95 262L355.96 264L355.97 266L355.98 268L355.92 270L355.58 272L355.16 274L355.03 276L355.03 278L355.04 280L355.04 282L355.05 284L355.06 286L355.05 288L355 289.14L354.68 291L354.26 293L354.13 295L354.13 297L354.14 299L354.15 301L354.16 303L354.16 305L354.11 307L354 308.02L353.54 310L353.27 312L353.24 314L353.13 316L352.78 317L351.59 318L350 318.33L348 318.43L346 318.5L344 318.57L342 318.63L340 318.68L338 318.74L336 318.8L334 318.96L333 319.15L331 319.58L329 319.82L327 319.96L326 320L324 320.07L322 320.11L320 320.15L318 320.19L316 320.23L314 320.26L312 320.29L310 320.33L308 320.39L306 320.57L304 320.82L302 320.96L301 321.02L299 321.18L297 321.32L295 321.43L293 321.5L291 321.52L289 321.48L287 321.43L285 321.37L283 321.3L281 321.25L279 321.32L277 321.49L275 321.56L273 321.61L271 321.66L269 321.62L267 321.5L265 321.34L263 321.16L261.46 321L260 320.8L258 320.52L256 320.26L254 320.08L252 320.08L250 320.05L249 319.7L248.41 318L249.13 317L250 315.9L251 314.59L252 313.2L252.85 312L253.56 311L254.27 310L255 308.93L256 307.34L256.75 306L257.27 305L258 303.57L258.77 302L259.3 301L260 299.74L261 298.05L261.66 297L262.34 296L263.08 295L264 293.83L265 292.65L266 291.54L267 290.48L268 289.47L269 288.49L270 287.54L271 286.61L272 285.71L273 284.82L274 283.94L275.06 283L276.17 282L277.3 281L278.43 280L279.54 279L280.64 278L281.74 277L282.82 276L283.9 275L284.95 274L285.98 273L286.99 272L287.98 271L288.98 270L289.98 269L291 268.01L292 267.06L293 266.14L294 265.23L295 264.34L296 263.46L297 262.62L298 261.8L299.01 261L300.29 260L301.58 259L302.84 258L304 257.06L305 256.21L306 255.34L307 254.42L308 253.47L309 252.49L310 251.49L311 250.47L312 249.44L313 248.4L314 247.4L315 246.44L316 245.51L317 244.6L318 243.69L319 242.79L320 241.88L321 240.96L322.03 240L323.06 239L324.05 238L325 236.99L326 235.83L327 234.58L328 233.25L328.89 232L329.56 231L330.19 230L331 228.62L331.87 227L332.38 226L333 224.65L333.72 223L334.12 222L334.89 220L335.26 219L335.96 217L336.31 216L336.99 214L337.33 213L338 211.05L338.37 210L339 208.21L339.44 207L340 205.39L340.49 204L341 202.5L341.51 201L342 199.5L342.49 198L343 196.31L343.41 195L344 193.08L344.36 192L345 190.1L345.4 189L346 187.33L346.48 186L347 184.46L347.45 183L348 181L348.25 180L348.72 178L349 176.75L349.43 175L350 173L350.37 172L351 170.58L351.93 169L352.67 168L353.55 167L354.62 166L356 165.02L357 164.78L358 165.38L358.75 167L359.05 168L359.73 170L360 170.85"/>
<path d="M340 0L340.21 1L340.97 3L341.44 4L342 5.26L342.78 7L343.23 8L344 9.96L344.34 11L345 12.92L345.44 14L346 15.23L346.79 17L347.24 18L348 19.7L348.55 21L349.02 22L349.86 24L350.28 25L351 26.68L351.5 28L352 29.15L352.59 31L353 32.53L353.22 34L353.51 36L353 37.99L352 38.08L350 38.08L348 38.39L346 38.86L345 39.13L343 39.75L342 40.11L340.01 41L339 41.56L338 42.19L336.89 43L335.67 44L334.49 45L333.27 46L332 46.96L331 47.64L330 48.24L328.55 49L327 49.64L325.9 50L324 50.46L322 50.8L320 50.99L319 51.04L317 51.04L316 50.99L314 50.82L312 50.53L310 50.15L309 49.92L307 49.43L305.44 49L304 48.61L302 48.07L301 47.85L299 47.52L297 47.29L295 47.08L294 46.98L292 46.76L290 46.48L288 46.09L287 45.87L285 45.35L283.85 45L282 44.4L280.92 44L279 43.26L278 42.85L276 42.03L275 41.65L273 41.01L272 40.78L270 40.47L268 40.28L266 40.14L264.1 40L263 39.9L261 39.68L259 39.43L257 39.16L255.98 39L254 38.62L252 38.18L251 37.94L249 37.42L247.52 37L246 36.54L244.43 36L243 35.46L241.93 35L240 34.06L239 33.52L238 32.93L236.45 32L235 31.18L234 30.73L232 30.22L230 30.05L228.97 30L227 29.85L225 29.58L223 29.16L222 28.9L220 28.25L219 27.85L217.18 27L216 26.34L215 25.81L213 25.08L212 24.98L210 24.9L208 24.48L206.82 24L205 23.07L204 22.59L202.37 22L201 21.72L199 21.59L197 21.6L195 21.68L193 21.89L192 22.11L190 22.89L189 23.44L188 24.01L186.01 25L185 25.31L183 25.58L181 25.83L180 26.17L178.53 27L177 27.9L176 28.45L174.89 29L173 29.77L172 30.12L170 30.68L168.54 31L167 31.25L165 31.48L163 31.69L161.52 32L160 32.57L159 33.11L157.64 34L156.13 35L155 35.72L154 36.3L152.69 37L151 37.79L150 38.22L148 38.98L147 39.33L145 39.98L144 40.29L142 40.86L141 41.13L139 41.61L137.13 42L136 42.21L134 42.55L132 42.86L130.99 43L129 43.24L127 43.46L125 43.73L123.56 44L122 44.41L120.31 45L119 45.56L118 46.01L116 46.95L115 47.4L113.58 48L112 48.63L110.98 49L109 49.67L107.84 50L106 50.48L104 50.9L103 51.07L101 51.39L99 51.68L97 51.97L96 52.15L94 52.6L92.57 53L91 53.51L89.5 54L88 54.48L86.21 55L85 55.33L83 55.79L81.9 56L80 56.3L78 56.49L76 56.55L74 56.49L72 56.29L70.28 56L69 55.71L67 55.05L66 54.62L64.78 54L63.11 53L62 52.23L61 51.49L60 50.72L59 49.96L57.65 49L56 48L55 47.5L53.8 47L52 46.39L50.57 46L49 45.63L47 45.25L45 45.01L43 45.13L41 45.53L40 45.66"/>
<path d="M40 40.22L41 39.56L41.83 38L42.21 37L42.96 35L43.39 34L44 32.13L44.36 31L45 29L45.41 28L46 26.1L46.38 25L47 23.39L47.62 22L48.03 21L48.72 19L49.05 18L49.85 16L50.29 15L51 13.18L51.38 12L52 10.23L52.49 9L53 7.82L54 6.2L55 5.55L57 5.22L59 5.19L61 5.17L63 5.16L65 5.15L67 5.14L69 5.13L71 5.11L73 5.1L75 5.09L77 5.08L79 5.06L81 5.05L83 5.04L85 5.02L87 5.01L89 5L90 5L92 4.99L94 4.98L96 4.91L98 4.59L100 4.18L102 4.06L104 4.04L106 4.04L108 4.04L110 4.04L112 4.04L114 4.05L116 4.06L118 4.08L120 4.11L122 4.14L124 4.16L126 4.17L128 4.19L130 4.2L132 4.22L134 4.24L136 4.25L138 4.27L140 4.25L141.61 4L143 3.65L145 3.35L147 3.3L149 3.3L151 3.31L153 3.31L155 3.31L157 3.31L159 3.31L161 3.32L163 3.32L165 3.32L167 3.33L169 3.34L171 3.35L173 3.37L175 3.38L177 3.39L179 3.41L181 3.42L183 3.43L185 3.26L186 2.99L188 2.5L190 2.34L192 2.33L194 2.34L196 2.34L198 2.34L200 2.34L202 2.35L204 2.35L206 2.35L208 2.35L210 2.36L212 2.36L214 2.37L216 2.37L218 2.38L220 2.38L222 2.38L224 2.38L226 2.39L228 2.34L229.83 2L231 1.67L233 1.33L235 1.27L237 1.27L239 1.27L241 1.26L243 1.25L245 1.24L247 1.23L249 1.22L251 1.21L253 1.2L255 1.2L257 1.19L259 1.19L261 1.18L263 1.15L265 1.13L267 1.1L269 1.08L271 1.05L272 0.98L274 0.35L274.67 0"/>
<path d="M354.95 176L355.02 176L356 177.34L356.45 179L356.92 181L357.11 182L357.45 184L357.76 186L358 187.59L358.23 189L358.56 191L358.88 193L359.06 194L359.29 196L358.88 197L358 198.64L357.53 200L357.32 202L357.35 204L357.4 206L357.46 208L357.51 210L357.57 212L357.6 214L357.46 216L357.11 218L357 219.08L356.92 221L356.96 223L357 224.92L357.01 226L357.04 228L357.07 230L357.08 232L357 233.56L356.72 235L356.36 237L356.28 239L356.3 241L356.32 243L356.34 245L356.36 247L356.38 249L356.39 251L356.26 253L356 254.37L355.65 256L355.55 258L355.55 260L355.57 262L355.58 264L355.59 266L355.6 268L355.55 270L355.23 272L355 273.04L354.7 275L354.66 277L354.67 279L354.68 281L354.69 283L354.7 285L354.71 287L354.66 289L354.34 291L354 292.69L353.83 294L353.8 296L353.81 298L353.82 300L353.83 302L353.84 304L353.83 306L353.67 308L353.23 310L353 311.79L352.95 313L352.93 315L352.38 317L351 317.88L350 318.06L348 318.17L346 318.25L344 318.32L342 318.39L340 318.46L338 318.52L336 318.58L334 318.75L332.67 319L331 319.36L329 319.62L327 319.77L325 319.85L323 319.89L321 319.93L319 319.97L317.23 320L316 320.02L314 320.06L312 320.1L310 320.14L308 320.2L306 320.4L304 320.65L302 320.8L300 320.92L298.76 321L297 321.13L295 321.26L293 321.34L291 321.35L289 321.32L287 321.26L285 321.19L283 321.11L281 321.05L279 321.12L277 321.28L275 321.35L273 321.39L271 321.43L269 321.39L267 321.25L265 321.07L264 320.96L262 320.68L260 320.37L258 320.06L257 319.82L255 319.28L253.81 319L252.99 318L253.37 317L254 316L255 314.48L255.95 313L256.58 312L257.18 311L258 309.44L258.62 308L259.02 307L259.71 305L260.06 304L260.82 302L261.24 301L262 299.41L262.74 298L263.33 297L264 295.99L265 294.63L266 293.41L267 292.29L268 291.24L269 290.26L270 289.31L271 288.41L272 287.55L273 286.71L274 285.9L275.11 285L276.33 284L277.56 283L278.81 282L280 281.06L281 280.25L282 279.43L283 278.6L284 277.75L285 276.89L286.02 276L287.13 275L288.21 274L289.3 273L290.38 272L291.47 271L292.58 270L293.7 269L294.83 268L295.98 267L297 266.14L298 265.35L299 264.59L300 263.86L301.18 263L302.56 262L303.91 261L305 260.16L306 259.37L307 258.54L308 257.68L309 256.76L310 255.76L311 254.69L312 253.6L313 252.54L314 251.51L315 250.51L316 249.55L317 248.63L318 247.72L319 246.84L320 245.97L321.15 245L322.36 244L323.55 243L324.71 242L325.82 241L326.86 240L327.84 239L328.76 238L329.63 237L330.44 236L331.2 235L332 233.88L333 232.35L333.81 231L334.37 230L335 228.78L335.86 227L336.31 226L337 224.37L337.56 223L338 221.86L338.71 220L339.08 219L339.83 217L340.21 216L340.97 214L341.37 213L342 211.4L342.56 210L343 208.9L343.76 207L344.15 206L344.92 204L345.3 203L346 201.13L346.42 200L347 198.39L347.51 197L348 195.64L348.59 194L349 192.86L349.64 191L350 189.89L350.57 188L351 186.43L351.37 185L351.85 183L352.09 182L352.61 180L353 178.57L353.73 177L354.95 176"/>
<path d="M45.99 183L46.02 183L47.46 184L48.05 185L48.74 187L49.06 188L49.6 190L50 191.36L50.48 193L51 194.61L51.48 196L52 197.42L52.61 199L53.01 200L53.83 202L54.25 203L55 204.81L55.49 206L56 207.2L56.76 209L57.19 210L58 211.84L58.51 213L59 214.1L59.86 216L60.31 217L61 218.52L61.66 220L62.1 221L62.97 223L63.39 224L64 225.41L64.68 227L65.12 228L66 229.97L66.48 231L67 232.07L67.99 234L68.54 235L69.13 236L70 237.4L71 238.86L71.84 240L72.63 241L73.48 242L74.38 243L75.34 244L76.36 245L77.45 246L78.63 247L79.88 248L81 248.87L82 249.63L83 250.39L84 251.16L85.08 252L86.31 253L87.52 254L88.69 255L89.83 256L90.91 257L91.94 258L92.94 259L93.96 260L95 260.98L96 261.86L97 262.69L98 263.46L99 264.21L100.1 265L101.55 266L103 266.96L104 267.62L105 268.28L106.07 269L107.49 270L108.84 271L110 271.91L111 272.71L112 273.52L113 274.33L114 275.16L115.01 276L116.2 277L117.38 278L118.58 279L119.8 280L121 280.96L122 281.73L123 282.5L124 283.26L125 284.01L126.36 285L127.75 286L129 286.91L130 287.65L131 288.39L132 289.14L133.15 290L134.45 291L135.7 292L136.88 293L138 293.99L139 294.93L140 295.93L140.99 297L141.84 298L142.62 299L143.32 300L144 301.07L145 302.85L145.6 304L146.05 305L146.9 307L147.3 308L148 309.75L148.58 311L149.08 312L150 313.56L150.97 315L151.68 316L152.4 317L153.12 318L154 319.21L154.92 321L153.96 322L152 322.5L150.22 323L149 323.18L147 323.49L145 323.78L143.37 324L142 324.13L140 324.3L138 324.45L136 324.58L134 324.69L132 324.79L130 324.88L128 324.96L127 325L125 325.09L123 325.17L121 325.24L119 325.3L117 325.35L115 325.38L113 325.38L111 325.36L109 325.33L107 325.3L105 325.27L103 325.24L101 325.2L99 325.17L97 325.13L95 325.09L93 325.05L91 325.01L90 324.99L88 324.96L86 324.92L84 324.88L82 324.83L80 324.79L78 324.74L76 324.7L74 324.64L72 324.59L70 324.53L68 324.47L66 324.4L64 324.33L62 324.26L60 324.18L58 324.1L56.33 324L55 323.55L54.18 322L54.07 320L54.04 318L53.94 317L53.54 315L53.21 313L53.16 311L53.15 309L53.01 307L52.83 306L52.4 304L52.24 302L52.23 300L52.19 298L52 296.56L51.68 295L51.36 293L51.31 291L51.3 289L51.17 287L50.97 286L50.54 284L50.37 282L50.36 280L50.32 278L50.02 276L49.79 275L49.48 273L49.43 271L49.42 269L49.3 267L49 265.58L48.69 264L48.54 262L48.54 260L48.52 258L48.27 256L48 254.97L47.73 253L47.69 251L47.69 249L47.6 247L47.22 245L46.99 244L46.86 242L46.86 240L46.85 238L46.66 236L46.25 234L46.08 232L46.08 230L46.07 228L45.99 227L45.72 225L45.44 223L45.41 221L45.43 219L45.36 217L45.01 215L44.87 214L44.77 212L44.79 210L44.8 208L44.7 206L44.42 204L44.32 202L44.38 200L44.44 198L44.39 196L44.24 194L44.27 192L44.43 190L44.63 188L44.85 186L45 184.96L45.99 183"/>
<path d="M339.8 0L340 1.04L340.75 3L341.21 4L342 5.78L342.54 7L343 8.06L343.75 10L344.08 11L344.73 13L345.16 14L346 15.9L346.46 17L347 18.18L347.76 20L348.2 21L349 22.86L349.42 24L350 25.34L350.59 27L351.02 28L351.6 30L352 31.53L352.01 33L351 33.9L349 33.53L347 33.48L345.21 34L344 34.5L342.85 35L341 35.83L340 36.3L338.66 37L337.05 38L336 38.8L335 39.69L334 40.68L333 41.75L332 42.81L331 43.81L330 44.71L329 45.5L328 46.2L326.63 47L325 47.75L324 48.11L322 48.68L320.41 49L319 49.19L317 49.32L315 49.29L313 49.1L312 48.96L310 48.59L308 48.12L307 47.85L305 47.28L304 46.98L302 46.49L300 46.16L298.56 46L297 45.87L295 45.69L293 45.48L291 45.21L289.82 45L288 44.63L286 44.09L285 43.79L283 43.1L282 42.73L280.23 42L279 41.46L278 40.99L276 40.07L275 39.65L273.1 39L272 38.74L270 38.42L268 38.23L266 38.11L264.34 38L263 37.9L261 37.71L259 37.49L257 37.21L255.78 37L254 36.65L252 36.21L251 35.96L249 35.44L247.53 35L246 34.5L244.64 34L243 33.32L242 32.84L240.44 32L239 31.12L238 30.46L237 29.77L235.84 29L234.02 28L233 27.65L231 27.34L229 27.17L227.71 27L226 26.65L224 26.09L223 25.73L221.3 25L220 24.24L219 23.49L218 22.57L217 21.58L216 20.68L215 19.97L213 19.24L211 19.17L209 19.2L207.47 19L206 18.63L204.14 18L203 17.63L201 17.2L199.05 17L198 16.94L196 16.98L195 17.06L193 17.33L191 17.82L190 18.18L188 18.97L187 19.31L185 19.73L183 19.81L181 19.93L180 20.2L178.58 21L177.41 22L176.45 23L175.52 24L174.43 25L173 25.98L172 26.51L170.94 27L169 27.71L168 28.02L166 28.48L164 28.78L162.48 29L161 29.35L159.63 30L158.1 31L157 31.83L156 32.58L155 33.29L153.93 34L152.23 35L151 35.64L150 36.1L148 36.93L147 37.3L145 37.98L144 38.29L142 38.87L141 39.14L139 39.63L137.28 40L136 40.24L134 40.56L132 40.85L130.78 41L129 41.2L127 41.41L125 41.67L123.26 42L122 42.34L120.21 43L119 43.56L118 44.06L116.2 45L115 45.61L114 46.08L112 46.97L111 47.38L109.32 48L108 48.45L106.03 49L105 49.26L103 49.66L101 49.97L100 50.12L98 50.41L96 50.68L94.07 51L93 51.27L91 51.88L90 52.22L88 52.88L87 53.2L85 53.75L83.95 54L82 54.39L80 54.64L78 54.74L76 54.68L74 54.45L72 54.04L71 53.77L69 53.05L68 52.58L66.96 52L65.45 51L64.19 50L63.08 49L62.05 48L61.04 47L60 46.04L59 45.22L58 44.5L57 43.89L55.23 43L54 42.47L52.82 42L51 41.29L50 40.91L48 40.33L46 40.34L44 40.87L43 41.09L42.28 40L42.67 38L43 36.52L43.56 35L44 33.56L44.51 32L45 30.06L45.41 29L46 27.19L46.39 26L47 24.13L47.5 23L48 21.78L48.68 20L49 18.94L49.69 17L50.11 16L50.93 14L51.3 13L51.92 11L52.31 10L53 8.33L53.64 7L54.63 6L56 5.51L58 5.39L60 5.37L62 5.35L64 5.34L66 5.33L68 5.31L70 5.3L72 5.29L74 5.27L76 5.26L78 5.25L80 5.23L82 5.21L84 5.2L86 5.19L88 5.17L90 5.16L92 5.15L94 5.15L96 5.09L97 4.99L99 4.54L101 4.26L103 4.22L105 4.21L107 4.21L109 4.21L111 4.21L113 4.22L115 4.23L117 4.25L119 4.27L121 4.3L123 4.33L125 4.36L127 4.37L129 4.39L131 4.41L133 4.43L135 4.45L137 4.48L139 4.49L141 4.36L142.52 4L144 3.67L146 3.52L148 3.52L150 3.52L152 3.53L154 3.53L156 3.53L158 3.54L160 3.54L162 3.54L164 3.55L166 3.56L168 3.57L170 3.58L172 3.6L174 3.61L176 3.63L178 3.65L180 3.66L182 3.68L184 3.65L186 3.28L187 2.94L189 2.61L191 2.56L193 2.56L195 2.56L197 2.57L199 2.57L201 2.58L203 2.58L205 2.58L207 2.58L209 2.59L211 2.6L213 2.61L215 2.61L217 2.62L219 2.62L221 2.62L223 2.62L225 2.63L227 2.63L229 2.47L230.68 2L232 1.68L234 1.51L236 1.5L238 1.5L240 1.49L242 1.48L244 1.47L246 1.46L248 1.45L250 1.43L252 1.42L254 1.41L256 1.41L258 1.4L260 1.4L262 1.37L264 1.34L266 1.31L268 1.28L270 1.26L272 1.18L273.11 1L275 0.12L275.27 0"/>
<path d="M353.67 196L354.6 196L355.19 197L355.57 199L355.78 201L356 202.81L356.08 204L356.21 206L356.33 208L356.44 210L356.56 212L356.65 214L356.57 216L356.3 218L356.2 220L356.23 222L356.28 224L356.33 226L356.37 228L356.42 230L356.45 232L356.33 234L356.03 236L355.88 237L355.8 239L355.83 241L355.87 243L355.91 245L355.95 247L355.99 249L356 250L356 251.1L355.82 253L355.38 255L355.18 257L355.16 259L355.18 261L355.19 263L355.2 265L355.21 267L355.21 269L355.07 271L354.82 272L354.39 274L354.29 276L354.29 278L354.3 280L354.31 282L354.32 284L354.34 286L354.34 288L354.19 290L354 291.03L353.55 293L353.45 295L353.45 297L353.46 299L353.48 301L353.49 303L353.49 305L353.44 307L353.14 309L352.91 310L352.63 312L352.61 314L352.45 316L351.98 317L350 317.73L348 317.89L346 318L345 318.04L343 318.12L341 318.19L339 318.26L337 318.33L335 318.42L333 318.71L331.7 319L330 319.3L328 319.5L326 319.63L324 319.69L322 319.74L320 319.78L318 319.82L316 319.85L314 319.89L312 319.93L310 319.96L308.47 320L307 320.1L305 320.37L303 320.58L301 320.71L299 320.84L297 320.96L296 321.02L294 321.14L292 321.19L290 321.17L288 321.12L286 321.04L284.9 321L283 320.93L281 320.87L279 320.92L278 321L276 321.12L274 321.15L272 321.19L270 321.19L268 321.08L267 321L265 320.74L263 320.45L261 320.12L260 319.9L258 319.21L257 318.55L256.8 317L257.33 316L258 314.88L259 313.15L259.59 312L260.05 311L260.7 309L261 307.88L261.42 306L261.93 304L262.21 303L262.9 301L263.3 300L264 298.53L264.84 297L265.49 296L266.22 295L267.04 294L268 292.92L269 291.9L270 290.94L271.05 290L272.24 289L273.5 288L274.82 287L276 286.11L277 285.36L278 284.62L279 283.9L280.28 283L281.69 282L283 281.04L284 280.28L285 279.5L286 278.7L287 277.9L288.08 277L289.24 276L290.39 275L291.56 274L292.74 273L293.92 272L295 271.07L296 270.22L297 269.4L298 268.63L299 267.89L300.28 267L301.77 266L303 265.17L304 264.49L305 263.8L306.12 263L307.46 262L308.7 261L309.83 260L310.82 259L311.75 258L312.68 257L313.65 256L314.66 255L315.73 254L316.84 253L317.98 252L319 251.13L320 250.29L321 249.47L322 248.68L323 247.91L324.25 247L325.64 246L327 245.01L328 244.27L329 243.5L330 242.68L331 241.8L332 240.87L333 239.85L334 238.72L335 237.46L336 236.04L336.66 235L337.24 234L338 232.6L338.79 231L339.26 230L340 228.32L340.56 227L341 225.92L341.78 224L342.17 223L342.96 221L343.36 220L344 218.4L344.58 217L345.01 216L345.89 214L346.34 213L347 211.54L347.69 210L348.13 209L348.97 207L349.38 206L350 204.42L350.54 203L351 201.74L351.65 200L352.02 199L352.9 197L353.67 196"/>
<path d="M47.33 203L48.42 203L49.19 204L50 205.58L50.59 207L51.02 208L51.85 210L52.28 211L53 212.6L53.65 214L54.12 215L55 216.79L55.6 218L56.11 219L57 220.75L57.62 222L58.1 223L59 224.9L59.5 226L60 227.09L60.85 229L61.3 230L62 231.54L62.67 233L63.15 234L64 235.74L64.65 237L65.19 238L66 239.41L67 241L67.69 242L68.44 243L69.26 244L70.16 245L71.16 246L72.25 247L73.45 248L74.76 249L76 249.89L77 250.57L78 251.23L79.19 252L80.71 253L82 253.88L83 254.59L84 255.33L85 256.08L86.18 257L87.44 258L88.66 259L89.84 260L90.96 261L92 261.97L93 262.94L94 263.93L95 264.85L96 265.68L97 266.43L98 267.13L99.3 268L100.87 269L102 269.69L103 270.29L104.16 271L105.76 272L107 272.81L108 273.51L109 274.25L110 275.03L111.25 276L112.55 277L113.85 278L115 278.89L116 279.67L117 280.46L118 281.24L119.01 282L120.37 283L121.79 284L123 284.83L124 285.49L125 286.14L126.33 287L127.86 288L129 288.76L130 289.43L131 290.11L132.29 291L133.69 292L135 293L136 293.81L137 294.67L138 295.59L139 296.58L140 297.68L141 298.91L141.77 300L142.39 301L143 302.13L143.88 304L144.28 305L144.97 307L145.27 308L145.83 310L146.12 311L146.82 313L147.27 314L148 315.33L149 316.93L149.71 318L150.37 319L151 320.14L151 321.31L150 322.15L148 322.81L147 323.08L145 323.4L143 323.7L141 323.95L140 324.05L138 324.22L136 324.36L134 324.49L132 324.6L130 324.7L128 324.79L126 324.88L124 324.95L122.65 325L121 325.07L119 325.13L117 325.19L115 325.21L113 325.22L111 325.2L109 325.17L107 325.13L105 325.1L103 325.06L101 325.02L99.83 325L98 324.97L96 324.94L94 324.9L92 324.86L90 324.82L88 324.78L86 324.74L84 324.69L82 324.65L80 324.6L78 324.55L76 324.49L74 324.43L72 324.37L70 324.31L68 324.24L66 324.17L64 324.09L62 324.01L61 323.96L59 323.85L57 323.73L55 323.09L54.53 322L54.41 320L54.39 318L54.11 316L53.87 315L53.56 313L53.51 311L53.5 309L53.38 307L53 305.3L52.74 304L52.59 302L52.59 300L52.56 298L52.3 296L52 294.9L51.72 293L51.68 291L51.68 289L51.57 287L51.13 285L50.9 284L50.75 282L50.74 280L50.71 278L50.47 276L50 274.22L49.85 273L49.81 271L49.81 269L49.71 267L49.34 265L49 263.38L48.93 262L48.93 260L48.91 258L48.72 256L48.32 254L48.14 252L48.15 250L48.13 248L48 246.72L47.76 245L47.48 243L47.44 241L47.46 239L47.39 237L47.03 235L46.88 234L46.77 232L46.79 230L46.79 228L46.68 226L46.38 224L46.26 222L46.31 220L46.36 218L46.29 216L46.08 214L46.06 212L46.21 210L46.4 208L46.59 206L46.86 204L47.33 203"/>
<path d="M339.6 0L340 1.67L340.52 3L341 4.05L341.86 6L342.29 7L343 8.68L343.48 10L344 11.61L344.44 13L345 14.35L345.68 16L346.13 17L346.99 19L347.36 20L348 21.5L348.53 23L349 24.07L349.59 26L350 27.1L350.27 29L350 30.2L348.37 30L347 29.61L345 29.56L343.77 30L342 30.96L341 31.52L340 32.05L338.14 33L337 33.62L336 34.22L334.91 35L333.79 36L332.88 37L332 38.1L331 39.45L330 40.8L329.01 42L328.04 43L327 43.91L326 44.65L325 45.27L323.53 46L322 46.6L320.73 47L319 47.4L317 47.66L315 47.73L313 47.61L311 47.34L309.31 47L308 46.71L306 46.18L305 45.9L303 45.4L301 45.03L300 44.92L298 44.77L296 44.6L294 44.38L292 44.12L291 43.96L289 43.57L287 43.03L286 42.73L284 42.02L283 41.65L281.46 41L280 40.34L279 39.85L277.32 39L276 38.35L275 37.89L273 37.19L272 36.94L270 36.61L268 36.4L266 36.26L264 36.11L262.84 36L261 35.81L259 35.58L257 35.29L255.39 35L254 34.72L252 34.26L250.95 34L249 33.46L247.51 33L246 32.48L244.78 32L243 31.2L242 30.69L240.81 30L239.29 29L238 28.05L237 27.25L236 26.43L235 25.64L234 24.96L232 24.09L231 23.85L229 23.45L227.29 23L226 22.54L224.75 22L223 21.06L222 20.41L221 19.7L220 18.94L218.78 18L217.42 17L216 16.02L215 15.39L214 14.91L212 14.5L210 14.64L208 14.48L206.67 14L205.3 13L204.39 12L203.49 11L202.12 10L201 9.68L199 9.43L197 9.4L195 9.49L193 9.73L191.83 10L190.24 11L189.36 12L188.57 13L187.55 14L186 14.88L185 15.15L183 15.23L181 15.26L179.06 16L178 16.65L177 17.38L176 18.17L174.99 19L173.79 20L172.58 21L171.26 22L170 22.82L169 23.36L167.65 24L166 24.61L164.7 25L163 25.4L161.28 26L160 26.69L159 27.47L158 28.35L157 29.25L156 30.11L154.89 31L153.49 32L152 32.94L151 33.49L150 34L148 34.88L147 35.27L145 35.98L144 36.31L142 36.9L141 37.18L139 37.68L137.6 38L136 38.31L134 38.64L132 38.95L131 39.08L129 39.33L127 39.57L125 39.85L124 40.03L122 40.53L120.68 41L119 41.78L118 42.32L116.8 43L115 44L114 44.53L113 45.01L111 45.92L110 46.34L108.24 47L107 47.42L105 47.97L104 48.21L102 48.6L100 48.92L99 49.06L97 49.34L95 49.6L93 49.94L92 50.2L90 50.82L89 51.15L87 51.77L86 52.04L84 52.53L82 52.88L80.91 53L79 53.1L77 53L76 52.88L74 52.48L72.4 52L71 51.47L70 51L68.35 50L67.06 49L66 48.01L65.07 47L64.23 46L63.43 45L62.61 44L61.72 43L60.69 42L59.39 41L58 40.17L57 39.67L55.56 39L54 38.28L53 37.8L51.42 37L50 36.4L48 36.28L46 36.88L45 37.14L44.27 36L44.63 34L44.98 32L45.26 31L45.83 29L46.17 28L46.74 26L47.02 25L47.82 23L48.25 22L48.96 20L49.29 19L49.95 17L50.38 16L51 14.45L51.53 13L52 11.46L52.53 10L53 8.84L53.88 7L55 6.01L56 5.71L58 5.58L60 5.56L62 5.54L64 5.53L66 5.51L68 5.5L70 5.48L72 5.47L74 5.45L76 5.44L78 5.42L80 5.4L82 5.39L84 5.37L86 5.35L88 5.34L90 5.33L92 5.32L94 5.31L96 5.26L97.82 5L99 4.72L101 4.43L103 4.38L105 4.38L107 4.38L109 4.38L111 4.38L113 4.39L115 4.4L117 4.42L119 4.45L121 4.48L123 4.52L125 4.54L127 4.56L129 4.59L131 4.61L133 4.63L135 4.66L137 4.69L139 4.71L141 4.59L143 4.11L144 3.88L146 3.73L148 3.73L150 3.73L152 3.74L154 3.75L156 3.75L158 3.76L160 3.76L162 3.76L164 3.77L166 3.78L168 3.8L170 3.82L172 3.84L174 3.86L176 3.88L178 3.9L180 3.92L182 3.94L184 3.91L186 3.56L187.77 3L189 2.83L191 2.78L193 2.78L195 2.79L197 2.79L199 2.8L201 2.81L203 2.81L205 2.81L207 2.82L209 2.82L211 2.84L213 2.85L215 2.86L217 2.86L219 2.86L221 2.86L223 2.87L225 2.87L227 2.87L229 2.72L231 2.18L232 1.91L234 1.74L236 1.73L238 1.73L240 1.72L242 1.71L244 1.7L246 1.68L248 1.67L250 1.65L252 1.64L254 1.63L256 1.62L258 1.62L260 1.61L262 1.58L264 1.55L266 1.51L268 1.48L270 1.45L272 1.37L273.83 1L275 0.42L275.93 0"/>
<path d="M352.94 213L353.05 213L354 214.07L354.43 216L354.67 218L354.87 220L355 221.15L355.1 223L355.21 225L355.31 227L355.41 229L355.51 231L355.55 233L355.34 235L355.15 237L355.14 239L355.17 241L355.21 243L355.25 245L355.29 247L355.33 249L355.36 251L355.23 253L355 254.5L354.7 256L354.61 258L354.63 260L354.66 262L354.68 264L354.7 266L354.72 268L354.66 270L354.31 272L354 273.86L353.87 275L353.84 277L353.86 279L353.89 281L353.91 283L353.94 285L353.96 287L353.9 289L353.52 291L353.17 293L353.09 295L353.1 297L353.11 299L353.12 301L353.13 303L353.14 305L353.1 307L352.99 308L352.5 310L352.29 312L352.28 314L352.1 316L351.32 317L350 317.4L348 317.57L346 317.68L344 317.79L342 317.9L340 318L339 318.03L337 318.11L335 318.21L333 318.49L331 318.93L330 319.1L328 319.31L326 319.44L324 319.51L322 319.56L320 319.6L318 319.65L316 319.69L314 319.73L312 319.77L310 319.8L308 319.86L306.38 320L305 320.2L303 320.42L301 320.56L299 320.69L297 320.82L295 320.93L293.24 321L292 321.03L290 321.01L289 320.98L287 320.92L285 320.85L283 320.77L281 320.71L279 320.74L277 320.88L275 320.93L273 320.95L271 320.98L269 320.9L267 320.68L265 320.4L263 320.08L262 319.8L260 319.06L259.18 318L259.94 316L260.49 315L261.03 314L261.92 312L262.24 311L262.68 309L263 307.04L263.16 306L263.54 304L264 302.24L264.38 301L265 299.44L265.68 298L266.25 297L267 295.89L268 294.61L269 293.49L270 292.48L271 291.56L272 290.71L273 289.91L274.23 289L275.66 288L277 287.08L278 286.4L279 285.74L280.17 285L281.77 284L283 283.2L284 282.54L285 281.85L286.19 281L287.55 280L288.86 279L290 278.1L291 277.28L292 276.46L293 275.64L294 274.83L295.03 274L296.28 273L297.57 272L298.94 271L300 270.27L301 269.61L302 268.98L303.59 268L305 267.13L306 266.49L307 265.84L308.21 265L309.51 264L310.66 263L311.69 262L312.68 261L313.71 260L314.79 259L315.93 258L317 257.09L318 256.27L319 255.49L320 254.75L321.06 254L322.57 253L324 252.08L325 251.47L326 250.89L327.59 250L329 249.21L330 248.66L331.16 248L332.82 247L334 246.22L335 245.5L336 244.72L337 243.84L338 242.82L339 241.63L340 240.22L340.75 239L341.3 238L342 236.6L342.73 235L343.16 234L344 232L344.41 231L345 229.57L345.65 228L346.06 227L346.87 225L347.27 224L348 222.12L348.45 221L349 219.64L349.71 218L350.18 217L351 215.33L351.83 214L352.94 213"/>
<path d="M49.64 220L50.16 220L51.12 221L52 222.36L52.89 224L53.4 225L54 226.22L54.82 228L55.26 229L56 230.65L56.61 232L57.07 233L58 235L58.46 236L59 237.15L59.86 239L60.33 240L61 241.38L61.83 243L62.38 244L63 245.03L64 246.52L65 247.8L66 248.9L67 249.85L68 250.66L69 251.39L70 252.05L71.58 253L73 253.77L74 254.28L75.43 255L77 255.78L78 256.28L79.37 257L81 257.89L82 258.47L83 259.07L84.47 260L85.96 261L87 261.75L88 262.51L89 263.29L90 264.09L91.09 265L92.22 266L93.31 267L94.44 268L95.72 269L97 269.89L98 270.52L99 271.11L100.55 272L102 272.8L103 273.35L104.13 274L105.8 275L107 275.76L108 276.44L109 277.16L110.15 278L111.51 279L112.88 280L114 280.83L115 281.57L116 282.31L117 283.03L118.4 284L119.91 285L121 285.7L122 286.32L123.14 287L124.88 288L126 288.63L127 289.21L128.31 290L129.94 291L131 291.65L132 292.3L133.03 293L134.4 294L135.66 295L136.81 296L137.84 297L138.77 298L139.6 299L140.32 300L141 301.12L141.94 303L142.36 304L143 305.9L143.32 307L143.78 309L144 310.11L144.41 312L144.97 314L145.39 315L146 316.23L147 317.92L147.68 319L148.24 320L148 321.82L147 322.33L145.13 323L144 323.19L142 323.49L140 323.76L138 323.98L137 324.07L135 324.22L133 324.35L131 324.47L129 324.57L127 324.67L125 324.76L123 324.84L121 324.91L119 324.97L117.83 325L116 325.04L114 325.06L112 325.05L110 325.02L108.88 325L107 324.97L105 324.94L103 324.9L101 324.87L99 324.83L97 324.8L95 324.76L93 324.72L91 324.68L89 324.63L87 324.59L85 324.54L83 324.49L81 324.43L79 324.38L77 324.32L75 324.26L73 324.19L71 324.12L69 324.05L67.68 324L66 323.92L64 323.81L62 323.7L60 323.58L58 323.46L56 323.2L55 322.27L54.77 321L54.75 319L54.67 317L54.28 315L54 313.9L53.87 312L53.86 310L53.83 308L53.61 306L53.14 304L52.98 303L52.94 301L52.95 299L52.87 297L52.52 295L52.14 293L52.08 291L52.08 289L52 287.49L51.84 286L51.42 284L51.22 282L51.21 280L51.18 278L51 276.64L50.73 275L50.39 273L50.33 271L50.33 269L50.23 267L50 265.88L49.68 264L49.53 262L49.53 260L49.53 258L49.33 256L49 254.64L48.82 253L48.79 251L48.81 249L48.77 247L48.53 245L48.24 243L48.23 241L48.28 239L48.27 237L48.05 235L47.95 234L47.92 232L47.98 230L48.03 229L48.15 227L48.23 225L48.43 223L48.85 221L49.64 220"/>
<path d="M339.4 0L339.89 2L340.3 3L341 4.58L341.6 6L342.05 7L342.86 9L343.22 10L343.8 12L344.14 13L344.92 15L345.31 16L346 17.63L346.49 19L347 20.19L347.57 22L348 23.11L348.34 25L348 26.56L346 26.16L345 25.93L343.75 26L342 26.84L341 27.55L340 28.24L338.82 29L337.04 30L336 30.56L335 31.09L333.52 32L332.28 33L331.37 34L330.65 35L330 36L329 37.68L328.19 39L327.51 40L326.71 41L325.75 42L324.55 43L323 44L322 44.52L320.9 45L319 45.63L317.28 46L316 46.17L314 46.23L312 46.1L311 45.97L309 45.63L307 45.2L306 44.96L304 44.49L302 44.11L301 43.98L299 43.82L297 43.66L295 43.44L293 43.17L291.94 43L290 42.64L288 42.13L287 41.82L285 41.12L284 40.73L282.28 40L281 39.41L280 38.91L278.3 38L277 37.3L276 36.78L274.22 36L273 35.6L271 35.14L270 34.97L268 34.73L266 34.53L264 34.33L262 34.09L261 33.97L259 33.7L257 33.38L255.03 33L254 32.77L252 32.3L250.87 32L249 31.45L247.61 31L246 30.41L244.99 30L243 29.04L242 28.46L241 27.82L239.89 27L238.74 26L237.78 25L236.98 24L236 22.54L235 21.13L234 20.02L233 19.24L232 18.69L230.13 18L229 17.65L227.04 17L226 16.58L224.77 16L223 15.02L222 14.36L221 13.62L220 12.7L219 11.31L218.34 10L217.77 9L216.63 8L215 7.53L213 7.19L211 7.09L209 7.09L207 7.06L205 7L204 6.99L202 6.98L200 6.99L199 7.01L197 7.07L195 7.15L193 7.24L191 7.36L189 7.49L187 7.59L185 7.65L183 7.74L181 7.87L179.71 8L178 8.48L176.57 9L175.57 10L175 11.17L174.09 13L173.32 14L172.27 15L171 15.96L170 16.61L169 17.22L167.5 18L166 18.65L165 19.03L163 19.75L162 20.19L160.71 21L159.63 22L158.84 23L158 24.3L157 25.92L156.21 27L155.31 28L154.24 29L153 29.99L152 30.67L151 31.29L149.68 32L148 32.79L147 33.2L145 33.95L144 34.29L142 34.92L141 35.21L139 35.74L137.93 36L136 36.41L134 36.78L132.73 37L131 37.29L129 37.59L127 37.87L126 38.02L124 38.4L122 38.91L121 39.25L119.35 40L118 40.74L117 41.34L115.9 42L114.17 43L113 43.63L112 44.13L110.1 45L109 45.47L107.59 46L106 46.54L104.29 47L103 47.31L101 47.69L99.07 48L98 48.17L96 48.43L94 48.69L92.3 49L91 49.34L89 49.91L88 50.2L86 50.72L84.71 51L83 51.31L81 51.53L79 51.54L77 51.31L75.55 51L74 50.53L72.68 50L71 49.12L70 48.45L69 47.63L68 46.63L67 45.42L66 44L65.33 43L64.67 42L63.99 41L63 39.81L62 38.89L60.7 38L59 37.11L58 36.65L56.68 36L55 35.11L54 34.51L53 33.86L51.52 33L50 32.58L48.03 33L47 33.31L46 32.86L45.94 31L46.14 30L46.7 28L47 26.55L47.48 25L48 23.46L48.62 22L49 20.84L49.59 19L50 17.65L50.66 16L51.04 15L51.76 13L52.05 12L52.75 10L53.17 9L54 7.22L55 6.27L56 5.91L58 5.77L60 5.74L62 5.73L64 5.71L66 5.69L68 5.68L70 5.66L72 5.65L74 5.63L76 5.61L78 5.6L80 5.58L82 5.56L84 5.54L86 5.52L88 5.51L90 5.49L92 5.48L94 5.47L96 5.42L98 5.14L99 4.89L101 4.6L103 4.55L105 4.55L107 4.55L109 4.55L111 4.55L113 4.56L115 4.58L117 4.6L119 4.63L121 4.66L123 4.7L125 4.73L127 4.76L129 4.78L131 4.81L133 4.84L135 4.87L137 4.9L139 4.93L141 4.82L143 4.37L144.84 4L146 3.94L148 3.94L150 3.95L152 3.96L154 3.97L156 3.97L158 3.98L160 3.98L162 3.99L164 4L165 4.01L167 4.03L169 4.07L171 4.1L173 4.14L175 4.19L177 4.23L179 4.28L181 4.33L183 4.36L185 4.14L186 3.85L188 3.26L190 3.01L192 3L194 3.02L196 3.03L198 3.04L200 3.06L202 3.07L204 3.08L206 3.09L208 3.1L210 3.12L212 3.15L214 3.17L216 3.18L218 3.18L220 3.18L222 3.18L224 3.19L226 3.2L228 3.14L229 2.98L231 2.46L233 2.02L234 1.97L236 1.96L238 1.96L240 1.95L242 1.94L244 1.92L246 1.9L248 1.89L250 1.87L252 1.86L254 1.85L256 1.84L258 1.83L260 1.82L262 1.79L264 1.75L266 1.71L268 1.68L270 1.64L272 1.56L274 1.16L275 0.73L277 0.01L277.11 0"/>
<path d="M351.19 232L352.42 232L353 233.01L353.29 235L353.45 237L353.64 239L353.84 241L354 242.47L354.06 244L354.15 246L354.23 248L354.32 250L354.34 252L354.13 254L354 255.33L353.83 257L353.86 259L353.93 261L353.99 263L354.01 264L354.03 266L354.05 268L354.02 270L353.83 271L353.35 273L353.18 275L353.18 277L353.21 279L353.24 281L353.27 283L353.3 285L353.33 287L353.3 289L353.03 291L352.78 292L352.55 294L352.55 296L352.57 298L352.6 300L352.62 302L352.63 304L352.63 306L352.46 308L352.09 310L351.97 311L351.89 313L351.86 315L351 316.66L350 317.06L348 317.24L346 317.37L344 317.49L342 317.61L340 317.71L338 317.81L336 317.91L334.94 318L333 318.27L331 318.7L329.12 319L328 319.11L326 319.25L324 319.32L322 319.38L320 319.43L318 319.48L316 319.52L314 319.57L312 319.61L310 319.65L308 319.71L306 319.89L305 320.03L303 320.26L301 320.41L299 320.55L297 320.68L295 320.79L293 320.87L291 320.88L289 320.84L287 320.78L285 320.7L283 320.62L281 320.54L279 320.56L277 320.68L275 320.71L273 320.71L271 320.71L269 320.6L267 320.36L265 320.06L264 319.77L262 319.03L261.32 318L262 316.17L262.59 315L263.07 314L263.78 312L264.03 311L264.35 309L264.57 307L264.83 305L265.01 304L265.46 302L266 300.33L266.53 299L267.03 298L268 296.43L269 295.12L270 294.01L271 293.03L272 292.14L273 291.34L274 290.59L275 289.91L276.41 289L278 288.01L279 287.42L280 286.85L281.55 286L283 285.18L284 284.6L285.01 284L286.59 283L288 282.05L289 281.35L290 280.64L291 279.9L292.19 279L293.45 278L294.71 277L296 276.01L297 275.27L298 274.55L299 273.86L300.29 273L301.87 272L303 271.32L304 270.73L305.28 270L307 269.01L308 268.39L309 267.72L310 266.97L311.19 266L312.39 265L313.58 264L314.82 263L316 262.08L317 261.31L318 260.56L319 259.84L320.22 259L321.86 258L323 257.4L324 256.94L326 256.15L327 255.81L329 255.21L330 254.94L332 254.46L333.87 254L335 253.63L336.43 253L338 252.17L339 251.59L340 250.96L341.43 250L342.72 249L343.83 248L344.78 247L345.57 246L346.24 245L347 243.59L347.69 242L348.05 241L348.66 239L349 237.75L349.5 236L350 234.36L350.6 233L351.19 232"/>
<path d="M50.95 239L52 238.22L53 239.48L53.68 241L54.08 242L54.73 244L55.06 245L55.73 247L56.12 248L57 249.92L57.61 251L58.28 252L59.08 253L60.03 254L61.17 255L62.52 256L64 256.95L65 257.53L66 258.06L67.91 259L69 259.46L70.79 260L72 260.25L74 260.61L75.82 261L77 261.29L79 261.86L80 262.2L82 262.99L83 263.47L84 264L85.64 265L87 265.9L88 266.58L89 267.27L90.03 268L91.4 269L92.72 270L94 270.98L95 271.73L96 272.44L97 273.06L98.73 274L100 274.65L101 275.17L102.58 276L104 276.78L105 277.35L106.08 278L107.67 279L109 279.87L110 280.55L111 281.25L112.04 282L113.43 283L114.87 284L116 284.75L117 285.4L118 286.03L119.62 287L121 287.78L122 288.32L123.31 289L125 289.83L126 290.33L127.28 291L129 291.92L130 292.48L131 293.07L132.46 294L133.9 295L135 295.86L136 296.73L137 297.69L138 298.8L138.92 300L139.56 301L140.1 302L140.95 304L141.3 305L141.83 307L142.04 308L142.39 310L142.71 312L143 313.43L143.46 315L144 316.32L144.88 318L145.47 319L146.02 320L146 321.56L145 322.28L143 322.99L142 323.16L140 323.44L138 323.69L136 323.91L135 324.01L133 324.15L131 324.28L129 324.39L127 324.5L125 324.6L123 324.68L121 324.76L119 324.83L117 324.88L115 324.91L113 324.91L111 324.89L109 324.86L107 324.83L105 324.79L103 324.76L101 324.72L99 324.68L97 324.64L95 324.6L93 324.55L91 324.51L89 324.46L87 324.41L85 324.36L83 324.3L81 324.24L79 324.18L77 324.12L75 324.05L73.51 324L72 323.93L70 323.84L68 323.73L66 323.63L64 323.51L62 323.39L60 323.26L58 323.13L56.81 323L55.43 322L55.15 320L55.14 318L55 316.64L54.75 315L54.42 313L54.36 311L54.36 309L54.25 307L54 305.8L53.68 304L53.52 302L53.53 300L53.52 298L53.3 296L53 294.91L52.75 293L52.72 291L52.73 289L52.67 287L52.3 285L52 283.96L51.87 282L51.88 280L51.87 278L51.71 276L51.26 274L51 272.09L51 271L51.01 270L51.01 268L50.97 267L50.75 265L50.46 263L50.43 261L50.49 259L50.47 257L50.21 255L50 253.94L49.95 252L50 250.04L50.08 249L50.17 247L50.15 245L50.23 243L50.52 241L50.95 239"/>
<path d="M305.38 0L307 0.02L309 0.05L311 0.09L313 0.12L315 0.12L315.94 0"/>
<path d="M339.2 0L339.66 2L340.08 3L340.94 5L341.35 6L342 7.53L342.55 9L343 10.22L343.45 12L344 13.6L344.46 15L345 16.27L345.56 18L346 19.11L346.39 21L346.01 23L345.96 23L344 22.67L342.32 23L341 23.92L340 24.83L339 25.7L338 26.48L337 27.16L335.57 28L334 28.83L333 29.35L331.86 30L330.57 31L329.65 32L328.94 33L328 34.66L327.3 36L326.76 37L326 38.26L325 39.64L324 40.73L323 41.6L322 42.31L320.84 43L319 43.83L318 44.16L316 44.62L314 44.8L312 44.76L310 44.56L308 44.26L306.65 44L305 43.69L303 43.33L301 43.07L300 42.99L298 42.83L296 42.62L294 42.34L292 42L291 41.81L289 41.33L287.92 41L286 40.34L285 39.95L283 39.09L282 38.62L280.78 38L279 37.01L278 36.44L277 35.87L275.29 35L274 34.47L272.5 34L271 33.64L269 33.29L267 33L266 32.87L264 32.58L262 32.28L260.22 32L259 31.8L257 31.42L255.05 31L254 30.75L252 30.22L251 29.94L249 29.3L248 28.96L246 28.17L245 27.71L243.68 27L242.21 26L241.08 25L240.24 24L239.6 23L239 21.74L238.32 20L237.93 19L237 17.07L236.29 16L235.44 15L234.37 14L233.06 13L232 12.27L231 11.62L230 10.96L228.67 10L227.35 9L226 8.19L225 7.78L223 7.17L222 6.93L220 6.64L218 6.36L216 6.14L214.15 6L213 5.97L211 5.97L209.72 6L208 6.04L206 6.06L204 6.07L202 6.11L200 6.16L198 6.22L196 6.29L194 6.36L192 6.43L190 6.52L188 6.55L186 6.46L184 6.39L182 6.5L180 6.66L178 6.89L177 7.02L175 7.38L173 7.74L171.47 8L170 8.48L168.2 9L167 9.72L166 10.42L165 11.24L164 12.05L162.75 13L161.37 14L160.05 15L159 15.91L158 16.99L157.27 18L156.7 19L156 20.6L155.52 22L155 23.53L154.38 25L153.8 26L153 27.03L152 28.01L150.69 29L149.03 30L148 30.51L146.94 31L145 31.78L144 32.15L142 32.83L141 33.14L139 33.72L137.97 34L136 34.47L134 34.91L133 35.11L131 35.51L129 35.89L128 36.08L126 36.45L124 36.87L123 37.13L121 37.78L120 38.2L118.47 39L117 39.88L116 40.52L115 41.15L113.59 42L112 42.87L111 43.38L109.66 44L108 44.72L107 45.1L105 45.76L104 46.03L102 46.51L100 46.9L99 47.08L97 47.4L95 47.65L93 47.92L92 48.11L90 48.57L88.2 49L87 49.29L85 49.68L83 49.96L82 50.05L80 50.07L79 49.99L77 49.62L75.1 49L74 48.51L73 47.99L71.53 47L70.39 46L69.48 45L68.72 44L68 42.89L67 41.21L66.28 40L65.62 39L64.86 38L63.85 37L62.36 36L61 35.33L60 34.86L58.22 34L57 33.33L56 32.69L55 31.96L53.81 31L52.52 30L51 29.32L49 29.61L47.6 29L47.64 27L47.95 25L48.33 24L48.99 22L49.38 21L49.9 19L50.22 18L50.93 16L51.34 15L51.99 13L52.31 12L52.97 10L53.4 9L54 7.65L55 6.54L56.97 6L58 5.96L60 5.93L62 5.91L64 5.9L66 5.88L68 5.86L70 5.84L72 5.83L74 5.81L76 5.79L78 5.77L80 5.75L82 5.73L84 5.71L86 5.69L88 5.67L90 5.66L92 5.65L94 5.64L96 5.59L98 5.31L99.36 5L101 4.77L103 4.72L105 4.72L107 4.72L109 4.72L111 4.72L113 4.73L115 4.75L117 4.77L119 4.81L121 4.85L123 4.89L125 4.92L127 4.95L129 4.98L130.47 5L132 5.03L134 5.07L136 5.12L138 5.18L140 5.18L141.3 5L143 4.63L145 4.26L147 4.21L149 4.23L151 4.25L153 4.27L155 4.28L157 4.3L159 4.32L161 4.33L163 4.35L165 4.37L167 4.41L169 4.45L171 4.5L173 4.55L175 4.61L177 4.67L179 4.73L181 4.79L183 4.84L185 4.7L186.5 4L188 3.58L190 3.37L192 3.36L194 3.38L196 3.4L198 3.42L200 3.45L202 3.47L204 3.48L206 3.49L208 3.51L210 3.54L212 3.57L214 3.59L216 3.6L218 3.6L220 3.6L222 3.59L224 3.6L226 3.61L228 3.56L230 3.07L231 2.75L233 2.33L235 2.26L237 2.26L239 2.26L241 2.24L243 2.22L245 2.19L247 2.16L249 2.14L251 2.11L253 2.09L255 2.07L257 2.06L259 2.05L261 2.02L262.11 2L264 1.96L266 1.91L268 1.87L270 1.84L272 1.76L274 1.37L275.07 1L277 0.33L279 0.18L281 0.14L283 0.11L285 0.08L287 0.06L289 0.03L291 0.01L292 0"/>
<path d="M323.87 262L325 261.73L327 261.5L329 261.6L330.92 262L332 262.35L333.47 263L335 263.85L336 264.47L337 265.1L338.71 266L340 266.57L341.07 267L343 267.8L344 268.23L345.65 269L347 269.73L348 270.37L349 271.15L350 272.16L350.91 274L351.11 275L351.41 277L351.7 279L351.98 281L352.04 282L352.13 284L352.23 286L352.31 288L352.22 290L352 291.93L351.85 293L351.82 295L351.88 297L351.95 299L352 300.99L352.01 302L352.03 304L352.03 306L352 307.04L351.6 309L351.32 311L351.32 313L351.29 315L351 316L349 316.71L347 316.99L346 317.06L344 317.19L342 317.31L340 317.43L338 317.54L336 317.65L334 317.85L333 318.05L331 318.47L329 318.78L327 319L326 319.06L324 319.14L322 319.2L320 319.25L318 319.31L316 319.35L314 319.4L312 319.45L310 319.49L308 319.56L306 319.74L304.01 320L303 320.1L301 320.25L299 320.4L297 320.54L295 320.66L293 320.74L291 320.75L289 320.71L287 320.64L285 320.55L283 320.46L281 320.37L279 320.38L277 320.48L275 320.49L273 320.47L271 320.44L269 320.31L267 320.05L266 319.77L264 319.06L263.24 318L263.95 316L264.41 315L265 313.46L265.41 312L265.74 310L265.93 308L266.01 307L266.2 305L266.53 303L267 301.2L267.4 300L268 298.65L268.94 297L269.67 296L270.52 295L271.51 294L272.64 293L273.94 292L275 291.27L276 290.64L277.1 290L278.94 289L280 288.46L281 287.98L283 287.03L284 286.53L285.05 286L286.86 285L288 284.32L289 283.69L290.05 283L291.51 282L292.93 281L294 280.2L295 279.44L296 278.69L297 277.99L298.49 277L300 276.03L301 275.4L302 274.79L303.32 274L305 273.04L306 272.49L307 271.95L308.65 271L310 270.1L311 269.36L312 268.62L313 267.93L314.44 267L316 266.01L317 265.39L318 264.79L319.37 264L321 263.12L322 262.66L323.87 262"/>
<path d="M73.56 268L75 267.54L77 267.2L79 267.19L81 267.49L82.71 268L84 268.5L85.06 269L87 270L88 270.54L89 271.1L90.58 272L92 272.83L93 273.46L94 274.13L95.29 275L96.99 276L98 276.51L99.02 277L101 277.97L102 278.49L103 279.02L104.78 280L106 280.7L107 281.28L108.2 282L109.79 283L111 283.81L112 284.5L113 285.18L114.28 286L115.89 287L117 287.66L118 288.22L119.46 289L121 289.75L122 290.2L123.84 291L125 291.48L126.19 292L128 292.82L129 293.32L130.28 294L131.98 295L133 295.67L134 296.41L135 297.25L136 298.19L137 299.3L138 300.66L138.78 302L139.25 303L139.97 305L140.25 306L140.66 308L140.94 310L141.06 311L141.35 313L141.8 315L142.12 316L143 318L143.54 319L144.06 320L144 321.62L143 322.29L141 322.96L140 323.13L138 323.4L136 323.64L134 323.85L132.34 324L131 324.09L129 324.22L127 324.33L125 324.44L123 324.53L121 324.62L119 324.69L117 324.75L115 324.78L113 324.78L111 324.76L109 324.73L107 324.69L105 324.65L103 324.61L101 324.57L99 324.53L97 324.48L95 324.44L93 324.39L91 324.34L89 324.29L87 324.23L85 324.18L83 324.12L81 324.05L79.34 324L78 323.94L76 323.86L74 323.76L72 323.67L70 323.56L68 323.45L66 323.34L64 323.21L62 323.08L60.8 323L59 322.76L57 322.43L56 321.86L55.72 320L55.75 318L55.62 316L55.19 314L55 312.87L54.97 311L54.97 309L54.92 307L54.67 305L54.34 303L54.3 301L54.36 299L54.34 297L54.01 295L53.9 294L53.83 292L53.89 290L53.96 288L53.97 286L53.9 284L54 282.16L54.38 281L55 279.46L56 278.17L57 277.24L58 276.49L59 275.86L60.55 275L62 274.28L63 273.8L64.73 273L66 272.4L67 271.87L68.36 271L69.82 270L71 269.25L72 268.69L73.56 268"/>
<path d="M338.99 0L339.14 1L339.82 3L340.24 4L341 5.75L341.47 7L342 8.28L342.56 10L343 11.5L343.32 13L344 14.99L344.24 16L344.67 18L344 19.58L342 19.89L341 20.56L340 21.58L339 22.71L338 23.75L337 24.66L336 25.42L335 26.08L333.35 27L332 27.7L331 28.24L329.81 29L328.69 30L327.86 31L327 32.33L326.06 34L325.53 35L324.97 36L324 37.56L323 38.84L322 39.86L321 40.67L320 41.34L318.81 42L317 42.74L316 43.03L314 43.37L312 43.46L310 43.37L308 43.18L306.71 43L305 42.76L303 42.48L301 42.27L299 42.1L297.99 42L296 41.76L294 41.44L292 41.07L291 40.85L289 40.32L288 40L286 39.27L285 38.85L283.13 38L282 37.43L281 36.88L279.49 36L278 35.1L277 34.53L276 33.99L274 33.11L273 32.77L271 32.21L270 31.98L268 31.57L266 31.2L264.94 31L263 30.62L261 30.23L259.88 30L258 29.58L256 29.09L255 28.81L253 28.22L252 27.9L250 27.19L249 26.8L247.18 26L246 25.34L245 24.65L244 23.74L243 22.31L242.45 21L242 19.22L241.78 18L241.42 16L241 14.32L240.5 13L239.99 12L239 10.51L238 9.29L237 8.31L236 7.67L234.44 7L233 6.76L231 6.43L229 6.06L228 5.91L226 5.71L224 5.56L222 5.41L220 5.27L218 5.14L216 5.05L214 5L212 5.03L210 5.1L208 5.17L206 5.21L204 5.25L202 5.3L200 5.37L198 5.44L196 5.52L194 5.6L192 5.69L190 5.78L188 5.74L186.13 5L187.66 4L189 3.77L191 3.71L193 3.74L195 3.77L197 3.79L199 3.82L201 3.85L203 3.87L205 3.89L207 3.91L209 3.94L211 3.98L212.24 4L214 4.98L216 4.56L218 4.27L220 4.12L222 4.05L224 4.03L226 4.07L227.37 4L229 3.87L231 3.1L232 2.8L234 2.6L236 2.59L238 2.59L240 2.58L242 2.55L244 2.52L246 2.49L248 2.45L250 2.42L252 2.39L254 2.36L256 2.35L258 2.33L260 2.31L262 2.26L264 2.2L266 2.14L268 2.08L270 2.04L271.08 2L273 1.82L275 1.25L276 0.9L278 0.53L280 0.47L282 0.44L284 0.41L286 0.38L288 0.35L290 0.33L292 0.3L294 0.28L296 0.26L298 0.25L300 0.25L302 0.27L304 0.29L306 0.32L308 0.35L310 0.38L312 0.42L314 0.45L316 0.33L316.88 0"/>
<path d="M100.42 5L102 4.9L104 4.89L106 4.89L108 4.89L110 4.89L112 4.9L114 4.91L116 4.94L118 4.97L119.79 5L121 5.03L123 5.09L125 5.13L127 5.17L129 5.22L131 5.27L133 5.32L135 5.37L137 5.43L139 5.5L141 5.41L142.52 5L144 4.67L146 4.51L148 4.52L150 4.55L152 4.57L154 4.6L156 4.63L158 4.65L160 4.67L162 4.69L164 4.72L166 4.76L168 4.81L170 4.87L172 4.93L174 5L175 5.43L175 6.12L173 6.41L171 6.7L169 6.99L168 7.14L166 7.42L164 7.68L162 7.94L161 8.14L159 8.69L157.97 9L156.46 10L155.53 11L154.75 12L154 13.13L153.05 15L152.71 16L152.28 18L152.02 20L151.89 21L151.5 23L151 24.38L150 25.96L149 26.93L148 27.65L147 28.25L145.55 29L144 29.68L143 30.1L141 30.85L140 31.2L138 31.85L137 32.15L135 32.7L133.85 33L132 33.46L130 33.95L129 34.18L127 34.65L125.56 35L124 35.41L122.08 36L121 36.4L119.64 37L118 37.88L117 38.51L116 39.17L114.75 40L113.17 41L112 41.68L111 42.22L109.42 43L108 43.64L107 44.05L105 44.76L104 45.06L102 45.58L100.05 46L99 46.21L97 46.57L95 46.83L93.65 47L92 47.26L90 47.63L88.06 48L87 48.19L85 48.48L83 48.65L81 48.66L79 48.41L77.45 48L76 47.44L75 46.94L73.5 46L72.28 45L71.32 44L70.53 43L69.85 42L69 40.62L68.03 39L67.38 38L66.66 37L65.77 36L64.53 35L63 34.13L62 33.67L60.56 33L59 32.19L58 31.58L57 30.86L55.98 30L54.95 29L53.98 28L52.86 27L51 26.29L49 26.02L48.89 25L49 23.95L49.62 22L50 20.2L50.34 19L50.9 17L51.29 16L51.95 14L52.29 13L52.86 11L53.24 10L54 8.11L54.77 7L56 6.38L58 6.18L60 6.15L62 6.12L64 6.1L66 6.08L68 6.05L70 6.03L72 6.01L73 6L75 5.98L77 5.96L79 5.93L81 5.91L83 5.89L85 5.87L87 5.85L89 5.83L91 5.82L93 5.81L95 5.79L97 5.66L99 5.26L100.42 5"/>
<path d="M323.55 267L325 266.9L326.31 267L328 267.36L329.62 268L331 268.74L332 269.41L333 270.17L334 271.05L335 272.03L336 273.11L337 274.27L338 275.43L339 276.54L340 277.58L341 278.59L342 279.65L343 280.81L343.9 282L344.57 283L345.16 284L346 285.6L346.66 287L347.09 288L347.84 290L348.17 291L348.71 293L349 294.3L349.3 296L349.58 298L349.81 300L349.97 302L350.02 303L350.09 305L350.19 307L350.22 309L350.26 311L350.42 313L350.4 315L349.43 316L348 316.25L346 316.53L344 316.79L342.31 317L341 317.08L339 317.2L337 317.32L335 317.45L333 317.78L332 318.04L330 318.42L328 318.67L326 318.84L324 318.95L322.71 319L321 319.05L319 319.11L317 319.16L315 319.21L313 319.26L311 319.31L309 319.36L307 319.47L305 319.72L303 319.94L302 320.03L300 320.18L298 320.33L296 320.46L294 320.57L292 320.62L290 320.6L288 320.53L286 320.45L284 320.35L282 320.25L280 320.19L278 320.24L276 320.28L274 320.25L272 320.21L270 320.12L268.85 320L267 319.47L265.66 319L265.24 317L266 315.18L266.42 314L266.92 312L267.08 311L267.25 309L267.34 307L267.48 305L267.78 303L268 302L268.63 300L269.06 299L270 297.37L271 296.03L271.96 295L273 294.06L274 293.27L275 292.58L276 291.96L277.78 291L279 290.41L280 289.97L282 289.15L283 288.76L284.85 288L286 287.49L287.04 287L288.94 286L290 285.38L291 284.75L292.13 284L293.62 283L295 282.03L296 281.32L297 280.63L298 279.99L299.63 279L301 278.19L302 277.61L303.06 277L304.84 276L306 275.37L307 274.84L308.53 274L310 273.1L311 272.43L312 271.78L313.38 271L315 270.17L316 269.67L317.44 269L319 268.31L320 267.91L322 267.28L323.55 267"/>
<path d="M77.37 273L79 272.58L81 272.44L83 272.67L84.35 273L86 273.52L87.27 274L89 274.7L90 275.14L91.9 276L93 276.57L94 277.15L95.4 278L97 278.86L98 279.33L99.41 280L101 280.77L102 281.27L103.41 282L105 282.83L106 283.36L107.18 284L108.93 285L110 285.67L111 286.32L112.07 287L113.7 288L115 288.78L116 289.34L117.25 290L119 290.81L120 291.23L122 291.99L123 292.34L124.88 293L126 293.4L127.52 294L129 294.64L130 295.13L131.54 296L133 296.97L134 297.75L135 298.67L136 299.76L136.92 301L137.51 302L138 303.01L138.72 305L139 306.07L139.37 308L139.6 310L139.78 312L140 313.67L140.26 315L140.88 317L141.3 318L142 319.48L142.54 321L141.91 322L140 322.65L138.82 323L137 323.25L135 323.49L133 323.7L131 323.88L129.61 324L128 324.1L126 324.22L124 324.33L122 324.43L120 324.51L118 324.58L116 324.63L114 324.65L112 324.64L110 324.61L108 324.57L106 324.53L104 324.49L102 324.44L100 324.4L98 324.35L96 324.3L94 324.25L92 324.2L90 324.15L88 324.09L86 324.03L85 324L83 323.92L81 323.83L79 323.74L77 323.65L75 323.56L73 323.45L71 323.34L69 323.23L67 323.11L65.32 323L64 322.83L62 322.57L60 322.3L58 322.01L57 321.37L56.66 320L56.79 318L56.88 316L56.87 314L56.87 312L56.89 310L56.92 308L56.95 306L57 304.38L57.12 303L57.41 301L57.78 299L58.01 298L58.56 296L59 294.71L59.64 293L60.07 292L61 290.08L61.59 289L62.23 288L63 286.92L64 285.68L65 284.55L66 283.44L67 282.28L68 281.03L68.79 280L69.58 279L70.43 278L71.37 277L72.43 276L73.66 275L75 274.1L76 273.55L77.37 273"/>
<path d="M338.74 0L339 1.29L339.54 3L340 4L340.79 6L341.18 7L341.9 9L342.18 10L342.57 12L343 13.98L343.09 15L343 16.1L341.8 17L340.4 18L339.5 19L338.74 20L337.98 21L337 22.19L336 23.2L335 24.04L333.61 25L332 25.92L331 26.47L330 27.02L328.56 28L327.47 29L326.61 30L325.88 31L325 32.39L324.01 34L323.38 35L322.72 36L321.98 37L321 38.1L320 39.03L318.68 40L317 40.94L316 41.35L314 41.91L313 42.07L311 42.22L309 42.21L307 42.09L306 42L304 41.79L302 41.61L300 41.45L298 41.24L296.35 41L295 40.78L293 40.4L291.28 40L290 39.66L288 39.02L287 38.65L285.45 38L284 37.33L283 36.82L281.53 36L280 35.06L279 34.43L278 33.81L276.57 33L275 32.22L274 31.8L272 31.09L271 30.78L269 30.21L268 29.96L266 29.46L264.13 29L263 28.71L261 28.2L260 27.93L258 27.33L256.98 27L255 26.27L254 25.87L252.09 25L251 24.4L250 23.79L248.93 23L247.98 22L247 20.18L246.67 19L246.41 17L246.25 15L246 13.29L245.69 12L245 10.27L244.31 9L243.59 8L242.47 7L241 6.37L239.98 6L238 5.69L236 5.5L234 5.39L232 5.19L231 4.9L231 3.82L232.76 3L234 2.92L236 2.91L238 2.92L240 2.91L242 2.87L244 2.84L246 2.8L248 2.75L250 2.71L252 2.68L254 2.65L256 2.63L258 2.6L260 2.57L262 2.52L264 2.45L266 2.38L268 2.32L270 2.27L272 2.17L273.11 2L275 1.48L276.85 1L278 0.85L280 0.78L282 0.75L284 0.72L286 0.69L288 0.66L290 0.63L292 0.61L294 0.58L296 0.56L298 0.55L300 0.55L302 0.57L304 0.59L306 0.62L308 0.66L310 0.69L312 0.73L314 0.77L316 0.67L317.43 0"/>
<path d="M143.74 5L145 4.83L147 4.81L149 4.84L151 4.88L153 4.91L155 4.94L157 4.97L158.67 5L160 5.1L162 5.27L164 5.5L166 5.87L166 6.07L164 6.31L162 6.54L160 6.78L158.56 7L157 7.24L155 7.61L153.18 8L152 8.49L150.9 9L149.84 10L149 11.33L148.23 13L147.9 14L147.51 16L147.38 18L147.3 20L147.03 22L146.72 23L146 24.29L145 25.41L144 26.24L142.89 27L141.09 28L140 28.52L138.97 29L137 29.8L136 30.17L134 30.85L133 31.18L131 31.79L130 32.09L128 32.68L126.94 33L125 33.59L123.79 34L122 34.65L121 35.05L119 35.99L118 36.55L117 37.18L115.79 38L114.34 39L113 39.9L112 40.52L111 41.1L109.29 42L108 42.61L107 43.05L105 43.8L104 44.13L102 44.7L100.76 45L99 45.4L97 45.79L95.57 46L94 46.21L92 46.48L90 46.77L88.35 47L87 47.17L85 47.33L83 47.37L81 47.21L79.89 47L78 46.4L77 45.95L75.4 45L74.1 44L73.07 43L72.21 42L71.46 41L70.76 40L70 38.87L69 37.42L68 36.09L67.02 35L66 34.12L65 33.46L64 32.9L62.15 32L61 31.42L60 30.85L58.74 30L57.55 29L56.56 28L55.71 27L54.9 26L54 24.97L52.84 24L51 23.15L50.61 22L50.72 20L51 18.03L51.35 17L51.95 15L52.3 14L52.83 12L53.13 11L53.88 9L54.36 8L55.15 7L57 6.47L59 6.4L61 6.37L63 6.34L65 6.31L67 6.29L69 6.26L71 6.24L73 6.21L75 6.19L77 6.16L79 6.13L81 6.1L83 6.07L85 6.05L87 6.02L88.91 6L90 5.99L92 5.98L94 5.97L96 5.92L98 5.66L100 5.24L102 5.08L104 5.06L106 5.07L108 5.07L110 5.07L112 5.08L114 5.1L116 5.13L118 5.17L120 5.22L122 5.28L124 5.34L126 5.39L128 5.44L130 5.49L132 5.55L134 5.62L136 5.68L138 5.76L140 5.81L142 5.59L143.74 5"/>
<path d="M319.44 272L321 271.59L323 271.33L325 271.45L326.99 272L328 272.44L329.02 273L330.48 274L331.69 275L332.73 276L333.65 277L334.48 278L335.22 279L336 280.09L337 281.42L338 282.74L338.89 284L339.52 285L340.07 286L341 287.95L341.44 289L342 290.62L342.42 292L342.88 294L343.08 295L343.41 297L343.66 299L343.86 301L344 302.59L344.14 304L344.44 306L344.99 308L345.4 309L346 310.21L347 311.95L347.61 313L348.04 314L347.86 315L346 315.83L345 316.09L343 316.36L341 316.61L339 316.85L337.73 317L336 317.11L334 317.3L332 317.74L331 318.02L329 318.32L327 318.53L325 318.67L323 318.77L321 318.84L319 318.92L317 318.99L316 319.02L314 319.08L312 319.13L310 319.18L308 319.25L306 319.43L304 319.69L302 319.87L300.34 320L299 320.11L297 320.26L295 320.39L293 320.47L291 320.48L289 320.43L287 320.35L285 320.25L283 320.14L281 320.04L279 320.02L277 320.08L275 320.05L273.41 320L272 319.93L270 319.7L268 319.19L267 318.41L266.89 317L267.28 316L267.97 314L268.22 313L268.5 311L268.59 309L268.61 307L268.7 305L268.96 303L269.17 302L269.82 300L270.27 299L271 297.76L272 296.46L273 295.44L274 294.58L275 293.86L276.43 293L278 292.21L279 291.78L281 291.04L282 290.71L284 290.07L285 289.73L287 289L288 288.59L289.28 288L291 287.08L292 286.46L293 285.82L294.26 285L295.76 284L297 283.17L298 282.55L299 281.97L300.79 281L302 280.35L303 279.82L304.57 279L306 278.25L307 277.73L308.38 277L310 276.06L311 275.43L312 274.83L313.74 274L315 273.51L316.44 273L318 272.45L319.44 272"/>
<path d="M80.46 277L82 276.8L84 276.91L85 277.08L87 277.57L88.47 278L90 278.47L91.57 279L93 279.58L94 280.1L95.63 281L97 281.69L98 282.16L99.81 283L101 283.56L102 284.03L104 284.97L105 285.45L106.15 286L108 286.94L109 287.51L110 288.12L111.46 289L113 289.91L114 290.49L115 291.04L117 292L118 292.4L119.69 293L121 293.4L123 293.97L124 294.23L126 294.81L127 295.13L129 295.91L130 296.38L131.14 297L132.65 298L133.86 299L134.84 300L135.64 301L136.28 302L137 303.51L137.53 305L137.99 307L138.14 308L138.32 310L138.43 312L138.61 314L139 315.98L139.3 317L140 318.75L140.56 320L140.1 322L139 322.36L137 322.94L136 323.1L134 323.34L132 323.55L130 323.74L128 323.91L126.93 324L125 324.12L123 324.23L121 324.33L119 324.41L117 324.48L115 324.51L113 324.51L111 324.49L109 324.45L107 324.41L105 324.37L103 324.32L101 324.27L99 324.22L97 324.17L95 324.12L93 324.06L91 324.01L90 323.97L88 323.89L86 323.81L84 323.73L82 323.64L80 323.55L78 323.46L76 323.35L74 323.25L72 323.13L70 323.01L69 322.91L67 322.66L65 322.41L63 322.13L62 321.98L60 321.1L59.56 320L60 318.92L61 317L61.47 316L62 314.58L62.42 313L62.69 311L62.8 309L62.89 307L63 305.18L63.09 304L63.3 302L63.59 300L63.99 298L64.23 297L64.85 295L65.22 294L66 292.19L66.59 291L67.17 290L68 288.72L69 287.28L69.87 286L70.52 285L71.2 284L72 282.92L73 281.74L74 280.7L75 279.8L76.04 279L77.68 278L79 277.4L80.46 277"/>
<path d="M338.48 0L338.93 2L339.27 3L340 4.76L340.43 6L341 7.49L341.41 9L341.84 11L341.81 13L341 14.43L340 15.32L339 16.44L338 17.86L337.27 19L336.6 20L335.84 21L334.95 22L333.85 23L332.48 24L331 24.91L330 25.5L329 26.11L327.74 27L326.61 28L325.68 29L324.87 30L324 31.18L323 32.59L322 33.96L321.21 35L320.38 36L319.45 37L318.34 38L317 38.99L316 39.57L315 40.04L313 40.67L311.12 41L310 41.11L308 41.18L306 41.14L304 41.03L303 40.96L301 40.82L299 40.63L297 40.35L295.09 40L294 39.78L292 39.31L290.85 39L289 38.43L287.82 38L286 37.25L285 36.78L283.5 36L282 35.12L281 34.48L280 33.82L278.73 33L277.09 32L276 31.4L275 30.92L273 30.05L272 29.64L270.3 29L269 28.52L267.37 28L266 27.55L264.28 27L263 26.56L261.36 26L260 25.45L258.92 25L257 24.02L256 23.39L255 22.67L254 21.8L253 20.62L252.09 19L251.74 18L251.32 16L251.01 14L250.82 13L250.29 11L249.92 10L249 8.15L248.06 7L247 6.34L246 5.86L244 5.25L243 5L241 4.44L239 4.12L237 4.04L235 4.04L233.8 4L235 3.96L237 3.97L239 3.92L241 3.77L243 3.59L245 3.41L247 3.24L249 3.1L250.49 3L252 2.97L254 2.93L256 2.9L258 2.87L260 2.84L262 2.78L264 2.7L266 2.63L268 2.56L270 2.5L272 2.4L274 2.01L275 1.71L277 1.23L279 1.1L281 1.07L283 1.04L285 1.01L286 0.99L288 0.96L290 0.93L292 0.91L294 0.88L296 0.86L298 0.85L300 0.85L302 0.87L304 0.9L306 0.93L308 0.97L309.67 1L311 1.02L313 1.06L315 1.07L316.05 1L317.92 0"/>
<path d="M96.99 6L98 5.84L100 5.43L102 5.27L104 5.26L106 5.27L108 5.27L110 5.28L112 5.29L114 5.31L116 5.34L118 5.39L120 5.44L122 5.51L124 5.57L126 5.62L128 5.68L130 5.75L132 5.81L134 5.89L136 5.96L137 6.01L139 6.21L141 6.23L142 5.98L144 5.51L146 5.27L148 5.38L150 5.56L152 5.76L154 5.98L154 6.04L152 6.49L150.4 7L149 7.38L147.12 8L146 8.66L145 9.55L144.09 11L143.67 12L143.04 14L142.83 15L142.55 17L142.33 19L142 20.69L141.57 22L141 23.07L140 24.35L139 25.32L138 26.11L136.66 27L135 27.9L134 28.37L132.61 29L131 29.63L130 30.03L128 30.77L127 31.14L125 31.91L124 32.31L122.47 33L121 33.66L120 34.15L118.42 35L117 35.86L116 36.54L115 37.25L113.97 38L112.56 39L111 40L110 40.58L109 41.12L107.16 42L106 42.49L104.65 43L103 43.55L101.42 44L100 44.38L98 44.84L97 45.04L95 45.38L93 45.63L91 45.85L89.59 46L88 46.14L86 46.23L84 46.18L82.4 46L81 45.72L79 45.02L78 44.51L77 43.9L75.81 43L74.72 42L73.77 41L72.91 40L72 38.88L71 37.61L70 36.35L69 35.16L68 34.13L67 33.27L66 32.56L65 31.95L63.22 31L62 30.33L61 29.72L59.99 29L58.85 28L57.92 27L57 25.81L56 24.42L55 23.1L54 22.03L53 21.22L52 20.33L51.7 19L51.87 17L52.09 16L52.67 14L53 12.46L53.46 11L54 9.39L54.67 8L55.71 7L57 6.71L59 6.63L61 6.6L63 6.57L65 6.54L67 6.51L69 6.48L71 6.46L73 6.43L75 6.4L77 6.37L79 6.34L81 6.31L83 6.28L85 6.25L87 6.22L89 6.2L91 6.18L93 6.16L95 6.14L96.99 6"/>
<path d="M318.05 276L320 275.53L322 275.28L324 275.4L326 275.96L327 276.4L328.06 277L329.45 278L330.59 279L331.55 280L332.36 281L333.06 282L334 283.58L334.78 285L335.3 286L336 287.52L336.62 289L337 290.11L337.53 292L337.94 294L338.11 295L338.4 297L338.66 299L338.92 301L339.04 302L339.32 304L339.68 306L340 307.17L340.73 309L341.26 310L342 311.18L343 312.65L343.81 314L343 315.34L341.49 316L340 316.2L338 316.45L336 316.69L334.21 317L333 317.19L331 317.68L329.66 318L328 318.2L326 318.38L324 318.5L322 318.58L320 318.67L318 318.75L316 318.82L314 318.89L312 318.96L310.91 319L309 319.06L307 319.17L305 319.41L303 319.63L301 319.79L299 319.96L298 320.04L296 320.18L294 320.3L292 320.35L290 320.32L288 320.25L286 320.15L284 320.04L283 319.98L281 319.84L279 319.79L277 319.83L275 319.75L273 319.59L271 319.37L269.29 319L268.38 318L268.87 316L269.21 315L269.71 313L269.92 311L269.91 309L269.85 307L269.87 305L270 303.68L270.3 302L270.97 300L271.46 299L272.09 298L273 296.88L274 295.92L275.21 295L276.9 294L278 293.48L279.26 293L281 292.45L282.73 292L284 291.68L286 291.16L287 290.86L289 290.14L290 289.7L291.41 289L293 288.07L294 287.45L295 286.82L296.36 286L298 285.03L299 284.48L300 283.98L302 283.01L303 282.53L304.11 282L306 281.08L307 280.6L308.2 280L310 279.02L311 278.43L312 277.87L314 277.03L315 276.76L317 276.28L318.05 276"/>
<path d="M81.19 281L83 280.71L85 280.78L86.4 281L88 281.33L90 281.74L91.21 282L93 282.56L94 283L95.96 284L97 284.52L98.04 285L100 285.85L101 286.28L102.67 287L104 287.57L105.02 288L107 288.87L108 289.36L109.21 290L111 290.98L112 291.54L113 292.11L114.71 293L116 293.58L117.07 294L119 294.61L120.56 295L122 295.3L124 295.7L125.33 296L127 296.43L128.62 297L130 297.6L131 298.15L132.25 299L133.42 300L134.34 301L135.05 302L136 303.88L136.39 305L136.84 307L137 308.45L137.08 310L137.11 312L137.2 314L137.5 316L138 317.73L138.49 319L139 320.53L139 321.12L138 322.1L136 322.67L134.71 323L133 323.2L131 323.42L129 323.61L127 323.79L125 323.95L124 324.02L122 324.13L120 324.23L118 324.31L116 324.36L114 324.38L112 324.37L110 324.34L108 324.29L106 324.25L104 324.2L102 324.15L100 324.1L98 324.04L96.47 324L95 323.95L93 323.88L91 323.8L89 323.72L87 323.64L85 323.55L83 323.46L81 323.36L79 323.26L77 323.16L75 323.05L74 322.98L72 322.75L70 322.51L68 322.26L66.08 322L65 321.52L63.83 321L64 319.5L64.87 318L65.47 317L66.01 316L66.83 314L67.11 313L67.46 311L67.66 309L67.83 307L67.99 305L68.07 304L68.26 302L68.48 300L68.81 298L69.02 297L69.59 295L70 293.85L70.76 292L71.22 291L72 289.4L72.74 288L73.36 287L74.08 286L75 284.93L76 283.94L77.14 283L78.69 282L80 281.37L81.19 281"/>
<path d="M338.22 0L338.59 2L339 3.02L339.68 5L340.07 6L340.61 8L340.97 10L340.3 12L339.38 13L338.47 14L337.7 15L337 16.07L336 17.78L335.27 19L334.59 20L333.78 21L332.78 22L331.54 23L330.07 24L329 24.69L328 25.37L327 26.11L325.96 27L324.96 28L324 29.08L323 30.28L322 31.51L321 32.71L320 33.87L319 34.97L318 35.99L317 36.89L316 37.66L315 38.31L313.62 39L312 39.57L310.01 40L309 40.14L307 40.29L305 40.32L303 40.26L301 40.14L299.55 40L298 39.79L296 39.43L294.1 39L293 38.73L291 38.17L290 37.85L288 37.13L287 36.71L285.48 36L284 35.2L283 34.59L282 33.94L280.63 33L279.18 32L278 31.22L277 30.61L275.88 30L274 29.02L273 28.49L272 28L270 27.01L269 26.55L267.67 26L266 25.27L265 24.83L263.26 24L262 23.3L261 22.68L260 21.98L258.88 21L257.98 20L257 18.5L256.3 17L255.95 16L255.38 14L255 12.6L254.53 11L254 9.5L253.36 8L252.74 7L251.62 6L250 5.19L249 4.43L249 3.94L251 3.75L253 3.59L255 3.47L257 3.36L259 3.27L261 3.15L262.96 3L264 2.95L266 2.87L268 2.8L270 2.73L272 2.63L274 2.28L275 1.94L277 1.49L279 1.36L281 1.32L283 1.29L285 1.26L287 1.24L289 1.21L291 1.18L293 1.16L295 1.14L297 1.13L299 1.13L301 1.14L303 1.15L305 1.18L307 1.21L309 1.25L311 1.28L313 1.32L315 1.34L317 1.09L318 0.43L318.34 0"/>
<path d="M98.06 6L100 5.62L102 5.47L104 5.46L106 5.47L108 5.48L110 5.48L112 5.5L114 5.52L116 5.56L118 5.6L120 5.66L122 5.73L124 5.8L126 5.86L128 5.92L130 6L131 6.07L133 6.24L135 6.42L137 6.64L139 6.88L140.03 7L141.32 8L140.73 9L140 10.51L139.45 12L139 13.49L138.62 15L138.17 17L137.94 18L137.36 20L136.95 21L136 22.63L135 23.87L134 24.82L133 25.6L132 26.28L130.84 27L129 27.99L128 28.47L126.94 29L125 29.93L124 30.43L122.98 31L121.23 32L120 32.68L119 33.26L117.79 34L116.29 35L115 35.93L114 36.69L113 37.45L112 38.19L110.82 39L109.18 40L108 40.63L107 41.11L105 41.96L104 42.33L102 43L101 43.3L99 43.85L98 44.1L96 44.52L94 44.82L92.37 45L91 45.12L89 45.24L87 45.26L85 45.13L84 44.99L82 44.54L80.53 44L79 43.2L78 42.53L77 41.74L76 40.84L75 39.86L74 38.82L73 37.74L72 36.63L71 35.52L70 34.44L69 33.46L68 32.59L67 31.83L65.72 31L64.02 30L63 29.37L62 28.7L61 27.91L60 26.95L59 25.73L58 24.27L57.18 23L56.5 22L55.74 21L54.83 20L53.76 19L52.94 18L52.78 16L53 14.35L53.32 13L53.79 11L54.11 10L54.97 8L56 7.21L57 6.94L59 6.86L61 6.83L63 6.79L65 6.76L67 6.73L69 6.7L71 6.67L73 6.64L75 6.61L77 6.58L79 6.55L81 6.52L83 6.48L85 6.45L87 6.42L89 6.4L91 6.38L93 6.36L95 6.34L97 6.21L98.06 6"/>
<path d="M320.01 279L322 278.89L323.13 279L325 279.48L326.15 280L327.7 281L328.85 282L329.75 283L330.48 284L331.08 285L331.97 287L332.32 288L332.9 290L333.14 291L333.52 293L333.79 295L334 296.82L334.13 298L334.33 300L334.55 302L334.83 304L335.01 305L335.56 307L336 308.12L336.98 310L337.63 311L338.34 312L339.09 313L339.75 315L338 315.75L337 316.05L335 316.32L333 316.78L332 317.09L330 317.55L328 317.95L327 318.07L325 318.22L323 318.32L321 318.41L319 318.49L317 318.58L315 318.65L313 318.73L311 318.8L309 318.88L307.2 319L306 319.12L304 319.37L302 319.55L300 319.71L298 319.88L296.63 320L295 320.11L293 320.2L291 320.21L289 320.15L287 320.06L285.87 320L284 319.87L282 319.71L280 319.58L278 319.56L276 319.5L274 319.32L272 319.07L271 318.7L270.14 317L270.76 315L271.02 314L271.3 312L271.29 310L271.13 308L271.01 306L271.07 304L271.4 302L272 300.27L272.66 299L273.39 298L274.36 297L275.64 296L277 295.19L278 294.73L280 294.05L281 293.79L283 293.38L285 293.04L286 292.84L288 292.34L289.03 292L291 291.19L292 290.71L293.31 290L295 289.03L296 288.47L297 287.95L298.92 287L300 286.51L301.17 286L303 285.19L304 284.75L305.68 284L307 283.43L308 282.99L310 282.05L311 281.52L312.02 281L314 280.28L315.21 280L317 279.64L319 279.18L320.01 279"/>
<path d="M80.82 285L82 284.59L84 284.27L86 284.35L88 284.69L89.71 285L91 285.2L93 285.65L94 286.02L96 286.96L97 287.41L98.51 288L100 288.57L101.11 289L103 289.75L104 290.14L106 290.89L107 291.29L108.63 292L110 292.63L111 293.12L112.68 294L114 294.64L115 295.09L117 295.83L118 296.12L120 296.56L122 296.84L123.21 297L125 297.26L127 297.69L128.02 298L130 298.83L131 299.4L132 300.12L133 301.03L134 302.29L134.92 304L135.28 305L135.72 307L135.87 309L135.85 311L135.78 313L135.85 315L136 316.02L136.52 318L137 319.31L137.41 321L136.52 322L135 322.43L133 322.92L132 323.08L130 323.29L128 323.49L126 323.67L124 323.83L122 323.98L121 324.04L119 324.13L117 324.2L115 324.24L113 324.25L111 324.22L109 324.18L107 324.13L105 324.08L103 324.03L102 324L100 323.93L98 323.86L96 323.79L94 323.71L92 323.63L90 323.55L88 323.46L86 323.37L84 323.28L82 323.18L80 323.08L78.61 323L77 322.83L75 322.61L73 322.37L71 322.12L70 321.98L68 321.12L67.7 320L68.29 319L69 317.94L70 316.32L70.69 315L71.11 314L71.69 312L72 310.23L72.14 309L72.29 307L72.4 305L72.52 303L72.65 301L72.84 299L73 297.69L73.28 296L73.76 294L74.07 293L74.84 291L75.35 290L76 288.97L77 287.73L78 286.75L79 285.98L80.82 285"/>
<path d="M337.93 0L338.05 1L338.53 3L339 4.17L339.49 6L339.89 8L339.3 10L338.4 11L337.48 12L336.7 13L336 14.07L335 15.9L334.44 17L333.91 18L333 19.44L332 20.69L331 21.68L330 22.51L329 23.26L327.97 24L326.64 25L325.44 26L324.37 27L323.4 28L322.47 29L321.56 30L320.64 31L319.71 32L318.75 33L317.78 34L316.76 35L315.65 36L314.32 37L313 37.77L312 38.23L310 38.89L309 39.11L307 39.41L305 39.55L303 39.57L301 39.48L299 39.26L297.51 39L296 38.68L294 38.18L293 37.91L291 37.3L290 36.96L288 36.19L287 35.74L285.53 35L284 34.09L283 33.41L282 32.7L281 31.97L279.67 31L278.25 30L277 29.17L276 28.52L275 27.9L273.65 27L272.23 26L271 25.16L270 24.54L269 23.97L267.38 23L266 22.09L265 21.36L264 20.54L263 19.61L262 18.49L261 17.06L260.42 16L259.96 15L259.18 13L258.83 12L258.12 10L257.75 9L257 7.27L256.15 6L255.19 5L256.63 4L258 3.9L260 3.76L262 3.59L264 3.4L266 3.22L268 3.06L269 3L271 2.92L273 2.76L275 2.24L276 1.92L278 1.66L280 1.6L282 1.57L284 1.53L286 1.5L288 1.47L290 1.45L292 1.42L294 1.4L296 1.38L298 1.37L300 1.38L302 1.39L304 1.42L306 1.45L308 1.48L310 1.52L312 1.56L314 1.61L316 1.58L317.93 1L318.74 0"/>
<path d="M98.94 6L100 5.81L102 5.67L104 5.66L106 5.67L108 5.68L110 5.69L112 5.7L114 5.73L116 5.77L118 5.82L120 5.88L122 5.95L123.28 6L125 6.11L127 6.25L129 6.4L131 6.58L133 6.78L134.97 7L136 7.52L136.66 9L136 10.74L135.57 12L135 13.86L134.66 15L134.02 17L133.66 18L133 19.51L132.15 21L131.41 22L130.53 23L129.5 24L128.3 25L127 25.96L126 26.62L125 27.28L123.92 28L122.51 29L121.19 30L120 30.9L119 31.61L118 32.32L117 33.04L115.7 34L114.43 35L113.19 36L112 36.95L111 37.71L110 38.41L109 39.05L107.28 40L106 40.61L105 41.04L103 41.81L102 42.16L100 42.8L99 43.09L97 43.61L95.06 44L94 44.16L92 44.35L90 44.44L88 44.4L86 44.21L84.82 44L83 43.51L81.72 43L80 42.05L79 41.34L78 40.53L77 39.64L76 38.71L75 37.76L74 36.79L73 35.8L72 34.79L71 33.8L70 32.86L69 31.98L67.72 31L66.26 30L65 29.17L64 28.48L63 27.72L62 26.82L61 25.68L60 24.24L59.26 23L58.7 22L58 20.83L57 19.39L56 18.24L55 17.27L54 16.1L53.78 15L53.84 13L54 11.76L54.56 10L55 8.73L56 7.64L58 7.22L60 7.14L62 7.07L64 7.01L65 6.99L67 6.96L69 6.93L71 6.89L73 6.86L75 6.83L77 6.8L79 6.76L81 6.72L83 6.69L85 6.66L87 6.63L89 6.6L91 6.57L93 6.56L95 6.54L97 6.42L98.94 6"/>
<path d="M317.66 283L319 282.67L321 282.42L323 282.59L324.27 283L325.94 284L326.95 285L327.67 286L328.22 287L328.99 289L329.25 290L329.64 292L329.89 294L330 295.09L330.17 297L330.33 299L330.49 301L330.67 303L330.95 305L331.16 306L331.81 308L332.29 309L333 310.2L334 311.61L335 312.91L335.77 314L335 315.36L333.83 316L332 316.5L330.84 317L329 317.35L327 317.7L325 317.98L324 318.04L322 318.14L320 318.24L318 318.32L316 318.41L314 318.49L312 318.57L310 318.65L308 318.74L306 318.96L305 319.1L303 319.32L301 319.48L299 319.64L297 319.81L295 319.97L294 320.03L292 320.08L290 320.05L288.72 320L287 319.9L285 319.76L283 319.59L281 319.43L279 319.33L277 319.27L275 319.09L274 318.91L272 318.04L271.79 317L272.04 316L272.55 314L272.76 312L272.65 310L272.38 308L272.17 306L272.18 304L272.51 302L273 300.61L273.93 299L274.83 298L276 297.05L277 296.45L278 295.97L280 295.32L281.54 295L283 294.78L285 294.57L287 294.28L288.22 294L290 293.44L291.14 293L293 292.17L294 291.67L295.33 291L297 290.21L298 289.79L299.94 289L301 288.59L302.54 288L304 287.41L305.05 287L307 286.27L308 285.92L310 285.21L311 284.82L313 284.14L314 283.94L316 283.48L317.66 283"/>
<path d="M83 288L84 287.82L86 287.82L87.22 288L89 288.39L91 288.83L92.11 289L94 289.39L95.8 290L97 290.38L99 290.98L100 291.3L102 291.97L103 292.32L105 292.99L106 293.32L107.93 294L109 294.39L110.49 295L112 295.67L113 296.12L115 296.94L116 297.28L118 297.84L119 298.03L121 298.26L123 298.38L125 298.57L127 298.94L128 299.22L129.86 300L131 300.7L132 301.53L133 302.69L133.76 304L134.16 305L134.61 307L134.72 309L134.61 311L134.43 313L134.4 315L134.68 317L135 318.17L135.62 320L135 321.75L134 322.2L132 322.69L130.63 323L129 323.18L127 323.38L125 323.56L123 323.72L121 323.87L119 323.99L118 324.03L116 324.09L114 324.12L112 324.1L110 324.07L108 324.02L107 323.99L105 323.92L103 323.85L101 323.78L99 323.71L97 323.63L95 323.55L93 323.47L91 323.39L89 323.3L87 323.2L85 323.1L83 323L82 322.9L80 322.69L78 322.47L76 322.25L74 322L73 321.6L71.56 321L72 319.27L72.89 318L73.57 317L74.19 316L75 314.38L75.5 313L75.93 311L76.05 310L76.18 308L76.26 306L76.33 304L76.41 302L76.5 300L76.64 298L76.91 296L77.12 295L77.73 293L78.18 292L79 290.7L80 289.6L81 288.84L83 288"/>
<path d="M337.47 0L337.79 2L338.08 3L338.51 5L338.56 7L338 8.11L337 9.12L336 10.2L335 11.57L334.2 13L333.73 14L333 15.69L332.43 17L331.93 18L331 19.46L330 20.66L329 21.63L328 22.48L327 23.29L326 24.1L324.94 25L323.84 26L322.81 27L321.82 28L320.84 29L319.84 30L318.83 31L317.81 32L316.79 33L315.75 34L314.65 35L313.36 36L312 36.85L311 37.34L309.24 38L308 38.33L306 38.68L304 38.86L302 38.87L300 38.71L298 38.39L296.28 38L295 37.66L293 37.08L292 36.75L290 36.05L289 35.65L287.53 35L286 34.2L285 33.58L284 32.9L282.79 32L281.52 31L280.26 30L279 29L278 28.22L277 27.42L276 26.58L275 25.64L274 24.6L273 23.54L272 22.54L271 21.62L270 20.76L269 19.9L268 19L266.97 18L266 16.94L265 15.67L264 14.16L263.36 13L262.87 12L262.01 10L261.61 9L261 7.47L260.4 6L261 4.74L262.97 4L264 3.89L266 3.69L268 3.51L270 3.36L272 3.18L273 3L275 2.55L277 2.01L278 1.92L280 1.86L282 1.82L284 1.79L286 1.76L288 1.73L290 1.7L292 1.67L294 1.65L296 1.63L298 1.62L300 1.62L302 1.64L304 1.67L306 1.7L308 1.74L310 1.78L312 1.83L314 1.87L316 1.86L318 1.38L319 0.31L319.18 0"/>
<path d="M100.02 6L102 5.87L104 5.86L106 5.87L108 5.88L110 5.89L112 5.91L114 5.94L116 5.98L117 6.01L119 6.12L121 6.25L123 6.4L125 6.54L127 6.7L129 6.88L130.18 7L132 7.69L132.78 9L132.12 11L131.78 12L131.06 14L130.67 15L130 16.51L129.19 18L128.55 19L127.83 20L127 21L126 22.09L125 23.08L124 24.03L122.98 25L121.99 26L121 27.08L120 28.24L119 29.36L118 30.37L117 31.28L116 32.14L115 33L113.85 34L112.71 35L111.55 36L110.31 37L109 37.95L108 38.57L107 39.14L105.24 40L104 40.53L102.83 41L101 41.67L100 42.01L98 42.62L96.59 43L95 43.34L93 43.6L91 43.7L89 43.63L87 43.39L85.24 43L84 42.6L82.62 42L81 41.06L80 40.33L79 39.51L78 38.64L77 37.75L76 36.85L75 35.96L73.95 35L72.87 34L71.8 33L70.68 32L69.5 31L68.21 30L67 29.11L66 28.37L65 27.58L64 26.7L63 25.6L62 24.18L61.34 23L60.84 22L60 20.25L59.33 19L58.7 18L57.95 17L57 15.97L55.94 15L55 13.86L54.76 12L55 10.13L55.47 9L56.24 8L58 7.66L60 7.57L62 7.49L64 7.42L66 7.36L68 7.29L70 7.23L72 7.17L74 7.11L76 7.05L77.4 7L79 6.97L81 6.93L83 6.9L85 6.86L87 6.83L89 6.8L91 6.77L93 6.75L95 6.73L97 6.63L99 6.25L100.02 6"/>
<path d="M318.98 287L320 286.88L321.62 287L323 287.65L324 288.85L324.49 290L325 291.71L325.28 293L325.67 295L326 296.78L326.19 298L326.46 300L326.7 302L326.94 304L327.07 305L327.46 307L328 308.52L328.77 310L329.45 311L330.23 312L331.07 313L332 314.36L332 315.17L331 316.1L329 316.88L328 317.12L326 317.42L324 317.65L322 317.85L320.41 318L319 318.07L317 318.16L315 318.25L313 318.33L311 318.41L309 318.5L307 318.63L305 318.92L304 319.06L302 319.24L300 319.4L298 319.57L296 319.74L294 319.88L292 319.94L290 319.89L288 319.79L286 319.65L284 319.49L282 319.31L280 319.15L278 319.05L277 318.97L275 318.46L273.84 318L273.63 316L274 314.38L274.19 313L274.15 311L274 309.93L273.64 308L273.34 306L273.3 304L273.64 302L274 301L275 299.43L276 298.45L277 297.76L278.65 297L280 296.59L282 296.25L284 296.11L285.85 296L287 295.87L289 295.46L290.52 295L292 294.47L293.19 294L295 293.23L296 292.82L298 292.08L299 291.71L300.93 291L302 290.64L304 290.04L305 289.74L307 289.18L308 288.92L310 288.45L312 288.05L313 287.95L315 287.87L317 287.47L318.98 287"/>
<path d="M83.21 293L85 292.26L87 292.26L89 292.64L90.8 293L92 293.12L94 293.12L96 293.31L98 293.66L99.63 294L101 294.32L103 294.82L104 295.08L106 295.66L107.08 296L109 296.59L110.24 297L112 297.64L113 298.01L115 298.7L116 299L118 299.47L120 299.72L122 299.78L124 299.81L126 300L127 300.19L129 300.85L130 301.38L131 302.1L132 303.17L133 304.98L133.3 306L133.56 308L133.49 310L133.22 312L133 313.8L132.94 315L133 316.04L133.37 318L133.99 320L134.04 321L133 321.96L132 322.24L130 322.71L128.62 323L127 323.17L125 323.36L123 323.53L121 323.69L119 323.82L117 323.92L115 323.97L113 323.98L111 323.94L109 323.88L107 323.82L105 323.75L103 323.67L101 323.6L99 323.52L97 323.44L95 323.36L93 323.27L91 323.18L89 323.08L87.32 323L86 322.87L84 322.67L82 322.46L80 322.24L78 322.01L77 321.65L75.36 321L76 319.04L76.8 318L77.53 317L78.18 316L79 314.33L79.44 313L79.79 311L79.96 309L80.03 308L80.17 306L80.35 304L80.58 302L80.84 300L81 298.94L81.35 297L81.88 295L82.36 294L83.21 293"/>
<path d="M336.99 0L337.03 1L337.19 3L337 5L336.14 6L335.07 7L334.15 8L333.41 9L332.84 10L332 12L331.67 13L331.06 15L330.73 16L330 17.76L329.31 19L328.59 20L327.7 21L326.66 22L325.54 23L324.41 24L323.31 25L322.26 26L321.22 27L320.19 28L319.15 29L318.09 30L317.02 31L316 31.96L315 32.91L314 33.84L313 34.68L312 35.41L311 36.04L309 36.99L308 37.34L306 37.85L305 38.02L303 38.19L301 38.14L299.74 38L298 37.67L296 37.16L295 36.87L293 36.22L292 35.87L290 35.11L289 34.68L287.6 34L286 33.07L285 32.37L284 31.59L283 30.77L282 29.9L280.98 29L279.87 28L278.8 27L277.82 26L276.97 25L276 23.64L275 22.07L274.31 21L273.63 20L272.9 19L272 17.88L271 16.73L270 15.61L269 14.45L268 13.18L267.18 12L266.57 11L266 9.97L265.06 8L264.64 7L264.55 5L266 4.48L267.56 4L269 3.87L271 3.71L273 3.45L274.43 3L276 2.6L278 2.29L280 2.19L282 2.12L284 2.07L286 2.02L287 1.99L289 1.96L291 1.93L293 1.91L295 1.89L297 1.87L299 1.87L301 1.88L303 1.9L305 1.94L307 1.97L308.21 2L310 2.06L312 2.13L314 2.21L316 2.22L317.29 2L319 1.13L319.67 0"/>
<path d="M88.79 7L90 6.98L92 6.96L94 6.94L96 6.91L98 6.71L100 6.3L102 6.11L104 6.1L106 6.12L108 6.15L110 6.17L112 6.21L114 6.27L116 6.35L118 6.45L120 6.58L122 6.73L124 6.89L125.31 7L127 7.46L128.66 8L128.71 10L128 11.84L127.5 13L127 14.04L126 15.8L125.2 17L124.45 18L123.66 19L122.85 20L122 21.05L121 22.39L120 23.91L119.37 25L118.81 26L118 27.37L117 28.86L116.08 30L115.16 31L114.17 32L113.16 33L112.12 34L111.06 35L110 35.93L109 36.73L108 37.45L107 38.08L105.28 39L104 39.59L103 40.03L101 40.82L100 41.19L98 41.87L97 42.17L95 42.65L93 42.93L91 42.98L89 42.81L87 42.43L85.56 42L84 41.35L83 40.82L81.72 40L80.42 39L79.25 38L78.1 37L77 36.06L76 35.21L75 34.35L74 33.47L73 32.59L72 31.7L71 30.83L70 29.99L68.77 29L67.54 28L66.39 27L65.41 26L64.61 25L63.97 24L63.03 22L62.65 21L62 19.15L61.56 18L61 16.76L60 15.12L59.06 14L58 13.01L57 12.16L56.19 11L56.45 9L58 8.29L59.85 8L61 7.95L63 7.88L65 7.8L67 7.73L69 7.66L71 7.59L73 7.53L75 7.46L77 7.39L79 7.32L81 7.25L83 7.18L85 7.11L87 7.05L88.79 7"/>
<path d="M308.3 292L310 291.87L311.86 292L313 292.34L314.57 293L316 293.57L317.01 294L318.49 295L319.41 296L320.07 297L321 298.93L321.4 300L322 301.84L322.32 303L322.83 305L323.1 306L323.74 308L324.18 309L325 310.4L326 311.76L327 312.93L327.96 314L328.65 315L328 316.14L326 316.97L325 317.11L323 317.33L321 317.53L319 317.72L317 317.91L315.97 318L314 318.09L312 318.18L310 318.26L308 318.36L306 318.56L304 318.87L303 319L301 319.16L299 319.33L297 319.5L295 319.65L293 319.76L291 319.76L289 319.68L287 319.55L285 319.39L283 319.21L281 319.02L280 318.87L278 318.59L276 318.1L275.11 317L275.42 315L275.69 313L275.59 311L275.17 309L274.93 308L274.54 306L274.47 304L274.86 302L275.33 301L276.07 300L277.3 299L279 298.19L280 297.91L282 297.61L284 297.54L286 297.48L288 297.25L289.22 297L291 296.52L292.66 296L294 295.55L295.64 295L297 294.56L298.79 294L300 293.6L302 293L303 292.78L305 292.45L307 292.15L308.3 292"/>
<path d="M94.5 297L96 296.75L98 296.77L100 296.93L101 297.04L103 297.28L105 297.65L106.32 298L108 298.45L110 298.97L111 299.25L113 299.83L114 300.11L116 300.63L117.84 301L119 301.16L121 301.24L123 301.19L125 301.21L127 301.49L128.55 302L130 302.83L131 303.8L131.74 305L132.11 306L132.38 308L132.26 310L132 311.54L131.71 313L131.49 315L131.62 317L132 318.69L132.36 320L132 321.33L131 322.05L129 322.51L127 322.93L126 323.07L124 323.26L122 323.43L120 323.58L118 323.71L116 323.79L114 323.82L112 323.8L110 323.75L108 323.68L106 323.61L104 323.53L102 323.45L100 323.37L98 323.29L96 323.2L94 323.11L92 323.02L91 322.95L89 322.76L87 322.56L85 322.35L83 322.13L81.8 322L80 321.32L79.17 320L80 318.86L81 317.59L82 316.15L82.65 315L83.09 314L83.71 312L84 310.69L84.35 309L84.81 307L85.07 306L85.72 304L86.13 303L87 301.38L88 300.17L89 299.4L90 298.86L92 298.01L93 297.56L94.5 297"/>
<path d="M335.5 0L335 1.65L334 2.63L333 3.49L332 4.46L331 5.7L330.26 7L329.86 8L329.38 10L329.13 12L329 13.13L328.72 15L328.19 17L327.79 18L327 19.36L326 20.67L325 21.76L324 22.76L323 23.72L322 24.68L321 25.65L320 26.61L319 27.55L318 28.48L317 29.39L316 30.31L315 31.23L314 32.17L313 33.08L311.9 34L310.49 35L309 35.84L308 36.29L306 36.98L305 37.2L303 37.46L301 37.45L299 37.16L298 36.93L296 36.36L294.87 36L293 35.33L292 34.96L290 34.12L289 33.64L287.8 33L286.27 32L285 31.01L284 30.12L283 29.17L282 28.18L281 27.14L280 26.01L279.2 25L278.51 24L277.92 23L277 21.18L276.42 20L275.93 19L275 17.27L274.23 16L273.58 15L272.91 14L272 12.64L271 11.1L270.32 10L269.75 9L269 7.58L268.38 6L269 4.94L271 4.39L272.32 4L274 3.7L275.84 3L277 2.79L279 2.63L281 2.55L283 2.49L285 2.43L287 2.38L289 2.32L291 2.28L293 2.24L295 2.2L297 2.18L299 2.17L301 2.19L303 2.23L305 2.29L307 2.35L309 2.42L311 2.49L313 2.57L315 2.65L317 2.58L318.69 2L319.85 1L320.3 0"/>
<path d="M97.5 7L99 6.77L101 6.48L103 6.44L105 6.46L107 6.49L109 6.52L111 6.55L113 6.61L115 6.68L117 6.78L119 6.9L120.32 7L122 7.38L124 7.89L124.96 9L124.29 11L123.82 12L123 13.58L122.21 15L121.63 16L121 17.01L120 18.65L119.24 20L118.71 21L118 22.44L117.33 24L116.9 25L116 26.94L115.42 28L114.77 29L114 30.03L113 31.23L112 32.35L111 33.42L110 34.44L109 35.37L108 36.2L106.89 37L105.2 38L104 38.6L103 39.08L101 39.94L100 40.34L98.24 41L97 41.4L95 41.94L94 42.12L92 42.26L90 42.13L89 41.97L87 41.43L85.86 41L84 40.05L83 39.42L82 38.69L81 37.88L79.96 37L78.79 36L77.59 35L76.39 34L75.21 33L74.05 32L73 31.08L72 30.2L71 29.32L70 28.43L69 27.52L68 26.52L67 25.34L66.13 24L65.66 23L65.03 21L64.81 20L64.48 18L64.14 16L63.89 15L63.1 13L62.48 12L61.7 11L60.97 10L61.8 9L63 8.84L65 8.6L67 8.37L69 8.16L70.61 8L72 7.95L74 7.88L76 7.8L78 7.73L80 7.65L82 7.57L84 7.5L86 7.43L88 7.37L90 7.31L92 7.27L94 7.24L96 7.19L97.5 7"/>
<path d="M299.18 296L301 295.54L303 295.21L305 295.16L307 295.23L309 295.45L310.74 296L312 296.77L313 297.62L314 298.59L315 299.65L316 300.92L316.71 302L317.27 303L318 304.44L318.72 306L319.19 307L320 308.58L320.84 310L321.53 311L322.31 312L323.17 313L324.07 314L324.91 316L323 316.7L322 317.01L320 317.22L318 317.42L316 317.61L314 317.79L312 317.96L311 318.03L309 318.12L307 318.25L305 318.5L303 318.78L301.06 319L300 319.09L298 319.26L296 319.42L294 319.56L292 319.61L290 319.56L288 319.44L286 319.29L284 319.11L282.85 319L281 318.65L279 318.29L277.68 318L276.75 317L276.95 315L277.1 314L277.15 312L277 310.82L276.57 309L276.01 307L275.82 306L275.74 304L276 302.71L276.96 301L278 300.14L279 299.64L281 299.13L282.7 299L284 298.99L286 298.96L288 298.76L290 298.36L291.49 298L293 297.59L295 297.05L296 296.79L298 296.29L299.18 296"/>
<path d="M98.9 300L100 299.88L102 299.76L104 299.81L105.31 300L107 300.31L109 300.69L110.5 301L112 301.32L114 301.77L115.06 302L117 302.38L119 302.64L121 302.71L123 302.63L125 302.62L127 302.89L128 303.23L129.3 304L130.23 305L131 306.88L131.13 308L131 309.85L130.78 311L130.31 313L130.02 315L130.11 317L130.52 319L130.71 321L129.45 322L128 322.33L126 322.75L124.69 323L123 323.16L121 323.33L119 323.48L117 323.59L115 323.65L113 323.65L111 323.61L109 323.55L107 323.47L105 323.4L103 323.31L101 323.23L99 323.14L97 323.06L95.8 323L94 322.84L92 322.66L90 322.46L88 322.25L86 322.04L85 321.77L83 321.03L82.92 320L83.63 319L84.43 318L85.19 317L86 315.78L87 314L87.47 313L88 311.75L88.72 310L89.14 309L90 307.23L90.72 306L91.43 305L92.25 304L93.14 303L94.1 302L95.43 301L97 300.36L98.9 300"/>
<path d="M325.71 0L325.22 2L324.99 3L324.83 5L325 6.96L325.18 8L325.61 10L326 11.91L326.15 13L326.22 15L326 16.63L325.6 18L325 19.23L324 20.7L323 21.91L322 22.99L321.01 24L320 25L319 25.96L318 26.9L317 27.82L316 28.72L315 29.63L314 30.55L313 31.48L312 32.38L311 33.22L309.96 34L308.34 35L307 35.65L306 36.04L304 36.56L302 36.75L300 36.59L298 36.14L297 35.85L295 35.16L294 34.79L292.04 34L291 33.52L289.91 33L288.17 32L287 31.17L286 30.34L285 29.39L284 28.36L283 27.24L282 26.01L281.26 25L280.62 24L280 22.86L279.15 21L278.75 20L278 18.08L277.56 17L277 15.74L276.15 14L275.64 13L275 11.67L274.26 10L273.85 9L273.03 7L272.75 6L273.23 5L275 4.06L276 3.73L278 3.23L279.79 3L281 2.95L283 2.88L285 2.82L287 2.76L289 2.71L291 2.66L293 2.61L295 2.57L297 2.55L299 2.55L301 2.57L303 2.61L305 2.67L307 2.74L309 2.81L311 2.89L313 2.98L314 3.05L316 3.2L318 3.03L319 2.81L320.38 2L321.15 1L321.59 0"/>
<path d="M99.27 7L101 6.8L103 6.77L105 6.8L107 6.84L109 6.87L111 6.92L113 6.98L114 7.04L116 7.29L118 7.62L119.85 8L120.65 9L120.11 11L119.75 12L119.03 14L118.64 15L118 16.48L117.32 18L116.89 19L116.1 21L115.75 22L115.08 24L114.72 25L114 26.74L113.37 28L112.78 29L112 30.14L111 31.45L110 32.66L109 33.77L108 34.75L107 35.6L106 36.33L104.96 37L103.13 38L102 38.54L101 39.01L99 39.85L98 40.24L96 40.93L95 41.19L93 41.48L91 41.44L89 41.07L88 40.75L86.2 40L85 39.34L84 38.7L83 37.97L81.8 37L80.61 36L79.42 35L78.21 34L77.01 33L76 32.15L75 31.29L74 30.4L73 29.49L72 28.55L71 27.56L70 26.46L69 25.15L68.35 24L67.95 23L67.53 21L67.49 19L67.71 17L68 15.29L68.23 14L68.46 12L68.81 10L70 9.41L71 8.99L73 8.77L75 8.56L77 8.35L79 8.15L80.43 8L82 7.94L84 7.86L86 7.79L88 7.72L90 7.66L92 7.61L94 7.58L96 7.54L98 7.32L99.27 7"/>
<path d="M299.68 298L301 297.8L303 297.69L305 297.97L306 298.21L308 298.89L309 299.39L310 300.06L311.03 301L312 302.14L313 303.53L313.95 305L314.57 306L315.17 307L316 308.33L317 309.85L317.82 311L318.6 312L319.44 313L320.32 314L321.1 315L321 316.04L319 316.74L318 317.02L316 317.22L314 317.41L312 317.6L310 317.77L308 317.97L307 318.06L305 318.3L303 318.56L301 318.78L299.18 319L298 319.1L296 319.26L294 319.4L292 319.45L290 319.39L288 319.27L286 319.11L284.77 319L283 318.68L281 318.27L279.69 318L278.4 317L278.46 315L278.65 313L278.51 311L278.03 309L277.73 308L277.23 306L277.22 304L278 302.25L279 301.4L280 300.93L282 300.56L284 300.49L286 300.44L288 300.24L289.37 300L291 299.66L293 299.22L294.02 299L296 298.59L298 298.25L299.68 298"/>
<path d="M100.17 303L102 302.49L104 302.24L106 302.32L108 302.5L110 302.72L111.86 303L113 303.19L115 303.53L117 303.87L118 304.01L120 304.18L122 304.17L124 304.11L126 304.26L128 304.99L129 305.96L129.48 307L129.69 309L129.34 311L129 312.39L128.66 314L128.55 316L128.78 318L129 319.1L129.09 321L128 321.81L127 322.16L125 322.58L123 322.96L122 323.07L120 323.24L118 323.37L116 323.46L114 323.49L112 323.47L110 323.41L108 323.34L106 323.26L104 323.18L102 323.09L100 323L99 322.92L97 322.74L95 322.56L93 322.37L91 322.17L89.38 322L88 321.52L86.56 321L87 319.33L88 318.02L88.77 317L89.46 316L90.11 315L91 313.5L91.84 312L92.39 311L93 309.91L94 308.23L94.82 307L95.6 306L96.57 305L97.93 304L99 303.46L100.17 303"/>
<path d="M292.46 3L294 2.97L296 2.93L298 2.92L300 2.93L302 2.96L303.4 3L305 3.11L307 3.28L309 3.46L311 3.66L313 3.88L314.07 4L316 4.6L317.14 5L318.28 6L319.15 7L320 8.05L321 9.36L322 10.89L322.6 12L323.04 13L323.55 15L323.55 17L323 18.94L322.47 20L321.82 21L321 22.05L320 23.2L319 24.26L318 25.26L317 26.22L316 27.15L315 28.06L313.97 29L312.87 30L311.79 31L310.66 32L309.42 33L308 33.97L307 34.53L306 35.02L304 35.68L302 35.96L300 35.79L298 35.29L297 34.97L295 34.22L294 33.81L292.16 33L291 32.4L290 31.85L288.69 31L287.43 30L286.38 29L285.47 28L284.65 27L283.9 26L283 24.58L282.14 23L281.7 22L281 20.06L280.68 19L280.12 17L279.84 16L279.25 14L278.92 13L278.32 11L278 9.63L277.72 8L277.48 6L278 4.8L279.6 4L281 3.84L283 3.66L285 3.5L287 3.35L289 3.21L291 3.08L292.46 3"/>
<path d="M90.01 8L92 7.95L94 7.91L96 7.89L98 7.75L100 7.41L102 7.24L104 7.3L106 7.4L108 7.52L110 7.65L112 7.81L113.82 8L115 8.61L115.79 10L115.62 12L115.33 14L115 15.51L114.6 17L114.08 19L113.84 20L113.39 22L113 23.58L112.6 25L112 26.64L111.4 28L110.86 29L110 30.37L109 31.78L108.01 33L107.06 34L106 34.94L105 35.69L104 36.35L102.92 37L101 38L100 38.46L98.82 39L97 39.73L96 40.08L94 40.57L92 40.69L90 40.38L88.75 40L87 39.22L86 38.65L84.99 38L83.65 37L82.43 36L81.24 35L80.04 34L79 33.14L78 32.3L77 31.45L76 30.57L75 29.64L74 28.66L73 27.6L72 26.38L71.09 25L70.63 24L70.18 22L70.29 20L70.87 18L71.33 17L72 15.78L73 14.24L73.9 13L74.67 12L75.5 11L76.65 10L78 9.52L79.56 9L81 8.84L83 8.62L85 8.42L87 8.24L89 8.07L90.01 8"/>
<path d="M291.84 301L293 300.79L295 300.48L297 300.26L299 300.15L301 300.15L303 300.35L305 301L306 301.51L307 302.14L308.1 303L309.12 304L310 305.04L311 306.42L312 307.91L312.75 309L313.46 310L314.22 311L315.01 312L316 313.19L317 314.42L317.4 316L316 316.47L314.36 317L313 317.13L311 317.32L309 317.51L307 317.74L305.7 318L304 318.22L302 318.44L300 318.66L298 318.91L297 319.03L295 319.18L293 319.28L291 319.27L289 319.17L287 319.02L286 318.88L284 318.52L282 318.11L281 317.69L280 316.93L279.93 315L280.04 314L280.09 312L280 310.96L279.62 309L279.1 307L278.94 306L279 304.74L280 303.11L281 302.6L283 302.18L285 302.03L286 301.95L288 301.7L290 301.35L291.84 301"/>
<path d="M103.2 305L105 304.65L107 304.52L109 304.5L111 304.59L113 304.78L114.72 305L116 305.18L118 305.45L120 305.66L122 305.74L124 305.81L125.32 306L127 306.78L127.8 308L127.9 310L127.51 312L127.16 314L127.09 316L127.3 318L127.64 320L127 321.35L126 322.01L124 322.43L122 322.8L120.74 323L119 323.14L117 323.26L115 323.32L113 323.32L111 323.28L109 323.21L107 323.13L105 323.04L104 323L102 322.83L100 322.66L98 322.48L96 322.29L94 322.09L93 321.97L91 321.31L90.05 320L91 318.63L92 317.32L92.96 316L93.64 315L94.29 314L95 312.86L96 311.22L96.8 310L97.55 309L98.44 308L99.55 307L100.99 306L102 305.46L103.2 305"/>
<path d="M290.22 4L292 3.88L294 3.76L296 3.68L298 3.64L300 3.65L302 3.74L304 3.88L305.43 4L307 4.36L309 4.89L310 5.31L311.22 6L312.74 7L314 7.85L315 8.55L316 9.3L317 10.11L318 11.02L319 12.09L320 13.49L320.72 15L321 16.21L321 18L320.76 19L320 20.66L319.14 22L318.34 23L317.46 24L316.5 25L315.48 26L314.41 27L313.32 28L312.23 29L311.14 30L310.03 31L309 31.87L308 32.63L307 33.3L305.75 34L304 34.69L302.54 35L301 35.04L300 34.9L298 34.35L296.98 34L295 33.19L294 32.74L292.48 32L291 31.15L290 30.47L289 29.69L288 28.76L287 27.64L286 26.31L285.17 25L284.64 24L284 22.52L283.47 21L283 19L282.84 18L282.65 16L282.62 14L282.77 12L283 10.7L283.48 9L284 7.67L284.95 6L286 5.11L287 4.76L289 4.26L290.22 4"/>
<path d="M87.75 9L89 8.89L91 8.73L93 8.62L95 8.57L97 8.52L99 8.27L101 8.01L103 8.17L105 8.54L107 9L108 9.73L109 10.98L109.54 12L110 13.07L110.6 15L110.95 17L111.05 18L111.1 20L111 21.8L110.87 23L110.48 25L110 26.6L109.46 28L108.98 29L108 30.69L107.08 32L106.24 33L105.23 34L104.01 35L103 35.69L102 36.31L100.79 37L99 37.89L98 38.34L96.4 39L95 39.45L93 39.79L91 39.62L89 39L88 38.52L87 37.96L85.57 37L84.27 36L83.06 35L82 34.11L81 33.27L80 32.43L79 31.58L78 30.69L77 29.76L76 28.75L75 27.62L74 26.26L73.31 25L72.96 24L72.77 22L73 20.72L73.7 19L74.34 18L75.13 17L76.07 16L77.16 15L78.36 14L79.65 13L80.99 12L82 11.25L83 10.6L84.05 10L86 9.44L87.75 9"/>
<path d="M288.87 303L290 302.8L292 302.47L294 302.23L296 302.11L298 302.15L300 302.38L302 302.82L303 303.17L304.52 304L305.8 305L306.81 306L307.69 307L308.47 308L309.22 309L310 310.07L311 311.38L312 312.62L313 313.83L313.85 315L313 316.24L311 316.86L310 317.05L308 317.25L306 317.55L304.01 318L303 318.11L301 318.31L299 318.54L297 318.79L295.27 319L294 319.08L292 319.12L290 319.06L288.97 319L287 318.72L285 318.38L283.13 318L282 317.29L281.32 316L281.47 314L281.54 312L281.42 310L281.19 308L281.29 306L282 304.87L283.77 304L285 303.71L287 303.34L288.87 303"/>
<path d="M105.7 307L107 306.71L109 306.42L111 306.31L113 306.36L115 306.52L117 306.76L118.79 307L120 307.16L122 307.45L124 307.95L125 308.59L125.73 310L125.77 312L125.64 314L125.65 316L125.85 318L126 319L126 320.63L125 321.61L124 322.08L122 322.47L120 322.8L118.51 323L117 323.09L115 323.16L113 323.16L111 323.12L109 323.04L107.93 323L106 322.84L104 322.67L102 322.49L100 322.31L98 322.12L96.75 322L95 321.45L93.62 321L94 319.2L94.89 318L95.64 317L96.35 316L97.04 315L98 313.57L99 312.12L99.85 311L100.73 310L101.78 309L103 308.1L104 307.58L105.7 307"/>
<path d="M293.96 6L295 5.68L297 5.28L299 5.14L301 5.33L303 5.84L304 6.2L305.83 7L307 7.52L308 8L310 9L311 9.51L312 10.07L313.53 11L314.97 12L316 12.87L317 13.92L317.76 15L318.24 16L318.61 18L318.23 20L317.79 21L317 22.26L316 23.55L315 24.67L314 25.69L313 26.65L312 27.59L311 28.51L310 29.42L309 30.31L308 31.15L306.86 32L305.2 33L304 33.53L302 34L300 33.85L298 33.28L297 32.91L295 32.04L294 31.54L292.99 31L291.44 30L290.18 29L289.17 28L288.34 27L287.65 26L287 24.84L286.19 23L285.87 22L285.44 20L285.31 18L285.5 16L286 14.21L286.53 13L287.1 12L288 10.72L289 9.52L290 8.51L291 7.66L292 6.98L293.96 6"/>
<path d="M92.84 10L94 9.91L96 9.92L97.22 10L99 10.34L100.75 11L102 11.7L103 12.41L104 13.27L105 14.28L106 15.46L107 16.93L107.56 18L108 19.13L108.43 21L108.55 23L108.36 25L108 26.57L107.54 28L107 29.24L106.01 31L105.27 32L104.39 33L103.3 34L102 34.98L101 35.61L100 36.2L98.47 37L97 37.66L96 38.07L94 38.62L92 38.69L90 38.18L89 37.74L87.68 37L86.22 36L85 35.05L84 34.23L83 33.39L82 32.54L81 31.69L80 30.8L79 29.86L78 28.82L77 27.61L76 26.07L75.54 25L75.26 23L75.73 21L76.25 20L77 18.98L78 17.93L79.08 17L80.45 16L82 15L83 14.39L84 13.82L85.52 13L87 12.21L88 11.71L89.52 11L91 10.45L92.84 10"/>
<path d="M291.85 304L293 303.9L295 303.85L297 303.99L298 304.16L300 304.7L301 305.1L302.65 306L303.91 307L304.91 308L305.77 309L306.57 310L307.34 311L308.11 312L309 313.14L310 314.51L310.16 316L309 316.36L307.13 317L306 317.16L304 317.56L302 317.97L301 318.08L299 318.3L297 318.54L295 318.76L293 318.92L291 318.89L289 318.7L287 318.4L285 318.04L284 317.56L283 316.7L282.82 315L282.95 313L283 311.02L283.01 310L283.2 308L284 306.45L285 305.68L286.69 305L288 304.66L290 304.26L291.85 304"/>
<path d="M111.95 308L113 307.96L114.69 308L116 308.09L118 308.35L120 308.74L121 309.02L122.83 310L123.56 311L124 312.8L124.09 314L124.21 316L124.42 318L124.63 320L124 321.23L122.7 322L121 322.32L119 322.63L117 322.86L115 322.99L114 323L113 323L111 322.91L109 322.77L107 322.61L105 322.44L103 322.25L101 322.06L100 321.9L98 321.29L97 320.54L97 319.82L98 318.28L98.91 317L99.61 316L100.31 315L101.02 314L102 312.73L103 311.61L104 310.7L105 310L107 309.03L108 308.69L110 308.22L111.95 308"/>
<path d="M296.45 9L298 8.65L300 8.54L302 8.82L303 9.07L305 9.65L306.01 10L308 10.73L309 11.16L310.7 12L312 12.75L313 13.44L314 14.28L315 15.38L315.92 17L316.18 18L316.07 20L315.73 21L315 22.33L314 23.7L313 24.86L312 25.88L311 26.84L310 27.77L309 28.68L308 29.54L307 30.33L306 31.04L304.28 32L303 32.48L301 32.71L299 32.36L297.87 32L296 31.21L295 30.71L293.74 30L292.28 29L291.13 28L290.24 27L289.53 26L288.96 25L288.17 23L287.91 22L287.64 20L287.74 18L288 16.86L288.75 15L289.36 14L290.13 13L291.08 12L292.26 11L293.86 10L295 9.46L296.45 9"/>
<path d="M90.12 14L92 13.45L94 13.19L96 13.32L98 13.78L99 14.13L100.74 15L102 15.86L103 16.73L104 17.82L104.85 19L105.4 20L106 21.72L106.23 23L106.26 25L106 26.66L105.65 28L105 29.56L104.18 31L103.4 32L102.42 33L101.19 34L100 34.8L99 35.39L97.87 36L96 36.81L95 37.14L93 37.44L91 37.15L90 36.78L88.51 36L87 35.03L86 34.27L85 33.47L84 32.64L83 31.78L82 30.9L81 29.95L80 28.88L79 27.59L78.1 26L77.78 25L77.75 23L78.05 22L79 20.4L80 19.3L81 18.44L82 17.72L83.18 17L85 16.04L86 15.57L87.39 15L89 14.37L90.12 14"/>
<path d="M288.9 306L290 305.78L292 305.55L294 305.54L296 305.78L297.02 306L299 306.71L300 307.23L301.16 308L302.32 309L303.27 310L304.1 311L305 312.17L306 313.52L306.94 315L306 316.31L304.63 317L303 317.3L301 317.68L299.56 318L298 318.17L296 318.39L294 318.58L292 318.64L290 318.51L288 318.25L286.51 318L285 317.21L284.27 316L284.34 314L284.46 312L284.64 310L285 308.69L286 307.31L287 306.67L288.9 306"/>
<path d="M110.8 310L112 309.77L114 309.58L116 309.62L118 309.88L119 310.12L120.91 311L121.82 312L122.27 313L122.64 315L122.86 317L123 318.3L123.13 320L122.8 321L121 321.98L120 322.17L118 322.45L116 322.64L114 322.71L112 322.66L110 322.54L108 322.38L106 322.21L104 322.02L103 321.76L101 321.16L100.18 320L101 318.56L102 317.06L102.73 316L103.47 315L104.27 314L105.21 313L106.4 312L108 311.02L109 310.57L110.8 310"/>
<path d="M296.02 12L298 11.48L300 11.29L302 11.39L304 11.72L305.16 12L307 12.56L308.11 13L310 13.95L311 14.61L312 15.44L313 16.6L313.72 18L313.9 20L313.24 22L312.64 23L311.9 24L311 25.03L310 26.04L308.98 27L307.82 28L306.51 29L305 29.98L304 30.47L302.34 31L301 31.15L299.59 31L298 30.58L296.58 30L295 29.16L294 28.51L293 27.74L292 26.74L291 25.29L290.4 24L290 22.59L289.76 21L289.85 19L290.08 18L290.97 16L291.69 15L292.64 14L293.94 13L295 12.41L296.02 12"/>
<path d="M93.18 16L94.54 16L96 16.14L98 16.64L99 17.05L100.58 18L101.74 19L102.59 20L103.23 21L103.99 23L104.16 24L104.17 26L104 27.12L103.44 29L102.95 30L102 31.34L101 32.35L100 33.15L98.73 34L97 34.92L96 35.32L94 35.81L92 35.77L90 35.15L89 34.66L87.89 34L86.47 33L85.2 32L84.04 31L83 30.02L82.05 29L81.27 28L80.66 27L80.02 25L80.24 23L81 21.57L82 20.41L83 19.56L84 18.88L85.63 18L87 17.4L88.16 17L90 16.47L92 16.1L93.18 16"/>
<path d="M288.38 308L290 307.48L292 307.27L294 307.39L296 307.85L297 308.23L298.48 309L299.85 310L300.89 311L301.76 312L302.53 313L303.22 314L303.78 316L302.02 317L301 317.18L299 317.59L297.26 318L296 318.13L294 318.3L292 318.34L290 318.21L288.42 318L287 317.38L286 316.43L285.81 315L285.94 313L286.03 312L286.48 310L287.04 309L288.38 308"/>
<path d="M111.11 312L113 311.49L115 311.28L117 311.41L118.97 312L120 312.8L120.7 314L121.01 315L121.3 317L121.53 319L121.18 321L120 321.59L119 322.01L117 322.26L115 322.39L113 322.4L111 322.31L109 322.16L107.2 322L106 321.67L104 321.09L103.33 320L104 318.62L105 317.06L105.77 316L106.63 315L107.67 314L109 313.03L110 312.48L111.11 312"/>
<path d="M297.16 14L299 13.57L301 13.44L303 13.57L305 13.95L306 14.24L307.85 15L309 15.68L310 16.48L311 17.68L311.58 19L311.58 21L311 22.44L310 23.99L309.12 25L308.09 26L307 26.9L306 27.61L305 28.2L303.04 29L302 29.24L300 29.32L298.29 29L297 28.52L295.98 28L294.51 27L293.45 26L292.73 25L292 23.2L291.76 22L291.78 20L292 18.97L292.95 17L293.79 16L295 15.01L296 14.45L297.16 14"/>
<path d="M88.24 19L90 18.52L92 18.21L94 18.16L96 18.42L97.79 19L99 19.64L100 20.43L101 21.57L101.78 23L102.09 24L102.28 26L102 27.85L101.59 29L101 30.05L100 31.19L99 32.02L97.42 33L96 33.62L94.23 34L93 34.05L92 33.95L90 33.39L89 32.94L87.44 32L86.09 31L85 30.03L84.03 29L83.28 28L82.72 27L82.25 25L82.76 23L83.43 22L84.46 21L85.94 20L87 19.48L88.24 19"/>
<path d="M289.48 310L291 309.45L293 309.39L295 309.87L296 310.32L297.15 311L298.38 312L299.34 313L300.11 314L300.77 316L299.25 317L298 317.25L296 317.68L294.3 318L293 318.06L291.07 318L290 317.73L288.04 317L287.55 316L287.66 314L288 312.13L288.5 311L289.48 310"/>
<path d="M112.14 314L114 313.46L116 313.41L117.79 314L118.73 315L119.18 316L119.64 318L119.84 320L119 321.17L117 321.87L116 322.04L114 322.11L112 322.06L110.93 322L109 321.57L107 321.04L106.39 320L107 318.66L108 317.22L109 316.1L110 315.25L111 314.58L112.14 314"/>
<path d="M297.82 16L299 15.66L301 15.43L303 15.53L305 15.94L306 16.32L307.28 17L308.43 18L309.1 19L309.42 21L309 22.34L308 23.93L307 24.96L306 25.74L305 26.35L303.4 27L302 27.34L300 27.46L298 27.09L297 26.67L295.9 26L294.83 25L294 23.54L293.64 22L293.82 20L294.21 19L295 17.84L296 16.93L297.82 16"/>
<path d="M88.4 21L90 20.5L92 20.19L94 20.2L96 20.59L97.04 21L98.53 22L99.41 23L100 24.08L100.39 26L100.1 28L99.62 29L98.84 30L97.57 31L96 31.77L95 32.03L93 32.15L91.68 32L90 31.56L88.77 31L87.25 30L86.16 29L85.37 28L84.84 27L84.56 25L85 23.72L86 22.47L87 21.7L88.4 21"/>
<path d="M291 313L292 312.48L294 312.57L295.04 313L296.4 314L297.28 315L297 316.38L296 317.03L294 317.31L292 317.32L290.41 317L289.74 316L290 314.58L291 313"/>
<path d="M112.5 317L114 316.46L116 316.81L117 317.89L117.46 319L117.06 321L116 321.25L114 321.45L112 321.31L110.31 321L109.68 320L110.18 319L111.07 318L112.5 317"/>
<path d="M298.85 18L300 17.71L302 17.59L304 17.91L305 18.33L306.01 19L306.96 21L306.25 23L305.26 24L304 24.74L303 25.11L301 25.44L299 25.31L298 25L296.63 24L295.98 23L295.84 21L296.25 20L297.07 19L298.85 18"/>
<path d="M89.3 23L91 22.48L93 22.32L95 22.63L96 23.01L97.3 24L98 25.08L98.21 27L97.86 28L97 29.03L95 29.99L94 30.13L92 30.07L91 29.87L89 29.01L88 28.14L87.26 27L87.21 25L88 23.86L89.3 23"/>
</g>
<g stroke-linejoin="round">
<polygon points="199.9,136.4 166.4,179.3 233.4,179.3" fill="none" stroke="#3c3cb4" stroke-width="73.1"/>
<polygon points="199.9,136.4 166.4,179.3 233.4,179.3" fill="#fff" stroke="#fff" stroke-width="71.3"/>
<polygon points="199.9,136.57 166.74,179.13 233.06,179.13" fill="none" stroke="#3c3cb4" stroke-width="71.03"/>
<polygon points="199.9,136.57 166.74,179.13 233.06,179.13" fill="#fff" stroke="#fff" stroke-width="69.23"/>
<polygon points="199.9,136.72 167.05,178.98 232.75,178.98" fill="none" stroke="#3c3cb4" stroke-width="69.14"/>
<polygon points="199.9,136.72 167.05,178.98 232.75,178.98" fill="#fff" stroke="#fff" stroke-width="67.34"/>
<polygon points="199.9,136.86 167.34,178.84 232.46,178.84" fill="#000080" stroke="#000080" stroke-width="66.51"/>
<polygon points="199.9,136.91 167.45,178.79 232.35,178.79" fill="#000082" stroke="#000082" stroke-width="65.82"/>
<polygon points="199.9,136.97 167.56,178.73 232.24,178.73" fill="#000085" stroke="#000085" stroke-width="65.14"/>
<polygon points="199.9,137.02 167.68,178.68 232.12,178.68" fill="#000088" stroke="#000088" stroke-width="64.45"/>
<polygon points="199.9,137.08 167.79,178.62 232.01,178.62" fill="#00008b" stroke="#00008b" stroke-width="63.76"/>
<polygon points="199.9,137.13 167.9,178.57 231.9,178.57" fill="#00008d" stroke="#00008d" stroke-width="63.07"/>
<polygon points="199.9,137.19 168.02,178.51 231.78,178.51" fill="#000090" stroke="#000090" stroke-width="62.38"/>
<polygon points="199.9,137.24 168.13,178.46 231.67,178.46" fill="#000093" stroke="#000093" stroke-width="61.69"/>
<polygon points="199.9,137.3 168.25,178.4 231.55,178.4" fill="#000096" stroke="#000096" stroke-width="61"/>
<polygon points="199.9,137.36 168.36,178.34 231.44,178.34" fill="#000099" stroke="#000099" stroke-width="60.31"/>
<polygon points="199.9,137.41 168.47,178.29 231.33,178.29" fill="#00009b" stroke="#00009b" stroke-width="59.62"/>
<polygon points="199.9,137.47 168.59,178.23 231.21,178.23" fill="#00009e" stroke="#00009e" stroke-width="58.93"/>
<polygon points="199.9,137.52 168.7,178.18 231.1,178.18" fill="#0000a5" stroke="#0000a5" stroke-width="58.24"/>
<polygon points="199.9,137.58 168.81,178.12 230.99,178.12" fill="#0000ac" stroke="#0000ac" stroke-width="57.55"/>
<polygon points="199.9,137.63 168.93,178.07 230.87,178.07" fill="#0000b3" stroke="#0000b3" stroke-width="56.87"/>
<polygon points="199.9,137.69 169.04,178.01 230.76,178.01" fill="#0000ba" stroke="#0000ba" stroke-width="56.18"/>
<polygon points="199.9,137.74 169.15,177.96 230.65,177.96" fill="#0000c1" stroke="#0000c1" stroke-width="55.49"/>
<polygon points="199.9,137.8 169.27,177.9 230.53,177.9" fill="#0000c8" stroke="#0000c8" stroke-width="54.8"/>
<polygon points="199.9,137.85 169.38,177.85 230.42,177.85" fill="#0000cf" stroke="#0000cf" stroke-width="54.11"/>
<polygon points="199.9,137.91 169.49,177.79 230.31,177.79" fill="#0000d5" stroke="#0000d5" stroke-width="53.42"/>
<polygon points="199.9,137.97 169.61,177.73 230.19,177.73" fill="#0000dc" stroke="#0000dc" stroke-width="52.73"/>
<polygon points="199.9,138.02 169.72,177.68 230.08,177.68" fill="#0000e3" stroke="#0000e3" stroke-width="52.04"/>
<polygon points="199.9,138.08 169.84,177.62 229.96,177.62" fill="#0000ea" stroke="#0000ea" stroke-width="51.35"/>
<polygon points="199.9,138.13 169.95,177.57 229.85,177.57" fill="#0000f1" stroke="#0000f1" stroke-width="50.66"/>
<polygon points="199.9,138.19 170.06,177.51 229.74,177.51" fill="#0000f8" stroke="#0000f8" stroke-width="49.97"/>
<polygon points="199.9,138.24 170.18,177.46 229.62,177.46" fill="#0000ff" stroke="#0000ff" stroke-width="49.28"/>
<polygon points="199.9,138.3 170.29,177.4 229.51,177.4" fill="#000cff" stroke="#000cff" stroke-width="48.6"/>
<polygon points="199.9,138.35 170.4,177.35 229.4,177.35" fill="#0019ff" stroke="#0019ff" stroke-width="47.91"/>
<polygon points="199.9,138.41 170.52,177.29 229.28,177.29" fill="#0025ff" stroke="#0025ff" stroke-width="47.22"/>
<polygon points="199.9,138.46 170.63,177.24 229.17,177.24" fill="#0032ff" stroke="#0032ff" stroke-width="46.53"/>
<polygon points="199.9,138.52 170.74,177.18 229.06,177.18" fill="#003eff" stroke="#003eff" stroke-width="45.84"/>
<polygon points="199.9,138.57 170.86,177.13 228.94,177.13" fill="#004bff" stroke="#004bff" stroke-width="45.15"/>
<polygon points="199.9,138.63 170.97,177.07 228.83,177.07" fill="#0057ff" stroke="#0057ff" stroke-width="44.46"/>
<polygon points="199.9,138.69 171.08,177.01 228.72,177.01" fill="#0064ff" stroke="#0064ff" stroke-width="43.77"/>
<polygon points="199.9,138.74 171.2,176.96 228.6,176.96" fill="#0070ff" stroke="#0070ff" stroke-width="43.08"/>
<polygon points="199.9,138.8 171.31,176.9 228.49,176.9" fill="#007cff" stroke="#007cff" stroke-width="42.39"/>
<polygon points="199.9,138.85 171.42,176.85 228.38,176.85" fill="#008cff" stroke="#008cff" stroke-width="41.7"/>
<polygon points="199.9,138.91 171.54,176.79 228.26,176.79" fill="#009dff" stroke="#009dff" stroke-width="41.01"/>
<polygon points="199.9,138.96 171.65,176.74 228.15,176.74" fill="#00aeff" stroke="#00aeff" stroke-width="40.32"/>
<polygon points="199.9,139.02 171.77,176.68 228.03,176.68" fill="#00bfff" stroke="#00bfff" stroke-width="39.64"/>
<polygon points="199.9,139.07 171.88,176.63 227.92,176.63" fill="#00d0ff" stroke="#00d0ff" stroke-width="38.95"/>
<polygon points="199.9,139.13 171.99,176.57 227.81,176.57" fill="#00e1ff" stroke="#00e1ff" stroke-width="38.26"/>
<polygon points="199.9,139.18 172.11,176.52 227.69,176.52" fill="#00f2ff" stroke="#00f2ff" stroke-width="37.57"/>
<polygon points="199.9,139.24 172.22,176.46 227.58,176.46" fill="#05fffa" stroke="#05fffa" stroke-width="36.88"/>
<polygon points="199.9,139.29 172.33,176.41 227.47,176.41" fill="#19ffe6" stroke="#19ffe6" stroke-width="36.19"/>
<polygon points="199.9,139.35 172.45,176.35 227.35,176.35" fill="#2cffd3" stroke="#2cffd3" stroke-width="35.5"/>
<polygon points="199.9,139.41 172.56,176.29 227.24,176.29" fill="#40ffbf" stroke="#40ffbf" stroke-width="34.81"/>
<polygon points="199.9,139.46 172.67,176.24 227.13,176.24" fill="#54ffab" stroke="#54ffab" stroke-width="34.12"/>
<polygon points="199.9,139.52 172.79,176.18 227.01,176.18" fill="#68ff97" stroke="#68ff97" stroke-width="33.43"/>
<polygon points="199.9,139.57 172.9,176.13 226.9,176.13" fill="#7bff84" stroke="#7bff84" stroke-width="32.74"/>
<polygon points="199.9,139.63 173.01,176.07 226.79,176.07" fill="#8fff70" stroke="#8fff70" stroke-width="32.05"/>
<polygon points="199.9,139.68 173.13,176.02 226.67,176.02" fill="#a2ff5d" stroke="#a2ff5d" stroke-width="31.37"/>
<polygon points="199.9,139.74 173.24,175.96 226.56,175.96" fill="#b4ff4b" stroke="#b4ff4b" stroke-width="30.68"/>
<polygon points="199.9,139.79 173.36,175.91 226.44,175.91" fill="#c7ff38" stroke="#c7ff38" stroke-width="29.99"/>
<polygon points="199.9,139.85 173.47,175.85 226.33,175.85" fill="#daff25" stroke="#daff25" stroke-width="29.3"/>
<polygon points="199.9,139.9 173.58,175.8 226.22,175.8" fill="#ecff13" stroke="#ecff13" stroke-width="28.61"/>
<polygon points="199.9,139.96 173.7,175.74 226.1,175.74" fill="#ffff00" stroke="#ffff00" stroke-width="27.92"/>
<polygon points="199.9,140.01 173.81,175.69 225.99,175.69" fill="#ffee00" stroke="#ffee00" stroke-width="27.23"/>
<polygon points="199.9,140.07 173.92,175.63 225.88,175.63" fill="#ffdd00" stroke="#ffdd00" stroke-width="26.54"/>
<polygon points="199.9,140.13 174.04,175.57 225.76,175.57" fill="#ffcc00" stroke="#ffcc00" stroke-width="25.85"/>
<polygon points="199.9,140.18 174.15,175.52 225.65,175.52" fill="#ffbb00" stroke="#ffbb00" stroke-width="25.16"/>
<polygon points="199.9,140.24 174.26,175.46 225.54,175.46" fill="#ffaa00" stroke="#ffaa00" stroke-width="24.47"/>
<polygon points="199.9,140.29 174.38,175.41 225.42,175.41" fill="#ff9900" stroke="#ff9900" stroke-width="23.78"/>
<polygon points="199.9,140.35 174.49,175.35 225.31,175.35" fill="#ff8800" stroke="#ff8800" stroke-width="23.09"/>
<polygon points="199.9,140.4 174.6,175.3 225.2,175.3" fill="#ff7c00" stroke="#ff7c00" stroke-width="22.41"/>
<polygon points="199.9,140.46 174.72,175.24 225.08,175.24" fill="#ff7500" stroke="#ff7500" stroke-width="21.72"/>
<polygon points="199.9,140.51 174.83,175.19 224.97,175.19" fill="#ff6e00" stroke="#ff6e00" stroke-width="21.03"/>
<polygon points="199.9,140.57 174.94,175.13 224.86,175.13" fill="#ff6700" stroke="#ff6700" stroke-width="20.34"/>
<polygon points="199.9,140.62 175.06,175.08 224.74,175.08" fill="#ff6000" stroke="#ff6000" stroke-width="19.65"/>
<polygon points="199.9,140.68 175.17,175.02 224.63,175.02" fill="#ff5a00" stroke="#ff5a00" stroke-width="18.96"/>
<polygon points="199.9,140.74 175.29,174.96 224.51,174.96" fill="#ff5300" stroke="#ff5300" stroke-width="18.27"/>
<polygon points="199.9,140.79 175.4,174.91 224.4,174.91" fill="#ff4c00" stroke="#ff4c00" stroke-width="17.58"/>
<polygon points="199.9,140.85 175.51,174.85 224.29,174.85" fill="#ff4500" stroke="#ff4500" stroke-width="16.89"/>
<polygon points="199.9,140.9 175.63,174.8 224.17,174.8" fill="#ff3e00" stroke="#ff3e00" stroke-width="16.2"/>
<polygon points="199.9,140.96 175.74,174.74 224.06,174.74" fill="#ff3700" stroke="#ff3700" stroke-width="15.51"/>
<polygon points="199.9,141.01 175.85,174.69 223.95,174.69" fill="#ff3000" stroke="#ff3000" stroke-width="14.82"/>
<polygon points="199.9,141.07 175.97,174.63 223.83,174.63" fill="#ff2900" stroke="#ff2900" stroke-width="14.14"/>
<polygon points="199.9,141.12 176.08,174.58 223.72,174.58" fill="#ff2200" stroke="#ff2200" stroke-width="13.45"/>
<polygon points="199.9,141.18 176.19,174.52 223.61,174.52" fill="#ff1c00" stroke="#ff1c00" stroke-width="12.76"/>
<polygon points="199.9,141.23 176.31,174.47 223.49,174.47" fill="#ff1500" stroke="#ff1500" stroke-width="12.07"/>
<polygon points="199.9,141.29 176.42,174.41 223.38,174.41" fill="#ff0e00" stroke="#ff0e00" stroke-width="11.38"/>
<polygon points="199.9,141.34 176.53,174.36 223.27,174.36" fill="#ff0700" stroke="#ff0700" stroke-width="10.69"/>
<polygon points="199.9,141.4 176.65,174.3 223.15,174.3" fill="#ff0000" stroke="#ff0000" stroke-width="10"/>
<polygon points="199.9,141.9 177.67,173.8 222.13,173.8" fill="#f70000" stroke="#f70000" stroke-width="10"/>
<polygon points="199.9,142.4 178.7,173.3 221.1,173.3" fill="#ef0000" stroke="#ef0000" stroke-width="10"/>
<polygon points="199.9,142.9 179.72,172.8 220.08,172.8" fill="#e70000" stroke="#e70000" stroke-width="10"/>
<polygon points="199.9,143.4 180.75,172.3 219.05,172.3" fill="#df0000" stroke="#df0000" stroke-width="10"/>
<polygon points="199.9,143.9 181.77,171.8 218.03,171.8" fill="#d70000" stroke="#d70000" stroke-width="10"/>
<polygon points="199.9,144.4 182.8,171.3 217,171.3" fill="#cf0000" stroke="#cf0000" stroke-width="10"/>
<polygon points="199.9,144.9 183.82,170.8 215.98,170.8" fill="#c70000" stroke="#c70000" stroke-width="10"/>
<polygon points="199.9,145.4 184.85,170.3 214.95,170.3" fill="#bf0000" stroke="#bf0000" stroke-width="10"/>
<polygon points="199.9,145.9 185.87,169.8 213.93,169.8" fill="#b70000" stroke="#b70000" stroke-width="10"/>
<polygon points="199.9,146.4 186.9,169.3 212.9,169.3" fill="#af0000" stroke="#af0000" stroke-width="10"/>
<polygon points="199.9,146.9 187.92,168.8 211.88,168.8" fill="#a70000" stroke="#a70000" stroke-width="10"/>
<polygon points="199.9,147.4 188.95,168.3 210.85,168.3" fill="#9f0000" stroke="#9f0000" stroke-width="10"/>
<polygon points="199.9,147.9 189.97,167.8 209.83,167.8" fill="#970000" stroke="#970000" stroke-width="10"/>
<polygon points="199.9,148.4 191,167.3 208.8,167.3" fill="#8f0000" stroke="#8f0000" stroke-width="10"/>
<polygon points="199.9,148.9 192.02,166.8 207.78,166.8" fill="#870000" stroke="#870000" stroke-width="10"/>
<polygon points="199.9,149.4 193.05,166.3 206.75,166.3" fill="#800000" stroke="#800000" stroke-width="10"/>
<polygon points="199.9,149.9 194.07,165.8 205.73,165.8" fill="#800000" stroke="#800000" stroke-width="10"/>
<polygon points="199.9,150.6 184.8,172.7 214.8,172.7" fill="#f7eaea" stroke="#f7eaea" stroke-width="1"/>
<polygon points="199.9,150.6 184.8,172.7 214.8,172.7" fill="none" stroke="#9a2a2a" stroke-width="0.55"/>
<polygon points="199.9,152.48 186.72,171.72 212.92,171.72" fill="none" stroke="#9a2a2a" stroke-width="0.55"/>
<polygon points="199.9,154.36 188.64,170.74 211.04,170.74" fill="none" stroke="#9a2a2a" stroke-width="0.55"/>
<polygon points="199.9,156.24 190.56,169.76 209.16,169.76" fill="none" stroke="#9a2a2a" stroke-width="0.55"/>
<polygon points="199.9,158.12 192.48,168.78 207.28,168.78" fill="none" stroke="#9a2a2a" stroke-width="0.55"/>
<polygon points="199.9,160 194.4,167.8 205.4,167.8" fill="#fff" stroke="#fff" stroke-width="2.2"/>
</g>
<g font-family="Liberation Sans, sans-serif" font-weight="bold" font-size="37.5" fill="#000" text-anchor="middle">
<text x="198.5" y="86.1">B</text><text x="115.2" y="222.3">B</text><text x="288.2" y="222.6">B</text></g>
<g stroke="#858585" stroke-width="1" fill="none">
<rect x="54.0" y="15.0" width="292.3" height="299.5"/>
</g><g stroke="#555" stroke-width="1">
<path d="M54.0 36.35h6M346.3 36.35h-6"/>
<path d="M54.0 79.1h6M346.3 79.1h-6"/>
<path d="M54.0 121.85h6M346.3 121.85h-6"/>
<path d="M54.0 164.6h6M346.3 164.6h-6"/>
<path d="M54.0 207.35h6M346.3 207.35h-6"/>
<path d="M54.0 250.1h6M346.3 250.1h-6"/>
<path d="M54.0 292.85h6M346.3 292.85h-6"/>
<path d="M78.2 314.5v-2.5 M78.2 15.0v2.5"/>
<path d="M102.6 314.5v-3.5 M102.6 15.0v3.5"/>
<path d="M127 314.5v-2.5 M127 15.0v2.5"/>
<path d="M151.4 314.5v-3.5 M151.4 15.0v3.5"/>
<path d="M175.8 314.5v-2.5 M175.8 15.0v2.5"/>
<path d="M200.2 314.5v-3.5 M200.2 15.0v3.5"/>
<path d="M224.6 314.5v-2.5 M224.6 15.0v2.5"/>
<path d="M249 314.5v-3.5 M249 15.0v3.5"/>
<path d="M273.4 314.5v-2.5 M273.4 15.0v2.5"/>
<path d="M297.8 314.5v-3.5 M297.8 15.0v3.5"/>
<path d="M322.2 314.5v-2.5 M322.2 15.0v2.5"/>
</g>
<g font-family="Liberation Sans, sans-serif" font-size="15" fill="#111">
<text transform="translate(48.6 41.25) scale(1 1.13)" text-anchor="end">3.0</text>
<text transform="translate(48.6 84) scale(1 1.13)" text-anchor="end">2.0</text>
<text transform="translate(48.6 126.75) scale(1 1.13)" text-anchor="end">1.0</text>
<text transform="translate(48.6 169.5) scale(1 1.13)" text-anchor="end">0.0</text>
<text transform="translate(48.6 212.25) scale(1 1.13)" text-anchor="end">-1.0</text>
<text transform="translate(48.6 255) scale(1 1.13)" text-anchor="end">-2.0</text>
<text transform="translate(48.6 297.75) scale(1 1.13)" text-anchor="end">-3.0</text>
<text transform="translate(51.2 329.4) scale(1.06 1)" text-anchor="middle">-3.0</text>
<text transform="translate(99.8 329.4) scale(1.06 1)" text-anchor="middle">-2.0</text>
<text transform="translate(152.6 329.4) scale(1.06 1)" text-anchor="middle">-1.0</text>
<text transform="translate(201.6 329.4) scale(1.06 1)" text-anchor="middle">0.0</text>
<text transform="translate(250.2 329.4) scale(1.06 1)" text-anchor="middle">1.0</text>
<text transform="translate(299 329.4) scale(1.06 1)" text-anchor="middle">2.0</text>
<text transform="translate(347.2 329.4) scale(1.06 1)" text-anchor="middle">3.0</text>
</g>
<text x="208.2" y="348.9" text-anchor="middle" font-family="Liberation Sans, sans-serif" font-size="19.7" fill="#111">Length unit: Bohr</text>
<linearGradient id="jg" x1="0" y1="0" x2="0" y2="1"><stop offset="0%" stop-color="#800000"/><stop offset="6.25%" stop-color="#bf0000"/><stop offset="12.5%" stop-color="#ff0000"/><stop offset="18.75%" stop-color="#ff4000"/><stop offset="25%" stop-color="#ff8000"/><stop offset="31.25%" stop-color="#ffbf00"/><stop offset="37.5%" stop-color="#ffff00"/><stop offset="43.75%" stop-color="#bfff40"/><stop offset="50%" stop-color="#80ff80"/><stop offset="56.25%" stop-color="#40ffbf"/><stop offset="62.5%" stop-color="#00ffff"/><stop offset="68.75%" stop-color="#00bfff"/><stop offset="75%" stop-color="#0080ff"/><stop offset="81.25%" stop-color="#0040ff"/><stop offset="87.5%" stop-color="#0000ff"/><stop offset="93.75%" stop-color="#0000bf"/><stop offset="100%" stop-color="#000080"/></linearGradient>
<rect x="357" y="35.7" width="15.6" height="280" fill="url(#jg)"/>
<g stroke="#222" stroke-width="1">
<path d="M372.6 284.2h-5.5"/>
<path d="M372.6 251.66h-5.5"/>
<path d="M372.6 219.12h-5.5"/>
<path d="M372.6 186.58h-5.5"/>
<path d="M372.6 154.04h-5.5"/>
<path d="M372.6 121.5h-5.5"/>
<path d="M372.6 88.96h-5.5"/>
<path d="M372.6 56.42h-5.5"/>
</g><g font-family="Liberation Sans, sans-serif" font-size="15.5" fill="#111">
<text x="377.6" y="289.7">0.1</text>
<text x="377.6" y="257.16">0.2</text>
<text x="377.6" y="224.62">0.3</text>
<text x="377.6" y="192.08">0.4</text>
<text x="377.6" y="159.54">0.5</text>
<text x="377.6" y="127">0.6</text>
<text x="377.6" y="94.46">0.7</text>
<text x="377.6" y="61.92">0.8</text>
</g>
<text x="1.9" y="32.7" font-family="Liberation Sans, sans-serif" font-size="33" fill="#000">a</text>
<g fill="none" stroke="#1c1c1c" stroke-width="1">
<path d="M600 28.5C591.88 29.55 583.77 29.95 576.5 31.5C569.23 33.05 562.28 35.27 556.4 37.8C550.52 40.33 545.2 43.55 541.2 46.7C537.2 49.85 534.28 53.55 532.4 56.7C530.52 59.85 529.68 62.65 529.9 65.6C530.12 68.55 531.38 71.88 533.7 74.4C536.02 76.92 540.45 78.6 543.8 80.7C547.15 82.8 551.37 84.48 553.8 87C556.23 89.52 557.97 92.65 558.4 95.8C558.83 98.95 558 102.12 556.4 105.9C554.8 109.68 551.75 114.3 548.8 118.5C545.85 122.7 542.07 127.82 538.7 131.1C535.33 134.38 531.97 137.77 528.6 138.2C525.23 138.63 522.28 135.93 518.5 133.7C514.72 131.47 510.1 127.33 505.9 124.8C501.7 122.27 497.5 119.47 493.3 118.5C489.1 117.53 484.48 118.15 480.7 119C476.92 119.85 473.33 121.58 470.6 123.6C467.87 125.62 465.65 127.73 464.3 131.1C462.95 134.47 462.62 138.75 462.5 143.8C462.38 148.85 463 156.2 463.6 161.4C464.2 166.6 464.52 170.63 466.1 175C467.68 179.37 470.25 182.98 473.1 187.6C475.95 192.22 479.42 197.23 483.2 202.7C486.98 208.17 491.6 214.52 495.8 220.4C500 226.28 504.18 232.12 508.4 238C512.62 243.88 516.88 250.23 521.1 255.7C525.32 261.17 529.5 266.38 533.7 270.8C537.9 275.22 541.68 279.03 546.3 282.2C550.92 285.37 556.37 287.92 561.4 289.8C566.43 291.68 572.3 292.88 576.5 293.5C580.7 294.12 583.65 294.33 586.6 293.5C589.55 292.67 592.52 291.02 594.2 288.5C595.88 285.98 596.37 282.18 596.7 278.4C597.03 274.62 595.98 269.17 596.2 265.8C596.42 262.43 597.37 259.88 598 258.2C598.63 256.52 598.4 256.95 600 255.7C601.6 254.45 604.23 251.97 607.6 250.7C610.97 249.43 615.58 248.53 620.2 248.1C624.82 247.67 630.68 247.67 635.3 248.1C639.92 248.53 644.75 249.02 647.9 250.7C651.05 252.38 653.15 254.85 654.2 258.2C655.25 261.55 654.2 266.6 654.2 270.8C654.2 275 653.78 279.18 654.2 283.4C654.62 287.62 655.22 292.73 656.7 296.1C658.18 299.47 660.37 301.5 663.1 303.6C665.83 305.7 669.75 307.65 673.1 308.7C676.45 309.75 679.83 310.12 683.2 309.9C686.57 309.68 689.52 309.28 693.3 307.4C697.08 305.52 701.7 302.17 705.9 298.6C710.1 295.03 714.3 290.63 718.5 286C722.7 281.37 726.88 276.68 731.1 270.8C735.32 264.92 739.58 257.83 743.8 250.7C748.02 243.57 752.62 235.57 756.4 228C760.18 220.43 763.77 212.03 766.5 205.3C769.23 198.57 771.13 192.65 772.8 187.6C774.47 182.55 775.8 179.78 776.5 175C777.2 170.22 777.2 163.68 777 158.9C776.8 154.12 776.22 150.08 775.3 146.3C774.38 142.52 773.4 138.93 771.5 136.2C769.6 133.47 766.85 131.17 763.9 129.9C760.95 128.63 757.15 127.97 753.8 128.6C750.45 129.23 747.15 132.02 743.8 133.7C740.45 135.38 736.65 138.28 733.7 138.7C730.75 139.12 729.05 137.88 726.1 136.2C723.15 134.52 719.37 131.55 716 128.6C712.63 125.65 708.63 121.87 705.9 118.5C703.17 115.13 700.85 111.55 699.6 108.4C698.35 105.25 697.77 102.33 698.4 99.6C699.03 96.87 700.88 94.1 703.4 92C705.92 89.9 709.72 88.88 713.5 87C717.28 85.12 722.32 83.02 726.1 80.7C729.88 78.38 733.68 76.05 736.2 73.1C738.72 70.15 740.57 66.35 741.2 63C741.83 59.65 741.25 56.35 740 53C738.75 49.65 736.85 46.27 733.7 42.9C730.55 39.53 725.73 35.75 721.1 32.8C716.47 29.85 711.37 27.22 705.9 25.2C700.43 23.18 693.33 21.45 688.3 20.7C683.27 19.95 682.02 20.28 675.7 20.7C669.38 21.12 658.82 22.45 650.4 23.2C641.98 23.95 633.6 24.32 625.2 25.2C616.8 26.08 608.12 27.45 600 28.5Z"/><path d="M600 41.6C596.1 42.78 592.48 43.5 589.2 45.4C585.92 47.3 582.62 50.07 580.3 53C577.98 55.93 575.93 59.22 575.3 63C574.67 66.78 575.78 71.48 576.5 75.7C577.22 79.92 578.97 84.52 579.6 88.3C580.23 92.08 580.82 95.05 580.3 98.4C579.78 101.75 578.38 104.63 576.5 108.4C574.62 112.17 571.93 116.37 569 121C566.07 125.63 562.27 131.15 558.9 136.2C555.53 141.25 552.17 147.52 548.8 151.3C545.43 155.08 542.07 157.42 538.7 158.9C535.33 160.38 531.97 160.62 528.6 160.2C525.23 159.78 521.43 158.3 518.5 156.4C515.57 154.5 513.93 151.53 511 148.8C508.07 146.07 504.27 141.88 500.9 140C497.53 138.12 493.75 137.3 490.8 137.5C487.85 137.7 485.22 139.32 483.2 141.2C481.18 143.08 479.33 145.85 478.7 148.8C478.07 151.75 478.65 155.53 479.4 158.9C480.15 162.27 481.93 166.32 483.2 169C484.47 171.68 485.32 171.9 487 175C488.68 178.1 490.98 183.4 493.3 187.6C495.62 191.8 497.95 195.57 500.9 200.2C503.85 204.83 507.63 210.77 511 215.4C514.37 220.03 517.32 223.6 521.1 228C524.88 232.4 529.5 237.82 533.7 241.8C537.9 245.78 542.52 249.37 546.3 251.9C550.08 254.43 553.47 256.37 556.4 257C559.33 257.63 560.97 257.18 563.9 255.7C566.83 254.22 570.63 250.83 574 248.1C577.37 245.37 580.73 241.6 584.1 239.3C587.47 237 591.55 235.43 594.2 234.3C596.85 233.17 596.52 233.22 600 232.5C603.48 231.78 609.63 230.55 615.1 230C620.57 229.45 626.92 228.92 632.8 229.2C638.68 229.48 644.93 230.22 650.4 231.7C655.87 233.18 661.38 235.78 665.6 238.1C669.82 240.42 673.18 243.08 675.7 245.6C678.22 248.12 679.87 250.67 680.7 253.2C681.53 255.73 681.53 257.87 680.7 260.8C679.87 263.73 677.05 267.87 675.7 270.8C674.35 273.73 672.95 275.87 672.6 278.4C672.25 280.93 672.67 283.9 673.6 286C674.53 288.1 676.17 289.83 678.2 291C680.23 292.17 682.87 293.2 685.8 293C688.73 292.8 692.45 291.82 695.8 289.8C699.15 287.78 702.12 285.32 705.9 280.9C709.68 276.48 714.3 269.6 718.5 263.3C722.7 257 727.32 249.83 731.1 243.1C734.88 236.37 738.25 229.63 741.2 222.9C744.15 216.17 746.9 209 748.8 202.7C750.7 196.4 751.97 189.72 752.6 185.1C753.23 180.48 753.65 176.85 752.6 175C751.55 173.15 749.88 175.22 746.3 174C742.72 172.78 736.15 169.8 731.1 167.7C726.05 165.6 720.2 163.72 716 161.4C711.8 159.08 708.83 156.32 705.9 153.8C702.97 151.28 700.92 149.65 698.4 146.3C695.88 142.95 693.33 138.33 690.8 133.7C688.27 129.07 685.3 123.55 683.2 118.5C681.1 113.45 679.25 108.02 678.2 103.4C677.15 98.78 676.7 94.58 676.9 90.8C677.1 87.02 677.92 83.43 679.4 80.7C680.88 77.97 683.07 76.08 685.8 74.4C688.53 72.72 692.03 71.65 695.8 70.6C699.57 69.55 704.82 69.15 708.4 68.1C711.98 67.05 715.27 65.98 717.3 64.3C719.33 62.62 720.6 60.32 720.6 58C720.6 55.68 719.33 52.72 717.3 50.4C715.27 48.08 711.98 45.77 708.4 44.1C704.82 42.43 701.25 41.45 695.8 40.4C690.35 39.35 683.27 38.43 675.7 37.8C668.13 37.17 657.97 36.8 650.4 36.6C642.83 36.4 636.6 36.32 630.3 36.6C624 36.88 617.65 37.47 612.6 38.3C607.55 39.13 603.9 40.42 600 41.6Z"/>
</g>
<path d="M628.3 57.1C624.73 57.1 620.72 58.08 617.6 59.8C614.48 61.52 611.58 64.28 609.6 67.4C607.62 70.52 606.53 74.8 605.7 78.5C604.87 82.2 604.73 86.42 604.6 89.6C604.47 92.78 604.58 94.42 604.9 97.6C605.22 100.78 605.72 105 606.5 108.7C607.28 112.4 609.93 116.08 609.6 119.8C609.27 123.52 606.52 126.77 604.5 131C602.48 135.23 600.24 140.7 597.5 145.2C594.76 149.7 590.91 154.22 588.05 157.98C585.19 161.74 583.59 165.63 580.36 167.76C577.12 169.9 572.43 169.56 568.66 170.77C564.88 171.98 560.77 173.68 557.7 175.01C554.64 176.34 553.08 177.06 550.24 178.76C547.39 180.46 543.6 182.68 540.64 185.22C537.67 187.75 534.29 190.78 532.44 193.96C530.58 197.15 529.5 200.91 529.49 204.32C529.47 207.74 530.58 211.52 532.37 214.45C534.15 217.38 537.06 220.18 540.19 221.88C543.31 223.57 547.29 224.57 551.14 224.64C554.98 224.7 559.44 223.45 563.24 222.28C567.04 221.12 570.96 219.12 573.94 217.64C576.92 216.15 578.35 215.24 581.1 213.39C583.86 211.54 587.46 209.02 590.46 206.53C593.45 204.04 595.49 200.02 599.06 198.44C602.62 196.85 606.97 197.48 611.85 197.02C616.73 196.56 622.85 195.66 628.34 195.66C633.82 195.66 639.88 196.56 644.75 197.02C649.62 197.48 653.98 196.85 657.54 198.44C661.11 200.02 663.15 204.04 666.14 206.53C669.14 209.02 672.74 211.54 675.5 213.39C678.25 215.24 679.68 216.15 682.66 217.64C685.64 219.12 689.56 221.12 693.36 222.28C697.16 223.45 701.62 224.7 705.46 224.64C709.31 224.57 713.29 223.57 716.41 221.88C719.54 220.18 722.45 217.38 724.23 214.45C726.02 211.52 727.13 207.74 727.11 204.32C727.1 200.91 726.02 197.15 724.16 193.96C722.31 190.78 718.93 187.75 715.96 185.22C713 182.68 709.21 180.46 706.36 178.76C703.52 177.06 701.96 176.34 698.9 175.01C695.83 173.68 691.72 171.98 687.94 170.77C684.17 169.56 679.48 169.9 676.24 167.76C673.01 165.63 671.41 161.75 668.55 157.98C665.69 154.21 661.81 149.64 659.06 145.14C656.32 140.64 654.11 135.22 652.1 131C650.09 126.78 647.33 123.52 647 119.8C646.67 116.08 649.32 112.4 650.1 108.7C650.88 105 651.38 100.78 651.7 97.6C652.02 94.42 652.13 92.78 652 89.6C651.87 86.42 651.73 82.2 650.9 78.5C650.07 74.8 648.98 70.52 647 67.4C645.02 64.28 642.12 61.52 639 59.8C635.88 58.08 631.87 57.1 628.3 57.1Z" fill="none" stroke="#1c1c1c" stroke-width="0.9"/>
<path d="M628.3 60.62C630 60.62 631.72 60.87 633.4 61.49C635.08 62.1 636.8 62.9 638.39 64.31C639.98 65.72 641.56 67.67 642.95 69.95C644.34 72.23 645.7 75.01 646.75 77.98C647.79 80.95 648.64 84.49 649.24 87.75C649.84 91 650.27 94.44 650.33 97.51C650.38 100.58 650.11 103.93 649.57 106.19C649.02 108.45 648.32 109.84 647.07 111.07C645.82 112.3 644.18 113.01 642.08 113.57C639.98 114.13 636.78 114.26 634.48 114.44C632.19 114.62 630.36 114.65 628.3 114.65C626.24 114.65 624.41 114.62 622.12 114.44C619.82 114.26 616.62 114.13 614.52 113.57C612.42 113.01 610.78 112.3 609.53 111.07C608.28 109.84 607.58 108.45 607.03 106.19C606.49 103.93 606.22 100.58 606.27 97.51C606.33 94.44 606.76 91 607.36 87.75C607.96 84.49 608.81 80.95 609.85 77.98C610.9 75.01 612.26 72.23 613.65 69.95C615.04 67.67 616.62 65.72 618.21 64.31C619.8 62.9 621.52 62.1 623.2 61.49C624.88 60.87 626.6 60.62 628.3 60.62Z" fill="#fff" stroke="#222" stroke-width="0.8"/>
<path d="M628.3 63C629.87 63 631.45 63.23 633 63.8C634.55 64.37 636.13 65.1 637.6 66.4C639.07 67.7 640.52 69.5 641.8 71.6C643.08 73.7 644.33 76.27 645.3 79C646.27 81.73 647.05 85 647.6 88C648.15 91 648.55 94.17 648.6 97C648.65 99.83 648.4 102.92 647.9 105C647.4 107.08 646.75 108.37 645.6 109.5C644.45 110.63 642.93 111.28 641 111.8C639.07 112.32 636.12 112.43 634 112.6C631.88 112.77 630.2 112.8 628.3 112.8C626.4 112.8 624.72 112.77 622.6 112.6C620.48 112.43 617.53 112.32 615.6 111.8C613.67 111.28 612.15 110.63 611 109.5C609.85 108.37 609.2 107.08 608.7 105C608.2 102.92 607.95 99.83 608 97C608.05 94.17 608.45 91 609 88C609.55 85 610.33 81.73 611.3 79C612.27 76.27 613.52 73.7 614.8 71.6C616.08 69.5 617.53 67.7 619 66.4C620.47 65.1 622.05 64.37 623.6 63.8C625.15 63.23 626.73 63 628.3 63Z" fill="#fff" stroke="#000" stroke-width="2.5"/>
<path d="M628.3 65.46C629.73 65.46 631.17 65.68 632.59 66.19C634 66.71 635.44 67.38 636.78 68.56C638.12 69.75 639.44 71.39 640.61 73.31C641.78 75.22 642.92 77.56 643.8 80.06C644.69 82.55 645.4 85.53 645.9 88.26C646.4 91 646.77 93.89 646.81 96.47C646.86 99.06 646.63 101.87 646.18 103.77C645.72 105.67 645.13 106.84 644.08 107.87C643.03 108.91 641.65 109.5 639.88 109.97C638.12 110.44 635.43 110.55 633.5 110.7C631.57 110.85 630.03 110.88 628.3 110.88C626.57 110.88 625.03 110.85 623.1 110.7C621.17 110.55 618.48 110.44 616.72 109.97C614.95 109.5 613.57 108.91 612.52 107.87C611.47 106.84 610.88 105.67 610.42 103.77C609.97 101.87 609.74 99.06 609.79 96.47C609.83 93.89 610.2 91 610.7 88.26C611.2 85.53 611.91 82.55 612.8 80.06C613.68 77.56 614.82 75.22 615.99 73.31C617.16 71.39 618.48 69.75 619.82 68.56C621.16 67.38 622.6 66.71 624.01 66.19C625.43 65.68 626.87 65.46 628.3 65.46Z" fill="none" stroke="#000" stroke-width="2.5" stroke-dasharray="0.1 3.3" stroke-linecap="round"/>
<path d="M628.3 72.52C629.33 72.52 630.38 72.67 631.4 73.05C632.42 73.42 633.47 73.91 634.44 74.76C635.41 75.62 636.36 76.81 637.21 78.2C638.06 79.58 638.88 81.28 639.52 83.08C640.16 84.88 640.67 87.04 641.04 89.02C641.4 91 641.66 93.09 641.7 94.96C641.73 96.83 641.57 98.87 641.24 100.24C640.91 101.62 640.48 102.46 639.72 103.21C638.96 103.96 637.96 104.39 636.68 104.73C635.41 105.07 633.46 105.15 632.06 105.26C630.66 105.37 629.55 105.39 628.3 105.39C627.05 105.39 625.93 105.37 624.54 105.26C623.14 105.15 621.19 105.07 619.92 104.73C618.64 104.39 617.64 103.96 616.88 103.21C616.12 102.46 615.69 101.62 615.36 100.24C615.03 98.87 614.87 96.83 614.9 94.96C614.93 93.09 615.2 91 615.56 89.02C615.92 87.04 616.44 84.88 617.08 83.08C617.72 81.28 618.54 79.58 619.39 78.2C620.24 76.81 621.19 75.62 622.16 74.76C623.13 73.91 624.17 73.42 625.2 73.05C626.22 72.67 627.27 72.52 628.3 72.52Z" fill="none" stroke="#222" stroke-width="1.05" stroke-dasharray="2.8 1.6"/>
<path d="M628.3 80.28C628.86 80.28 629.43 80.36 629.99 80.57C630.55 80.77 631.12 81.04 631.65 81.5C632.18 81.97 632.7 82.62 633.16 83.38C633.62 84.13 634.07 85.06 634.42 86.04C634.77 87.02 635.05 88.2 635.25 89.28C635.45 90.36 635.59 91.5 635.61 92.52C635.63 93.54 635.54 94.65 635.36 95.4C635.18 96.15 634.94 96.61 634.53 97.02C634.11 97.43 633.57 97.66 632.87 97.85C632.18 98.03 631.11 98.08 630.35 98.14C629.59 98.2 628.98 98.21 628.3 98.21C627.62 98.21 627.01 98.2 626.25 98.14C625.49 98.08 624.42 98.03 623.73 97.85C623.03 97.66 622.49 97.43 622.07 97.02C621.66 96.61 621.42 96.15 621.24 95.4C621.06 94.65 620.97 93.54 620.99 92.52C621.01 91.5 621.15 90.36 621.35 89.28C621.55 88.2 621.83 87.02 622.18 86.04C622.53 85.06 622.98 84.13 623.44 83.38C623.9 82.62 624.42 81.97 624.95 81.5C625.48 81.04 626.05 80.77 626.61 80.57C627.17 80.36 627.74 80.28 628.3 80.28Z" fill="none" stroke="#222" stroke-width="1.05" stroke-dasharray="2.8 1.6"/>
<path d="M721.01 212.69C720.16 214.08 719.07 215.37 717.67 216.44C716.27 217.51 714.68 218.52 712.6 219.12C710.51 219.72 707.94 220.03 705.16 220.04C702.38 220.04 699.15 219.76 695.92 219.14C692.68 218.51 689.01 217.44 685.74 216.3C682.46 215.16 679.1 213.8 676.26 212.31C673.43 210.82 670.5 208.92 668.71 207.35C666.91 205.77 665.99 204.5 665.49 202.86C664.99 201.22 665.17 199.52 665.7 197.52C666.24 195.52 667.72 192.83 668.71 190.85C669.69 188.88 670.57 187.36 671.6 185.67C672.63 183.98 673.58 182.5 674.89 180.71C676.2 178.92 677.92 176.36 679.48 174.92C681.04 173.48 682.51 172.48 684.26 172.07C686.01 171.66 687.63 171.78 689.97 172.46C692.31 173.15 695.51 174.6 698.29 176.18C701.07 177.76 704 179.84 706.68 181.95C709.36 184.07 712.17 186.54 714.36 188.88C716.55 191.23 718.42 193.73 719.8 196.01C721.19 198.29 722.19 200.56 722.69 202.57C723.18 204.58 723.05 206.39 722.77 208.07C722.49 209.76 721.86 211.3 721.01 212.69Z" fill="#fff" stroke="#222" stroke-width="0.8"/>
<path d="M718.84 211.5C718.05 212.78 717.05 213.97 715.76 214.95C714.46 215.94 713 216.87 711.08 217.43C709.16 217.98 706.79 218.27 704.22 218.27C701.66 218.27 698.69 218.02 695.71 217.44C692.72 216.87 689.34 215.88 686.32 214.83C683.31 213.78 680.21 212.52 677.59 211.15C674.98 209.77 672.28 208.03 670.63 206.57C668.97 205.12 668.12 203.95 667.66 202.44C667.2 200.93 667.36 199.36 667.86 197.52C668.35 195.67 669.72 193.19 670.63 191.37C671.53 189.56 672.34 188.16 673.29 186.6C674.24 185.04 675.12 183.68 676.33 182.03C677.54 180.37 679.12 178.01 680.56 176.68C682 175.36 683.35 174.44 684.96 174.06C686.57 173.69 688.07 173.79 690.23 174.43C692.38 175.06 695.33 176.39 697.89 177.85C700.46 179.31 703.16 181.22 705.62 183.17C708.09 185.12 710.69 187.4 712.71 189.56C714.72 191.72 716.44 194.03 717.72 196.13C719 198.23 719.92 200.32 720.38 202.17C720.83 204.03 720.71 205.69 720.46 207.25C720.2 208.8 719.62 210.22 718.84 211.5Z" fill="#fff" stroke="#000" stroke-width="2.5"/>
<path d="M716.58 210.27C715.87 211.44 714.95 212.52 713.77 213.42C712.59 214.32 711.26 215.17 709.51 215.67C707.75 216.18 705.59 216.44 703.26 216.44C700.92 216.45 698.21 216.21 695.49 215.69C692.77 215.16 689.69 214.26 686.93 213.3C684.18 212.35 681.36 211.2 678.97 209.95C676.58 208.69 674.13 207.1 672.62 205.78C671.11 204.45 670.33 203.38 669.91 202C669.49 200.63 669.64 199.2 670.09 197.51C670.54 195.83 671.79 193.57 672.62 191.91C673.44 190.25 674.18 188.98 675.05 187.56C675.92 186.14 676.71 184.89 677.81 183.39C678.92 181.88 680.36 179.73 681.67 178.52C682.99 177.31 684.22 176.47 685.69 176.12C687.16 175.78 688.53 175.88 690.49 176.46C692.46 177.03 695.14 178.25 697.48 179.58C699.82 180.91 702.28 182.65 704.53 184.43C706.79 186.21 709.15 188.29 710.99 190.26C712.83 192.23 714.4 194.33 715.57 196.25C716.73 198.17 717.57 200.07 717.99 201.76C718.4 203.45 718.29 204.97 718.06 206.39C717.83 207.81 717.3 209.1 716.58 210.27Z" fill="none" stroke="#000" stroke-width="2.5" stroke-dasharray="0.1 3.3" stroke-linecap="round"/>
<path d="M710.13 206.74C709.61 207.59 708.95 208.37 708.1 209.02C707.24 209.67 706.28 210.29 705.01 210.65C703.74 211.02 702.18 211.21 700.49 211.21C698.79 211.21 696.83 211.04 694.86 210.66C692.9 210.28 690.67 209.63 688.67 208.94C686.68 208.24 684.64 207.42 682.91 206.51C681.18 205.6 679.41 204.45 678.31 203.49C677.22 202.53 676.66 201.76 676.36 200.76C676.05 199.76 676.16 198.73 676.49 197.51C676.81 196.29 677.71 194.66 678.31 193.46C678.91 192.26 679.45 191.33 680.07 190.31C680.7 189.28 681.28 188.38 682.07 187.29C682.87 186.2 683.92 184.64 684.87 183.76C685.82 182.89 686.71 182.28 687.77 182.03C688.84 181.78 689.83 181.85 691.25 182.27C692.67 182.69 694.61 183.57 696.31 184.53C698 185.49 699.78 186.76 701.41 188.04C703.04 189.33 704.75 190.83 706.08 192.26C707.41 193.68 708.55 195.21 709.4 196.59C710.24 197.98 710.85 199.36 711.15 200.58C711.45 201.81 711.37 202.91 711.2 203.93C711.03 204.96 710.65 205.89 710.13 206.74Z" fill="none" stroke="#222" stroke-width="1.05" stroke-dasharray="2.8 1.6"/>
<path d="M703.03 202.86C702.75 203.32 702.39 203.75 701.93 204.1C701.46 204.46 700.93 204.79 700.24 204.99C699.55 205.19 698.7 205.3 697.77 205.3C696.85 205.3 695.78 205.21 694.71 205C693.63 204.79 692.42 204.44 691.33 204.06C690.24 203.68 689.13 203.23 688.19 202.73C687.25 202.24 686.28 201.61 685.68 201.09C685.08 200.56 684.78 200.14 684.61 199.6C684.45 199.05 684.5 198.49 684.68 197.83C684.86 197.16 685.35 196.27 685.68 195.61C686.01 194.96 686.3 194.46 686.64 193.9C686.98 193.34 687.3 192.84 687.73 192.25C688.17 191.65 688.74 190.8 689.25 190.33C689.77 189.85 690.26 189.52 690.84 189.38C691.42 189.25 691.96 189.29 692.74 189.51C693.51 189.74 694.57 190.22 695.5 190.75C696.42 191.27 697.39 191.96 698.28 192.66C699.17 193.36 700.1 194.18 700.83 194.96C701.55 195.74 702.17 196.57 702.63 197.33C703.09 198.08 703.43 198.84 703.59 199.5C703.75 200.17 703.71 200.77 703.62 201.33C703.52 201.89 703.32 202.4 703.03 202.86Z" fill="none" stroke="#222" stroke-width="1.05" stroke-dasharray="2.8 1.6"/>
<path d="M535.59 212.69C534.74 211.3 534.11 209.76 533.83 208.07C533.55 206.39 533.42 204.58 533.91 202.57C534.41 200.56 535.41 198.29 536.8 196.01C538.18 193.73 540.05 191.23 542.24 188.88C544.43 186.54 547.24 184.07 549.92 181.95C552.6 179.84 555.53 177.76 558.31 176.18C561.09 174.6 564.29 173.15 566.63 172.46C568.97 171.78 570.59 171.66 572.34 172.07C574.09 172.48 575.56 173.48 577.12 174.92C578.68 176.36 580.4 178.92 581.71 180.71C583.02 182.5 583.97 183.98 585 185.67C586.03 187.36 586.91 188.88 587.89 190.85C588.88 192.83 590.36 195.52 590.9 197.52C591.43 199.52 591.61 201.22 591.11 202.86C590.61 204.5 589.69 205.77 587.89 207.35C586.1 208.92 583.17 210.82 580.34 212.31C577.5 213.8 574.14 215.16 570.86 216.3C567.59 217.44 563.92 218.51 560.68 219.14C557.45 219.76 554.22 220.04 551.44 220.04C548.66 220.03 546.09 219.72 544 219.12C541.92 218.52 540.33 217.51 538.93 216.44C537.53 215.37 536.44 214.08 535.59 212.69Z" fill="#fff" stroke="#222" stroke-width="0.8"/>
<path d="M537.76 211.5C536.98 210.22 536.4 208.8 536.14 207.25C535.89 205.69 535.77 204.03 536.22 202.17C536.68 200.32 537.6 198.23 538.88 196.13C540.16 194.03 541.88 191.72 543.89 189.56C545.91 187.4 548.51 185.12 550.98 183.17C553.44 181.22 556.14 179.31 558.71 177.85C561.27 176.39 564.22 175.06 566.37 174.43C568.53 173.79 570.03 173.69 571.64 174.06C573.25 174.44 574.6 175.36 576.04 176.68C577.48 178.01 579.06 180.37 580.27 182.03C581.48 183.68 582.36 185.04 583.31 186.6C584.26 188.16 585.07 189.56 585.97 191.37C586.88 193.19 588.25 195.67 588.74 197.52C589.24 199.36 589.4 200.93 588.94 202.44C588.48 203.95 587.63 205.12 585.97 206.57C584.32 208.03 581.62 209.77 579.01 211.15C576.39 212.52 573.29 213.78 570.28 214.83C567.26 215.88 563.88 216.87 560.89 217.44C557.91 218.02 554.94 218.27 552.38 218.27C549.81 218.27 547.44 217.98 545.52 217.43C543.6 216.87 542.14 215.94 540.84 214.95C539.55 213.97 538.55 212.78 537.76 211.5Z" fill="#fff" stroke="#000" stroke-width="2.5"/>
<path d="M540.02 210.27C539.3 209.1 538.77 207.81 538.54 206.39C538.31 204.97 538.2 203.45 538.61 201.76C539.03 200.07 539.87 198.17 541.03 196.25C542.2 194.33 543.77 192.23 545.61 190.26C547.45 188.29 549.81 186.21 552.07 184.43C554.32 182.65 556.78 180.91 559.12 179.58C561.46 178.25 564.14 177.03 566.11 176.46C568.07 175.88 569.44 175.78 570.91 176.12C572.38 176.47 573.61 177.31 574.93 178.52C576.24 179.73 577.68 181.88 578.79 183.39C579.89 184.89 580.68 186.14 581.55 187.56C582.42 188.98 583.16 190.25 583.98 191.91C584.81 193.57 586.06 195.83 586.51 197.51C586.96 199.2 587.11 200.63 586.69 202C586.27 203.38 585.49 204.45 583.98 205.78C582.47 207.1 580.02 208.69 577.63 209.95C575.24 211.2 572.42 212.35 569.67 213.3C566.91 214.26 563.83 215.16 561.11 215.69C558.39 216.21 555.68 216.45 553.34 216.44C551.01 216.44 548.85 216.18 547.09 215.67C545.34 215.17 544.01 214.32 542.83 213.42C541.65 212.52 540.73 211.44 540.02 210.27Z" fill="none" stroke="#000" stroke-width="2.5" stroke-dasharray="0.1 3.3" stroke-linecap="round"/>
<path d="M546.47 206.74C545.95 205.89 545.57 204.96 545.4 203.93C545.23 202.91 545.15 201.81 545.45 200.58C545.75 199.36 546.36 197.98 547.2 196.59C548.05 195.21 549.19 193.68 550.52 192.26C551.85 190.83 553.56 189.33 555.19 188.04C556.82 186.76 558.6 185.49 560.29 184.53C561.99 183.57 563.93 182.69 565.35 182.27C566.77 181.85 567.76 181.78 568.83 182.03C569.89 182.28 570.78 182.89 571.73 183.76C572.68 184.64 573.73 186.2 574.53 187.29C575.32 188.38 575.9 189.28 576.53 190.31C577.15 191.33 577.69 192.26 578.29 193.46C578.89 194.66 579.79 196.29 580.11 197.51C580.44 198.73 580.55 199.76 580.24 200.76C579.94 201.76 579.38 202.53 578.29 203.49C577.19 204.45 575.42 205.6 573.69 206.51C571.96 207.42 569.92 208.24 567.93 208.94C565.93 209.63 563.7 210.28 561.74 210.66C559.77 211.04 557.81 211.21 556.11 211.21C554.42 211.21 552.86 211.02 551.59 210.65C550.32 210.29 549.36 209.67 548.5 209.02C547.65 208.37 546.99 207.59 546.47 206.74Z" fill="none" stroke="#222" stroke-width="1.05" stroke-dasharray="2.8 1.6"/>
<path d="M553.57 202.86C553.28 202.4 553.08 201.89 552.98 201.33C552.89 200.77 552.85 200.17 553.01 199.5C553.17 198.84 553.51 198.08 553.97 197.33C554.43 196.57 555.05 195.74 555.77 194.96C556.5 194.18 557.43 193.36 558.32 192.66C559.21 191.96 560.18 191.27 561.1 190.75C562.03 190.22 563.09 189.74 563.86 189.51C564.64 189.29 565.18 189.25 565.76 189.38C566.34 189.52 566.83 189.85 567.35 190.33C567.86 190.8 568.43 191.65 568.87 192.25C569.3 192.84 569.62 193.34 569.96 193.9C570.3 194.46 570.59 194.96 570.92 195.61C571.25 196.27 571.74 197.16 571.92 197.83C572.1 198.49 572.15 199.05 571.99 199.6C571.82 200.14 571.52 200.56 570.92 201.09C570.32 201.61 569.35 202.24 568.41 202.73C567.47 203.23 566.36 203.68 565.27 204.06C564.18 204.44 562.97 204.79 561.89 205C560.82 205.21 559.75 205.3 558.83 205.3C557.9 205.3 557.05 205.19 556.36 204.99C555.67 204.79 555.14 204.46 554.67 204.1C554.21 203.75 553.85 203.32 553.57 202.86Z" fill="none" stroke="#222" stroke-width="1.05" stroke-dasharray="2.8 1.6"/>
<path d="M616.07 124.04C618.37 122.33 623.92 122.29 627.88 122.29C631.84 122.29 637.52 122.33 639.82 124.04C642.12 125.76 641.26 129.64 641.69 132.58C642.12 135.53 641.61 138.43 642.39 141.71C643.17 144.98 644.4 148.94 646.37 152.24C648.34 155.53 651.15 158.85 654.21 161.48C657.27 164.11 662.22 166.28 664.74 168.03C667.25 169.79 668.42 170.47 669.3 172.01C670.18 173.55 670.55 174.88 670 177.28C669.46 179.67 667.78 184.22 666.02 186.4C664.27 188.59 662.32 190.38 659.47 190.38C656.63 190.38 652.45 187.61 648.94 186.4C645.43 185.19 641.92 183.83 638.41 183.13C634.9 182.42 631.37 182.19 627.88 182.19C624.39 182.19 620.96 182.42 617.47 183.13C613.98 183.83 610.24 185.19 606.94 186.4C603.64 187.61 600.54 190.38 597.7 190.38C594.85 190.38 591.71 188.59 589.86 186.4C588.01 184.22 587.03 179.67 586.58 177.28C586.13 174.88 586.19 173.55 587.17 172.01C588.14 170.47 590.01 169.79 592.43 168.03C594.85 166.28 598.83 164.11 601.67 161.48C604.52 158.85 607.54 155.53 609.51 152.24C611.48 148.94 612.73 144.98 613.49 141.71C614.25 138.43 613.65 135.53 614.08 132.58C614.51 129.64 613.76 125.76 616.07 124.04Z" fill="#fff" stroke="#222" stroke-width="0.8"/>
<path d="M616.93 126.82C619.07 125.23 624.22 125.19 627.89 125.19C631.56 125.19 636.82 125.23 638.96 126.82C641.09 128.41 640.3 132.01 640.69 134.74C641.09 137.47 640.62 140.17 641.35 143.2C642.07 146.24 643.21 149.91 645.03 152.97C646.86 156.03 649.46 159.1 652.3 161.54C655.14 163.98 659.74 165.99 662.07 167.62C664.4 169.24 665.49 169.88 666.3 171.31C667.11 172.73 667.46 173.96 666.95 176.19C666.45 178.41 664.89 182.63 663.26 184.65C661.63 186.68 659.83 188.34 657.19 188.34C654.55 188.34 650.68 185.77 647.42 184.65C644.17 183.53 640.91 182.26 637.66 181.61C634.4 180.96 631.13 180.75 627.89 180.75C624.65 180.75 621.47 180.96 618.24 181.61C615 182.26 611.53 183.53 608.47 184.65C605.41 185.77 602.54 188.34 599.9 188.34C597.26 188.34 594.35 186.68 592.63 184.65C590.91 182.63 590.01 178.41 589.59 176.19C589.18 173.96 589.23 172.73 590.13 171.31C591.04 169.88 592.77 169.24 595.02 167.62C597.26 165.99 600.95 163.98 603.59 161.54C606.23 159.1 609.03 156.03 610.86 152.97C612.68 149.91 613.84 146.24 614.55 143.2C615.25 140.17 614.69 137.47 615.09 134.74C615.49 132.01 614.8 128.41 616.93 126.82Z" fill="#fff" stroke="#222" stroke-width="0.8"/>
<path d="M617.8 129.6C619.77 128.13 624.52 128.1 627.9 128.1C631.28 128.1 636.13 128.13 638.1 129.6C640.07 131.07 639.33 134.38 639.7 136.9C640.07 139.42 639.63 141.9 640.3 144.7C640.97 147.5 642.02 150.88 643.7 153.7C645.38 156.52 647.78 159.35 650.4 161.6C653.02 163.85 657.25 165.7 659.4 167.2C661.55 168.7 662.55 169.28 663.3 170.6C664.05 171.92 664.37 173.05 663.9 175.1C663.43 177.15 662 181.03 660.5 182.9C659 184.77 657.33 186.3 654.9 186.3C652.47 186.3 648.9 183.93 645.9 182.9C642.9 181.87 639.9 180.7 636.9 180.1C633.9 179.5 630.88 179.3 627.9 179.3C624.92 179.3 621.98 179.5 619 180.1C616.02 180.7 612.82 181.87 610 182.9C607.18 183.93 604.53 186.3 602.1 186.3C599.67 186.3 596.98 184.77 595.4 182.9C593.82 181.03 592.98 177.15 592.6 175.1C592.22 173.05 592.27 171.92 593.1 170.6C593.93 169.28 595.53 168.7 597.6 167.2C599.67 165.7 603.07 163.85 605.5 161.6C607.93 159.35 610.52 156.52 612.2 153.7C613.88 150.88 614.95 147.5 615.6 144.7C616.25 141.9 615.73 139.42 616.1 136.9C616.47 134.38 615.83 131.07 617.8 129.6Z" fill="#fff" stroke="#000" stroke-width="2.3"/>
<path d="M618.56 132.05C620.38 130.7 624.78 130.66 627.91 130.66C631.04 130.66 635.52 130.7 637.34 132.05C639.16 133.41 638.48 136.48 638.82 138.81C639.16 141.13 638.76 143.43 639.38 146.02C639.99 148.61 640.97 151.74 642.52 154.34C644.08 156.95 646.3 159.57 648.72 161.65C651.14 163.73 655.06 165.44 657.04 166.83C659.03 168.22 659.96 168.76 660.65 169.98C661.35 171.2 661.64 172.24 661.21 174.14C660.78 176.04 659.45 179.63 658.06 181.36C656.67 183.08 655.13 184.5 652.88 184.5C650.63 184.5 647.33 182.31 644.56 181.36C641.78 180.4 639.01 179.32 636.23 178.76C633.46 178.21 630.67 178.03 627.91 178.03C625.15 178.03 622.43 178.21 619.67 178.76C616.92 179.32 613.96 180.4 611.35 181.36C608.74 182.31 606.29 184.5 604.04 184.5C601.79 184.5 599.31 183.08 597.85 181.36C596.38 179.63 595.61 176.04 595.25 174.14C594.9 172.24 594.95 171.2 595.72 169.98C596.49 168.76 597.97 168.22 599.88 166.83C601.79 165.44 604.94 163.73 607.19 161.65C609.44 159.57 611.83 156.95 613.38 154.34C614.94 151.74 615.93 148.61 616.53 146.02C617.13 143.43 616.65 141.13 616.99 138.81C617.33 136.48 616.75 133.41 618.56 132.05Z" fill="none" stroke="#000" stroke-width="2.5" stroke-dasharray="0.1 3.3" stroke-linecap="round"/>
<path d="M620.04 136.79C621.58 135.65 625.28 135.62 627.92 135.62C630.56 135.62 634.34 135.65 635.88 136.79C637.41 137.94 636.84 140.53 637.13 142.49C637.41 144.45 637.07 146.39 637.59 148.57C638.11 150.76 638.93 153.39 640.25 155.59C641.56 157.79 643.43 160 645.47 161.75C647.51 163.51 650.81 164.95 652.49 166.12C654.17 167.29 654.95 167.75 655.53 168.77C656.12 169.8 656.37 170.69 656 172.28C655.64 173.88 654.52 176.91 653.35 178.37C652.18 179.82 650.88 181.02 648.98 181.02C647.08 181.02 644.3 179.17 641.96 178.37C639.62 177.56 637.28 176.65 634.94 176.18C632.6 175.72 630.25 175.56 627.92 175.56C625.6 175.56 623.31 175.72 620.98 176.18C618.65 176.65 616.16 177.56 613.96 178.37C611.76 179.17 609.7 181.02 607.8 181.02C605.9 181.02 603.81 179.82 602.57 178.37C601.34 176.91 600.69 173.88 600.39 172.28C600.09 170.69 600.13 169.8 600.78 168.77C601.43 167.75 602.68 167.29 604.29 166.12C605.9 164.95 608.55 163.51 610.45 161.75C612.35 160 614.36 157.79 615.68 155.59C616.99 153.39 617.82 150.76 618.33 148.57C618.84 146.39 618.43 144.45 618.72 142.49C619 140.53 618.51 137.94 620.04 136.79Z" fill="none" stroke="#222" stroke-width="0.9" stroke-dasharray="2.4 1.6"/>
<ellipse cx="627.9" cy="137.5" rx="5.2" ry="5" fill="none" stroke="#222" stroke-width="0.9" stroke-dasharray="2.4 1.6"/>
<ellipse cx="627.9" cy="137.5" rx="2.4" ry="2.3" fill="none" stroke="#222" stroke-width="0.9" stroke-dasharray="2 1.5"/>
<ellipse cx="605.8" cy="174.5" rx="5.2" ry="5" fill="none" stroke="#222" stroke-width="0.9" stroke-dasharray="2.4 1.6"/>
<ellipse cx="605.8" cy="174.5" rx="2.4" ry="2.3" fill="none" stroke="#222" stroke-width="0.9" stroke-dasharray="2 1.5"/>
<ellipse cx="650.2" cy="174.5" rx="5.2" ry="5" fill="none" stroke="#222" stroke-width="0.9" stroke-dasharray="2.4 1.6"/>
<ellipse cx="650.2" cy="174.5" rx="2.4" ry="2.3" fill="none" stroke="#222" stroke-width="0.9" stroke-dasharray="2 1.5"/>
<ellipse cx="628.3" cy="118.8" rx="11.8" ry="5.8" fill="#fff" stroke="#222" stroke-width="0.8" transform="rotate(0 628.3 118.8)"/>
<ellipse cx="667.81" cy="183.6" rx="11.8" ry="5.8" fill="#fff" stroke="#222" stroke-width="0.8" transform="rotate(60 667.81 183.6)"/>
<ellipse cx="588.79" cy="183.6" rx="11.8" ry="5.8" fill="#fff" stroke="#222" stroke-width="0.8" transform="rotate(-60 588.79 183.6)"/>
<g fill="#1f4ca6"><circle cx="597" cy="98.8" r="3.1"/><circle cx="659.6" cy="98.4" r="3.1"/><circle cx="602.4" cy="116.2" r="3.1"/><circle cx="654" cy="116.2" r="3.1"/><circle cx="554.3" cy="168.2" r="3.1"/><circle cx="573.5" cy="164" r="3.1"/><circle cx="683.2" cy="164" r="3.1"/><circle cx="701.6" cy="168.2" r="3.1"/><circle cx="599" cy="206.6" r="3.1"/><circle cx="657.2" cy="206.6" r="3.1"/><circle cx="585.8" cy="219.7" r="3.1"/><circle cx="670.3" cy="220.3" r="3.1"/><circle cx="627.9" cy="162.5" r="3.2"/></g>
<g font-family="Liberation Sans, sans-serif" font-weight="bold" font-size="20.5" fill="#e6141c" stroke="#fff" stroke-width="2" paint-order="stroke" text-anchor="middle">
<text x="629.8" y="126.8">B</text>
<text x="588" y="191">B</text>
<text x="669" y="191">B</text>
</g>
<rect x="454.0" y="15.0" width="332.20000000000005" height="298.1" fill="none" stroke="#9c9c9c" stroke-width="1"/>
<g stroke="#555" stroke-width="1">
<path d="M454.0 39.9h4.6"/>
<path d="M454.0 72.2h4.6"/>
<path d="M454.0 104.3h4.6"/>
<path d="M454.0 136.7h4.6"/>
<path d="M454.0 168.8h4.6"/>
<path d="M454.0 201h4.6"/>
<path d="M454.0 233.3h4.6"/>
<path d="M454.0 265.4h4.6"/>
<path d="M497.1 313.1v5.3"/>
<path d="M530 313.1v5.3"/>
<path d="M562.7 313.1v5.3"/>
<path d="M595.5 313.1v5.3"/>
<path d="M628.3 313.1v5.3"/>
<path d="M661 313.1v5.3"/>
<path d="M693.8 313.1v5.3"/>
<path d="M726.8 313.1v5.3"/>
<path d="M759.8 313.1v5.3"/>
</g>
<g font-family="Liberation Sans, sans-serif" font-size="13" fill="#111">
<text x="422.8" y="17.6" textLength="27.4" lengthAdjust="spacingAndGlyphs">5.89</text>
<text x="422.8" y="76.9" textLength="27.4" lengthAdjust="spacingAndGlyphs">2.95</text>
<text x="422.8" y="141.4" textLength="27.4" lengthAdjust="spacingAndGlyphs">0.00</text>
<text x="418.6" y="205.7" textLength="31.6" lengthAdjust="spacingAndGlyphs">-2.95</text>
<text x="418.6" y="270" textLength="31.6" lengthAdjust="spacingAndGlyphs">-5.89</text>
<text x="495.5" y="333.1" font-size="14.3" text-anchor="middle">-5.70</text>
<text x="560.8" y="333.1" font-size="14.3" text-anchor="middle">-2.85</text>
<text x="628.3" y="333.1" font-size="14.3" text-anchor="middle">0.00</text>
<text x="694" y="333.1" font-size="14.3" text-anchor="middle">2.85</text>
<text x="759.8" y="333.1" font-size="14.3" text-anchor="middle">5.70</text>
</g>
<text x="559.6" y="348.9" textLength="136.8" lengthAdjust="spacingAndGlyphs" font-family="Liberation Sans, sans-serif" font-size="16.6" fill="#111">Length unit: Bohr</text>
<text x="400.5" y="32.2" font-family="Liberation Sans, sans-serif" font-size="33" fill="#000">b</text>
<defs><radialGradient id="gc1" cx="0.5" cy="0.42" r="0.55"><stop offset="0" stop-color="#fff"/><stop offset="0.45" stop-color="#fff3e6"/><stop offset="1" stop-color="#ff9a33"/></radialGradient><linearGradient id="gl1" x1="0" y1="0" x2="1" y2="0"><stop offset="0" stop-color="#ffb566"/><stop offset="0.45" stop-color="#fff"/><stop offset="1" stop-color="#ff9326"/></linearGradient></defs>
<g stroke="#000" stroke-width="3.4" stroke-linecap="butt" fill="none">
<path d="M103.6 562.3L279.4 564.2"/>
<path d="M137.1 516.1L169.9 484.6"/>
<path d="M209 483.3L246 522"/>
</g>
<circle cx="190.1" cy="472.8" r="20.5" fill="none" stroke="#ff8000" stroke-width="2.3"/>
<circle cx="190.1" cy="463.1" r="21.4" fill="url(#gc1)" stroke="#ff8000" stroke-width="2.5"/>
<circle cx="190.1" cy="463.3" r="7" fill="#ff8000"/>
<radialGradient id="glu" gradientUnits="userSpaceOnUse" cx="106" cy="533" r="36"><stop offset="0" stop-color="#fff"/><stop offset="0.3" stop-color="#fff6ee"/><stop offset="1" stop-color="#ff8a18"/></radialGradient>
<radialGradient id="gru" gradientUnits="userSpaceOnUse" cx="262" cy="528" r="34"><stop offset="0" stop-color="#fff"/><stop offset="0.3" stop-color="#fff6ee"/><stop offset="1" stop-color="#ff8a18"/></radialGradient>
<path d="M94 558.9C91.75 557.55 92.32 553.65 92.7 549C93.08 544.35 94.35 536.7 96.3 531C98.25 525.3 100.95 518.93 104.4 514.8C107.85 510.67 112.8 507.4 117 506.2C121.2 505 126 505.87 129.6 507.6C133.2 509.33 136.95 513.3 138.6 516.6C140.25 519.9 140.4 523.5 139.5 527.4C138.6 531.3 136.35 536.1 133.2 540C130.05 543.9 125.1 547.95 120.6 550.8C116.1 553.65 110.63 555.75 106.2 557.1C101.77 558.45 96.25 560.25 94 558.9Z" fill="url(#glu)" stroke="#ff8000" stroke-width="2.5"/>
<path d="M94 559.5C92.05 558.9 90.07 558.85 86.4 560.7C82.73 562.55 76.5 566.85 72 570.6C67.5 574.35 62.55 579.3 59.4 583.2C56.25 587.1 53.85 590.4 53.1 594C52.35 597.6 53.25 601.95 54.9 604.8C56.55 607.65 59.85 610.2 63 611.1C66.15 612 70.2 611.85 73.8 610.2C77.4 608.55 81.3 605.4 84.6 601.2C87.9 597 91.35 590.1 93.6 585C95.85 579.9 97.35 574.05 98.1 570.6C98.85 567.15 98.78 566.15 98.1 564.3C97.42 562.45 95.95 560.1 94 559.5Z" fill="#fff" stroke="#ff8000" stroke-width="2.5"/>
<path d="M285.8 563.4C281.75 562.5 272 558.6 266 554.4C260 550.2 253.4 543 249.8 538.2C246.2 533.4 244.7 529.5 244.4 525.6C244.1 521.7 245.6 517.65 248 514.8C250.4 511.95 255.2 509.4 258.8 508.5C262.4 507.6 266 507.45 269.6 509.4C273.2 511.35 277.4 515.7 280.4 520.2C283.4 524.7 285.8 531 287.6 536.4C289.4 541.8 290.75 548.7 291.2 552.6C291.65 556.5 291.2 558 290.3 559.8C289.4 561.6 289.85 564.3 285.8 563.4Z" fill="url(#gru)" stroke="#ff8000" stroke-width="2.5"/>
<path d="M286.5 563.8C288 561.7 292.82 559.57 296.6 559.8C300.38 560.03 304.7 562.2 309.2 565.2C313.7 568.2 319.85 573.3 323.6 577.8C327.35 582.3 330.5 588 331.7 592.2C332.9 596.4 332.15 600 330.8 603C329.45 606 326.6 608.85 323.6 610.2C320.6 611.55 316.4 612.3 312.8 611.1C309.2 609.9 305.3 606.75 302 603C298.7 599.25 295.4 593.7 293 588.6C290.6 583.5 288.68 576.53 287.6 572.4C286.52 568.27 285 565.9 286.5 563.8Z" fill="#fff" stroke="#ff8000" stroke-width="2.5"/>
<circle cx="94" cy="559.2" r="7.3" fill="#ff8000"/><circle cx="285.8" cy="563.8" r="7.5" fill="#ff8000"/>
<path d="M204.6 403.1L98.6 555.5" stroke="#000" stroke-width="1.9" stroke-dasharray="8 6.7" fill="none"/>
<path d="M147 494.5 C 158 488, 172 488, 183 498 C 190 506, 194 516, 194.5 527" fill="none" stroke="#000" stroke-width="1.6"/>
<path d="M135.3 501 L149.5 489.5 L152 497.5Z" fill="#000"/>
<path d="M195.6 537.5 L190 518.5 L201.4 520Z" fill="#000"/>
<g font-family="Liberation Serif, serif" fill="#222">
<text x="115" y="630.5" font-size="41" font-style="italic">ϕ</text>
<text x="145.5" y="630.5" font-size="41">=</text>
<text x="178.8" y="630.5" font-size="41">25.5</text>
<text x="253" y="610" font-size="31">o</text>
</g>
<text x="2.5" y="407.6" font-family="Liberation Sans, sans-serif" font-size="33" fill="#000">c</text>
<path d="M454.4 442.6H787.4" stroke="#3b3bff" stroke-width="1" stroke-dasharray="3.2 3.2" fill="none"/>
<path d="M620.9 387.3V641.2" stroke="#ff3b3b" stroke-width="1" stroke-dasharray="3.2 3.2" fill="none"/>
<path d="M470.8 479.68C472.06 479.65 475.85 479.76 478.37 479.46C480.89 479.17 483.42 478.52 485.94 477.91C488.46 477.3 490.99 476.77 493.51 475.81C496.03 474.85 498.56 473.61 501.08 472.16C503.6 470.7 506.13 468.97 508.65 467.06C511.17 465.16 513.7 463.19 516.22 460.75C518.74 458.32 521.27 455.31 523.79 452.45C526.31 449.59 528.84 446.66 531.36 443.6C533.88 440.53 536.41 437.27 538.93 434.08C541.45 430.88 543.98 427.3 546.5 424.45C549.02 421.59 551.55 418.89 554.07 416.92C556.59 414.94 559.12 413.32 561.64 412.6C564.16 411.88 566.69 411.64 569.21 412.6C571.73 413.56 574.26 415.24 576.78 418.36C579.3 421.47 581.83 425.79 584.35 431.31C586.87 436.83 589.4 443.73 591.92 451.46C594.44 459.19 596.97 468.21 599.49 477.69C602.01 487.18 604.54 497.99 607.06 508.36C609.58 518.72 612.11 529.68 614.63 539.91C617.15 550.13 619.68 560.4 622.2 569.68C624.72 578.96 627.25 588.32 629.77 595.59C632.29 602.86 634.82 608.72 637.34 613.3C639.86 617.88 642.39 621.21 644.91 623.04C647.43 624.87 649.96 625 652.48 624.26C655 623.52 657.53 621.45 660.05 618.61C662.57 615.77 665.1 611.66 667.62 607.21C670.14 602.76 672.67 597.38 675.19 591.93C677.71 586.49 680.24 580.4 682.76 574.55C685.28 568.71 687.81 562.69 690.33 556.84C692.85 550.99 695.38 545.05 697.9 539.46C700.42 533.87 702.95 528.41 705.47 523.3C707.99 518.19 710.52 513.37 713.04 508.8C715.56 504.22 718.09 499.81 720.61 495.85C723.13 491.88 725.66 488.28 728.18 485C730.7 481.71 733.23 478.84 735.75 476.14C738.27 473.45 740.8 470.92 743.32 468.84C745.84 466.75 748.37 465.11 750.89 463.63C753.41 462.16 755.94 461.07 758.46 459.98C760.98 458.89 763.51 457.78 766.03 457.1C768.55 456.42 772.34 456.09 773.6 455.88" fill="none" stroke="#000" stroke-width="1.3"/>
<g fill="#000"><circle cx="470.8" cy="479.68" r="2.7"/><circle cx="478.37" cy="479.46" r="2.7"/><circle cx="485.94" cy="477.91" r="2.7"/><circle cx="493.51" cy="475.81" r="2.7"/><circle cx="501.08" cy="472.16" r="2.7"/><circle cx="508.65" cy="467.06" r="2.7"/><circle cx="516.22" cy="460.75" r="2.7"/><circle cx="523.79" cy="452.45" r="2.7"/><circle cx="531.36" cy="443.6" r="2.7"/><circle cx="538.93" cy="434.08" r="2.7"/><circle cx="546.5" cy="424.45" r="2.7"/><circle cx="554.07" cy="416.92" r="2.7"/><circle cx="561.64" cy="412.6" r="2.7"/><circle cx="569.21" cy="412.6" r="2.7"/><circle cx="576.78" cy="418.36" r="2.7"/><circle cx="584.35" cy="431.31" r="2.7"/><circle cx="591.92" cy="451.46" r="2.7"/><circle cx="599.49" cy="477.69" r="2.7"/><circle cx="607.06" cy="508.36" r="2.7"/><circle cx="614.63" cy="539.91" r="2.7"/><circle cx="622.2" cy="569.68" r="2.7"/><circle cx="629.77" cy="595.59" r="2.7"/><circle cx="637.34" cy="613.3" r="2.7"/><circle cx="644.91" cy="623.04" r="2.7"/><circle cx="652.48" cy="624.26" r="2.7"/><circle cx="660.05" cy="618.61" r="2.7"/><circle cx="667.62" cy="607.21" r="2.7"/><circle cx="675.19" cy="591.93" r="2.7"/><circle cx="682.76" cy="574.55" r="2.7"/><circle cx="690.33" cy="556.84" r="2.7"/><circle cx="697.9" cy="539.46" r="2.7"/><circle cx="705.47" cy="523.3" r="2.7"/><circle cx="713.04" cy="508.8" r="2.7"/><circle cx="720.61" cy="495.85" r="2.7"/><circle cx="728.18" cy="485" r="2.7"/><circle cx="735.75" cy="476.14" r="2.7"/><circle cx="743.32" cy="468.84" r="2.7"/><circle cx="750.89" cy="463.63" r="2.7"/><circle cx="758.46" cy="459.98" r="2.7"/><circle cx="766.03" cy="457.1" r="2.7"/><circle cx="773.6" cy="455.88" r="2.7"/></g>
<rect x="454.4" y="387.3" width="333.0" height="253.90000000000003" fill="none" stroke="#2a2a2a" stroke-width="1.1"/>
<g stroke="#2a2a2a" stroke-width="1">
<path d="M454.4 387.25h5.5 M787.4 387.25h-5.5"/>
<path d="M454.4 414.93h3.2 M787.4 414.93h-3.2"/>
<path d="M454.4 442.6h5.5 M787.4 442.6h-5.5"/>
<path d="M454.4 470.28h3.2 M787.4 470.28h-3.2"/>
<path d="M454.4 497.95h5.5 M787.4 497.95h-5.5"/>
<path d="M454.4 525.62h3.2 M787.4 525.62h-3.2"/>
<path d="M454.4 553.3h5.5 M787.4 553.3h-5.5"/>
<path d="M454.4 580.98h3.2 M787.4 580.98h-3.2"/>
<path d="M454.4 608.65h5.5 M787.4 608.65h-5.5"/>
<path d="M454.4 636.33h3.2 M787.4 636.33h-3.2"/>
<path d="M469.9 641.2v-5.5 M469.9 387.3v5.5"/>
<path d="M488.81 641.2v-3.2 M488.81 387.3v3.2"/>
<path d="M507.73 641.2v-5.5 M507.73 387.3v5.5"/>
<path d="M526.64 641.2v-3.2 M526.64 387.3v3.2"/>
<path d="M545.55 641.2v-5.5 M545.55 387.3v5.5"/>
<path d="M564.46 641.2v-3.2 M564.46 387.3v3.2"/>
<path d="M583.38 641.2v-5.5 M583.38 387.3v5.5"/>
<path d="M602.29 641.2v-3.2 M602.29 387.3v3.2"/>
<path d="M621.2 641.2v-5.5 M621.2 387.3v5.5"/>
<path d="M640.11 641.2v-3.2 M640.11 387.3v3.2"/>
<path d="M659.03 641.2v-5.5 M659.03 387.3v5.5"/>
<path d="M677.94 641.2v-3.2 M677.94 387.3v3.2"/>
<path d="M696.85 641.2v-5.5 M696.85 387.3v5.5"/>
<path d="M715.76 641.2v-3.2 M715.76 387.3v3.2"/>
<path d="M734.68 641.2v-5.5 M734.68 387.3v5.5"/>
<path d="M753.59 641.2v-3.2 M753.59 387.3v3.2"/>
<path d="M772.5 641.2v-5.5 M772.5 387.3v5.5"/>
</g>
<g font-family="Liberation Sans, sans-serif" font-size="13.7" fill="#111">
<text x="448.6" y="391.85" text-anchor="end">5</text>
<text x="448.6" y="447.2" text-anchor="end">0</text>
<text x="448.6" y="502.55" text-anchor="end">-5</text>
<text x="448.6" y="557.9" text-anchor="end">-10</text>
<text x="448.6" y="613.25" text-anchor="end">-15</text>
<text x="468.9" y="658.4" text-anchor="middle">-2.0</text>
<text x="506.73" y="658.4" text-anchor="middle">-1.5</text>
<text x="544.55" y="658.4" text-anchor="middle">-1.0</text>
<text x="582.38" y="658.4" text-anchor="middle">-0.5</text>
<text x="621.2" y="658.4" text-anchor="middle">0.0</text>
<text x="659.03" y="658.4" text-anchor="middle">0.5</text>
<text x="696.85" y="658.4" text-anchor="middle">1.0</text>
<text x="734.68" y="658.4" text-anchor="middle">1.5</text>
<text x="772.5" y="658.4" text-anchor="middle">2.0</text>
</g>
<text x="474" y="679.3" font-family="Liberation Sans, sans-serif" font-size="17.6" fill="#111" textLength="287" lengthAdjust="spacingAndGlyphs">Cartesian coordinates in Z direction / Å</text>
<text x="466" y="410.9" font-family="Liberation Sans, sans-serif" font-size="16.8" fill="#111">NICS(Z)<tspan font-size="13" dy="2.6">ZZ</tspan></text>
<text x="399.6" y="407.8" font-family="Liberation Sans, sans-serif" font-size="32.5" fill="#000">d</text>
</svg>
</body></html>
